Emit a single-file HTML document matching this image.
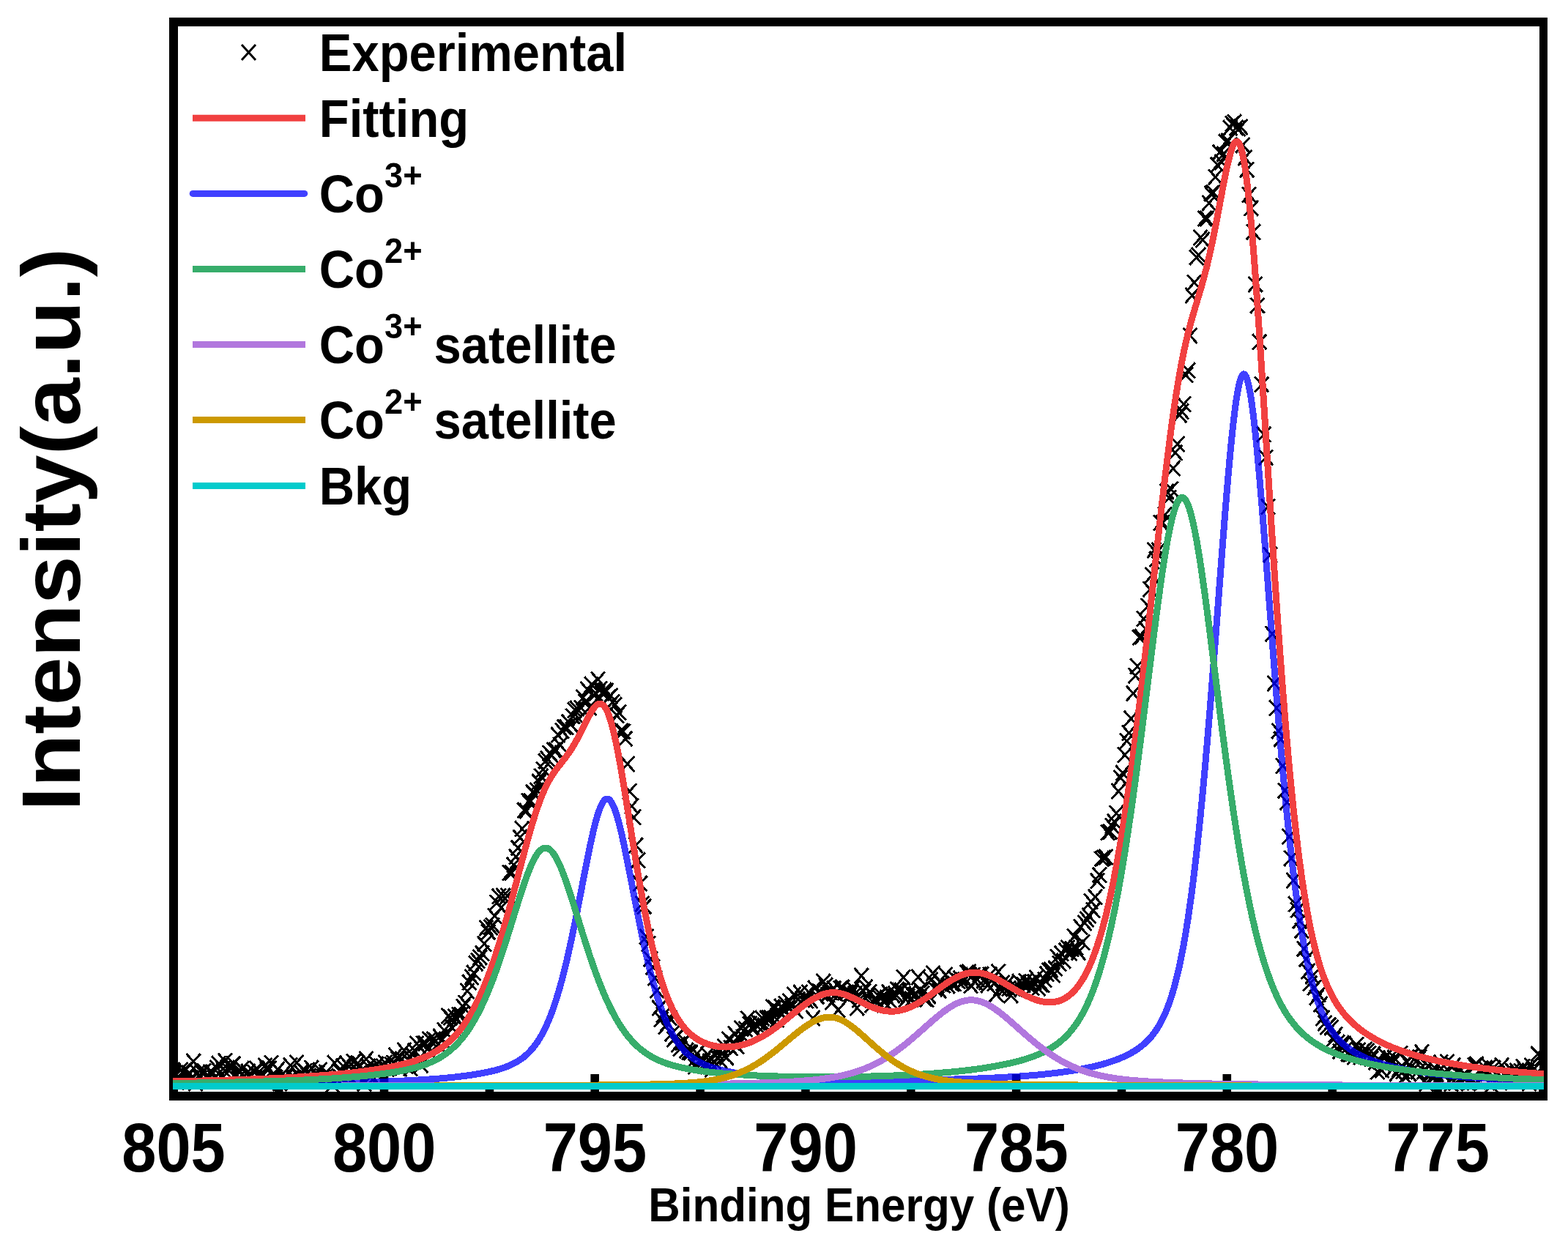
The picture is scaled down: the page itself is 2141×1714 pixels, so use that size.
<!DOCTYPE html>
<html><head><meta charset="utf-8"><title>Co 2p XPS</title>
<style>html,body{margin:0;padding:0;background:#fff;}svg{display:block}</style></head>
<body><svg width="2141" height="1714" viewBox="0 0 2141 1714" font-family="'Liberation Sans', sans-serif" font-weight="bold" fill="#000">
<defs><clipPath id="clip"><rect x="236" y="30" width="1873" height="1467"/></clipPath></defs>
<rect width="2141" height="1714" fill="#fff"/>
<path d="M231,24H2113V1503H231Z M243,36V1491H2102V36Z" fill="#000" fill-rule="evenodd"/>
<rect x="231.0" y="1467.0" width="11.6" height="30.0"/><rect x="374.9" y="1482.0" width="11.6" height="15.0"/><rect x="518.7" y="1467.0" width="11.6" height="30.0"/><rect x="662.6" y="1482.0" width="11.6" height="15.0"/><rect x="806.4" y="1467.0" width="11.6" height="30.0"/><rect x="950.3" y="1482.0" width="11.6" height="15.0"/><rect x="1094.1" y="1467.0" width="11.6" height="30.0"/><rect x="1238.0" y="1482.0" width="11.6" height="15.0"/><rect x="1381.8" y="1467.0" width="11.6" height="30.0"/><rect x="1525.7" y="1482.0" width="11.6" height="15.0"/><rect x="1669.5" y="1467.0" width="11.6" height="30.0"/><rect x="1813.4" y="1482.0" width="11.6" height="15.0"/><rect x="1957.2" y="1467.0" width="11.6" height="30.0"/><rect x="2101.1" y="1482.0" width="11.6" height="15.0"/>
<g clip-path="url(#clip)" shape-rendering="crispEdges">
<path d="M228.7,1455.8l19,21m0,-21l-19,21M231.6,1467.5l19,21m0,-21l-19,21M234.5,1466.3l19,21m0,-21l-19,21M237.4,1451.0l19,21m0,-21l-19,21M240.2,1452.9l19,21m0,-21l-19,21M243.1,1450.9l19,21m0,-21l-19,21M246.0,1460.5l19,21m0,-21l-19,21M248.9,1455.0l19,21m0,-21l-19,21M251.8,1462.1l19,21m0,-21l-19,21M254.6,1439.3l19,21m0,-21l-19,21M257.5,1469.3l19,21m0,-21l-19,21M260.4,1454.7l19,21m0,-21l-19,21M263.3,1461.5l19,21m0,-21l-19,21M266.1,1454.3l19,21m0,-21l-19,21M269.0,1452.2l19,21m0,-21l-19,21M271.9,1459.6l19,21m0,-21l-19,21M274.8,1462.7l19,21m0,-21l-19,21M277.6,1453.7l19,21m0,-21l-19,21M280.5,1454.2l19,21m0,-21l-19,21M283.4,1461.5l19,21m0,-21l-19,21M286.3,1447.8l19,21m0,-21l-19,21M289.2,1442.2l19,21m0,-21l-19,21M292.0,1459.0l19,21m0,-21l-19,21M294.9,1449.6l19,21m0,-21l-19,21M297.8,1438.6l19,21m0,-21l-19,21M300.7,1448.4l19,21m0,-21l-19,21M303.5,1451.5l19,21m0,-21l-19,21M306.4,1445.1l19,21m0,-21l-19,21M309.3,1442.5l19,21m0,-21l-19,21M312.2,1456.0l19,21m0,-21l-19,21M315.0,1463.6l19,21m0,-21l-19,21M317.9,1453.7l19,21m0,-21l-19,21M320.8,1449.3l19,21m0,-21l-19,21M323.7,1459.3l19,21m0,-21l-19,21M326.6,1462.2l19,21m0,-21l-19,21M329.4,1453.3l19,21m0,-21l-19,21M332.3,1460.8l19,21m0,-21l-19,21M335.2,1465.3l19,21m0,-21l-19,21M338.1,1454.3l19,21m0,-21l-19,21M340.9,1449.0l19,21m0,-21l-19,21M343.8,1459.3l19,21m0,-21l-19,21M346.7,1458.5l19,21m0,-21l-19,21M349.6,1466.0l19,21m0,-21l-19,21M352.4,1445.0l19,21m0,-21l-19,21M355.3,1450.6l19,21m0,-21l-19,21M358.2,1449.0l19,21m0,-21l-19,21M361.1,1441.2l19,21m0,-21l-19,21M364.0,1457.6l19,21m0,-21l-19,21M366.8,1461.2l19,21m0,-21l-19,21M369.7,1450.0l19,21m0,-21l-19,21M372.6,1468.7l19,21m0,-21l-19,21M375.5,1463.7l19,21m0,-21l-19,21M378.3,1462.0l19,21m0,-21l-19,21M381.2,1460.0l19,21m0,-21l-19,21M384.1,1464.9l19,21m0,-21l-19,21M387.0,1444.7l19,21m0,-21l-19,21M389.9,1461.8l19,21m0,-21l-19,21M392.7,1461.7l19,21m0,-21l-19,21M395.6,1440.8l19,21m0,-21l-19,21M398.5,1459.4l19,21m0,-21l-19,21M401.4,1454.1l19,21m0,-21l-19,21M404.2,1463.1l19,21m0,-21l-19,21M407.1,1452.3l19,21m0,-21l-19,21M410.0,1456.0l19,21m0,-21l-19,21M412.9,1459.1l19,21m0,-21l-19,21M415.7,1448.3l19,21m0,-21l-19,21M418.6,1461.3l19,21m0,-21l-19,21M421.5,1455.0l19,21m0,-21l-19,21M424.4,1460.2l19,21m0,-21l-19,21M427.3,1451.2l19,21m0,-21l-19,21M430.1,1465.3l19,21m0,-21l-19,21M433.0,1461.0l19,21m0,-21l-19,21M435.9,1454.0l19,21m0,-21l-19,21M438.8,1461.1l19,21m0,-21l-19,21M441.6,1466.5l19,21m0,-21l-19,21M444.5,1471.1l19,21m0,-21l-19,21M447.4,1441.5l19,21m0,-21l-19,21M450.3,1462.9l19,21m0,-21l-19,21M453.1,1459.1l19,21m0,-21l-19,21M456.0,1454.0l19,21m0,-21l-19,21M458.9,1445.8l19,21m0,-21l-19,21M461.8,1465.5l19,21m0,-21l-19,21M464.7,1443.2l19,21m0,-21l-19,21M467.5,1459.0l19,21m0,-21l-19,21M470.4,1465.1l19,21m0,-21l-19,21M473.3,1439.5l19,21m0,-21l-19,21M476.2,1450.6l19,21m0,-21l-19,21M479.0,1441.5l19,21m0,-21l-19,21M481.9,1454.7l19,21m0,-21l-19,21M484.8,1465.4l19,21m0,-21l-19,21M487.7,1469.5l19,21m0,-21l-19,21M490.5,1436.1l19,21m0,-21l-19,21M493.4,1446.2l19,21m0,-21l-19,21M496.3,1456.8l19,21m0,-21l-19,21M499.2,1464.0l19,21m0,-21l-19,21M502.1,1453.5l19,21m0,-21l-19,21M504.9,1443.0l19,21m0,-21l-19,21M507.8,1451.5l19,21m0,-21l-19,21M510.7,1448.3l19,21m0,-21l-19,21M513.6,1446.1l19,21m0,-21l-19,21M516.4,1440.9l19,21m0,-21l-19,21M519.3,1449.6l19,21m0,-21l-19,21M522.2,1447.9l19,21m0,-21l-19,21M525.1,1443.4l19,21m0,-21l-19,21M527.9,1441.1l19,21m0,-21l-19,21M530.8,1430.8l19,21m0,-21l-19,21M533.7,1436.2l19,21m0,-21l-19,21M536.6,1449.0l19,21m0,-21l-19,21M539.5,1435.8l19,21m0,-21l-19,21M542.3,1423.9l19,21m0,-21l-19,21M545.2,1445.5l19,21m0,-21l-19,21M548.1,1437.3l19,21m0,-21l-19,21M551.0,1448.8l19,21m0,-21l-19,21M553.8,1430.4l19,21m0,-21l-19,21M556.7,1424.5l19,21m0,-21l-19,21M559.6,1414.8l19,21m0,-21l-19,21M562.5,1435.9l19,21m0,-21l-19,21M565.3,1444.3l19,21m0,-21l-19,21M568.2,1414.8l19,21m0,-21l-19,21M571.1,1414.4l19,21m0,-21l-19,21M574.0,1422.6l19,21m0,-21l-19,21M576.9,1409.0l19,21m0,-21l-19,21M579.7,1411.5l19,21m0,-21l-19,21M582.6,1408.8l19,21m0,-21l-19,21M585.5,1411.0l19,21m0,-21l-19,21M588.4,1416.0l19,21m0,-21l-19,21M591.2,1405.0l19,21m0,-21l-19,21M594.1,1409.9l19,21m0,-21l-19,21M597.0,1396.6l19,21m0,-21l-19,21M599.9,1399.9l19,21m0,-21l-19,21M602.7,1377.1l19,21m0,-21l-19,21M605.6,1379.3l19,21m0,-21l-19,21M608.5,1393.5l19,21m0,-21l-19,21M611.4,1377.8l19,21m0,-21l-19,21M614.3,1381.8l19,21m0,-21l-19,21M617.1,1375.6l19,21m0,-21l-19,21M620.0,1375.4l19,21m0,-21l-19,21M622.9,1364.5l19,21m0,-21l-19,21M625.8,1359.2l19,21m0,-21l-19,21M628.6,1343.1l19,21m0,-21l-19,21M631.5,1331.4l19,21m0,-21l-19,21M634.4,1323.9l19,21m0,-21l-19,21M637.3,1318.2l19,21m0,-21l-19,21M640.1,1305.1l19,21m0,-21l-19,21M643.0,1301.6l19,21m0,-21l-19,21M645.9,1297.0l19,21m0,-21l-19,21M648.8,1291.5l19,21m0,-21l-19,21M651.7,1278.4l19,21m0,-21l-19,21M654.5,1256.8l19,21m0,-21l-19,21M657.4,1262.6l19,21m0,-21l-19,21M660.3,1255.8l19,21m0,-21l-19,21M663.2,1253.5l19,21m0,-21l-19,21M666.0,1240.5l19,21m0,-21l-19,21M668.9,1222.1l19,21m0,-21l-19,21M671.8,1213.7l19,21m0,-21l-19,21M674.7,1229.3l19,21m0,-21l-19,21M677.6,1213.3l19,21m0,-21l-19,21M680.4,1216.5l19,21m0,-21l-19,21M683.3,1212.9l19,21m0,-21l-19,21M686.2,1181.3l19,21m0,-21l-19,21M689.1,1181.6l19,21m0,-21l-19,21M691.9,1170.8l19,21m0,-21l-19,21M694.8,1159.6l19,21m0,-21l-19,21M697.7,1147.5l19,21m0,-21l-19,21M700.6,1133.4l19,21m0,-21l-19,21M703.4,1121.5l19,21m0,-21l-19,21M706.3,1096.2l19,21m0,-21l-19,21M709.2,1097.1l19,21m0,-21l-19,21M712.1,1083.8l19,21m0,-21l-19,21M715.0,1083.5l19,21m0,-21l-19,21M717.8,1071.6l19,21m0,-21l-19,21M720.7,1074.0l19,21m0,-21l-19,21M723.6,1068.8l19,21m0,-21l-19,21M726.5,1057.3l19,21m0,-21l-19,21M729.3,1049.7l19,21m0,-21l-19,21M732.2,1040.3l19,21m0,-21l-19,21M735.1,1029.0l19,21m0,-21l-19,21M738.0,1025.8l19,21m0,-21l-19,21M740.8,1018.2l19,21m0,-21l-19,21M743.7,1021.1l19,21m0,-21l-19,21M746.6,1013.7l19,21m0,-21l-19,21M749.5,1014.1l19,21m0,-21l-19,21M752.4,993.2l19,21m0,-21l-19,21M755.2,1006.8l19,21m0,-21l-19,21M758.1,987.7l19,21m0,-21l-19,21M761.0,982.9l19,21m0,-21l-19,21M763.9,982.8l19,21m0,-21l-19,21M766.7,975.5l19,21m0,-21l-19,21M769.6,978.8l19,21m0,-21l-19,21M772.5,967.6l19,21m0,-21l-19,21M775.4,959.4l19,21m0,-21l-19,21M778.2,957.1l19,21m0,-21l-19,21M781.1,971.1l19,21m0,-21l-19,21M784.0,956.3l19,21m0,-21l-19,21M786.9,942.0l19,21m0,-21l-19,21M789.8,948.0l19,21m0,-21l-19,21M792.6,931.2l19,21m0,-21l-19,21M795.5,955.9l19,21m0,-21l-19,21M798.4,924.5l19,21m0,-21l-19,21M801.3,938.6l19,21m0,-21l-19,21M804.1,936.8l19,21m0,-21l-19,21M807.0,917.6l19,21m0,-21l-19,21M809.9,930.7l19,21m0,-21l-19,21M812.8,936.0l19,21m0,-21l-19,21M815.6,932.5l19,21m0,-21l-19,21M818.5,933.2l19,21m0,-21l-19,21M821.4,942.2l19,21m0,-21l-19,21M824.3,939.8l19,21m0,-21l-19,21M827.2,948.3l19,21m0,-21l-19,21M830.0,952.1l19,21m0,-21l-19,21M832.9,966.7l19,21m0,-21l-19,21M835.8,962.6l19,21m0,-21l-19,21M838.7,987.7l19,21m0,-21l-19,21M841.5,988.5l19,21m0,-21l-19,21M844.4,998.4l19,21m0,-21l-19,21M847.3,1032.8l19,21m0,-21l-19,21M850.2,1070.2l19,21m0,-21l-19,21M853.0,1090.5l19,21m0,-21l-19,21M855.9,1105.8l19,21m0,-21l-19,21M858.8,1144.1l19,21m0,-21l-19,21M861.7,1164.4l19,21m0,-21l-19,21M864.6,1196.3l19,21m0,-21l-19,21M867.4,1223.9l19,21m0,-21l-19,21M870.3,1227.4l19,21m0,-21l-19,21M873.2,1268.9l19,21m0,-21l-19,21M876.1,1278.4l19,21m0,-21l-19,21M878.9,1299.2l19,21m0,-21l-19,21M881.8,1310.2l19,21m0,-21l-19,21M884.7,1325.2l19,21m0,-21l-19,21M887.6,1342.2l19,21m0,-21l-19,21M890.4,1366.2l19,21m0,-21l-19,21M893.3,1381.6l19,21m0,-21l-19,21M896.2,1375.7l19,21m0,-21l-19,21M899.1,1391.4l19,21m0,-21l-19,21M902.0,1386.7l19,21m0,-21l-19,21M904.8,1379.3l19,21m0,-21l-19,21M907.7,1401.4l19,21m0,-21l-19,21M910.6,1408.8l19,21m0,-21l-19,21M913.5,1406.3l19,21m0,-21l-19,21M916.3,1416.2l19,21m0,-21l-19,21M919.2,1421.7l19,21m0,-21l-19,21M922.1,1413.2l19,21m0,-21l-19,21M925.0,1411.2l19,21m0,-21l-19,21M927.8,1424.2l19,21m0,-21l-19,21M930.7,1426.6l19,21m0,-21l-19,21M933.6,1427.2l19,21m0,-21l-19,21M936.5,1439.3l19,21m0,-21l-19,21M939.4,1445.9l19,21m0,-21l-19,21M942.2,1428.5l19,21m0,-21l-19,21M945.1,1438.0l19,21m0,-21l-19,21M948.0,1440.3l19,21m0,-21l-19,21M950.9,1438.6l19,21m0,-21l-19,21M953.7,1441.6l19,21m0,-21l-19,21M956.6,1429.8l19,21m0,-21l-19,21M959.5,1439.2l19,21m0,-21l-19,21M962.4,1449.9l19,21m0,-21l-19,21M965.3,1439.2l19,21m0,-21l-19,21M968.1,1426.2l19,21m0,-21l-19,21M971.0,1434.7l19,21m0,-21l-19,21M973.9,1438.1l19,21m0,-21l-19,21M976.8,1428.6l19,21m0,-21l-19,21M979.6,1418.7l19,21m0,-21l-19,21M982.5,1433.7l19,21m0,-21l-19,21M985.4,1408.8l19,21m0,-21l-19,21M988.3,1420.7l19,21m0,-21l-19,21M991.1,1413.9l19,21m0,-21l-19,21M994.0,1401.6l19,21m0,-21l-19,21M996.9,1418.3l19,21m0,-21l-19,21M999.8,1408.6l19,21m0,-21l-19,21M1002.7,1393.9l19,21m0,-21l-19,21M1005.5,1405.6l19,21m0,-21l-19,21M1008.4,1394.9l19,21m0,-21l-19,21M1011.3,1380.7l19,21m0,-21l-19,21M1014.2,1388.1l19,21m0,-21l-19,21M1017.0,1393.5l19,21m0,-21l-19,21M1019.9,1394.4l19,21m0,-21l-19,21M1022.8,1388.6l19,21m0,-21l-19,21M1025.7,1385.8l19,21m0,-21l-19,21M1028.5,1387.5l19,21m0,-21l-19,21M1031.4,1380.4l19,21m0,-21l-19,21M1034.3,1389.8l19,21m0,-21l-19,21M1037.2,1380.0l19,21m0,-21l-19,21M1040.1,1379.4l19,21m0,-21l-19,21M1042.9,1379.6l19,21m0,-21l-19,21M1045.8,1365.0l19,21m0,-21l-19,21M1048.7,1365.9l19,21m0,-21l-19,21M1051.6,1381.9l19,21m0,-21l-19,21M1054.4,1370.7l19,21m0,-21l-19,21M1057.3,1364.2l19,21m0,-21l-19,21M1060.2,1368.0l19,21m0,-21l-19,21M1063.1,1360.3l19,21m0,-21l-19,21M1065.9,1365.3l19,21m0,-21l-19,21M1068.8,1356.9l19,21m0,-21l-19,21M1071.7,1363.5l19,21m0,-21l-19,21M1074.6,1347.8l19,21m0,-21l-19,21M1077.5,1370.1l19,21m0,-21l-19,21M1080.3,1354.4l19,21m0,-21l-19,21M1083.2,1345.0l19,21m0,-21l-19,21M1086.1,1355.0l19,21m0,-21l-19,21M1089.0,1353.0l19,21m0,-21l-19,21M1091.8,1356.2l19,21m0,-21l-19,21M1094.7,1344.8l19,21m0,-21l-19,21M1097.6,1356.0l19,21m0,-21l-19,21M1100.5,1380.2l19,21m0,-21l-19,21M1103.3,1339.2l19,21m0,-21l-19,21M1106.2,1350.3l19,21m0,-21l-19,21M1109.1,1343.5l19,21m0,-21l-19,21M1112.0,1346.4l19,21m0,-21l-19,21M1114.9,1330.0l19,21m0,-21l-19,21M1117.7,1335.4l19,21m0,-21l-19,21M1120.6,1348.4l19,21m0,-21l-19,21M1123.5,1344.6l19,21m0,-21l-19,21M1126.4,1358.3l19,21m0,-21l-19,21M1129.2,1339.7l19,21m0,-21l-19,21M1132.1,1346.9l19,21m0,-21l-19,21M1135.0,1368.8l19,21m0,-21l-19,21M1137.9,1339.4l19,21m0,-21l-19,21M1140.7,1338.2l19,21m0,-21l-19,21M1143.6,1345.1l19,21m0,-21l-19,21M1146.5,1345.0l19,21m0,-21l-19,21M1149.4,1352.1l19,21m0,-21l-19,21M1152.3,1346.3l19,21m0,-21l-19,21M1155.1,1339.2l19,21m0,-21l-19,21M1158.0,1346.8l19,21m0,-21l-19,21M1160.9,1366.0l19,21m0,-21l-19,21M1163.8,1354.9l19,21m0,-21l-19,21M1166.6,1322.3l19,21m0,-21l-19,21M1169.5,1343.4l19,21m0,-21l-19,21M1172.4,1337.6l19,21m0,-21l-19,21M1175.3,1350.0l19,21m0,-21l-19,21M1178.1,1344.3l19,21m0,-21l-19,21M1181.0,1362.0l19,21m0,-21l-19,21M1183.9,1354.7l19,21m0,-21l-19,21M1186.8,1354.9l19,21m0,-21l-19,21M1189.7,1349.5l19,21m0,-21l-19,21M1192.5,1347.7l19,21m0,-21l-19,21M1195.4,1350.6l19,21m0,-21l-19,21M1198.3,1358.2l19,21m0,-21l-19,21M1201.2,1352.0l19,21m0,-21l-19,21M1204.0,1344.8l19,21m0,-21l-19,21M1206.9,1357.7l19,21m0,-21l-19,21M1209.8,1349.0l19,21m0,-21l-19,21M1212.7,1346.7l19,21m0,-21l-19,21M1215.5,1340.9l19,21m0,-21l-19,21M1218.4,1342.5l19,21m0,-21l-19,21M1221.3,1341.8l19,21m0,-21l-19,21M1224.2,1324.4l19,21m0,-21l-19,21M1227.1,1354.6l19,21m0,-21l-19,21M1229.9,1350.7l19,21m0,-21l-19,21M1232.8,1344.1l19,21m0,-21l-19,21M1235.7,1353.8l19,21m0,-21l-19,21M1238.6,1348.4l19,21m0,-21l-19,21M1241.4,1347.3l19,21m0,-21l-19,21M1244.3,1324.0l19,21m0,-21l-19,21M1247.2,1341.2l19,21m0,-21l-19,21M1250.1,1346.4l19,21m0,-21l-19,21M1253.0,1353.8l19,21m0,-21l-19,21M1255.8,1354.4l19,21m0,-21l-19,21M1258.7,1349.9l19,21m0,-21l-19,21M1261.6,1328.0l19,21m0,-21l-19,21M1264.5,1318.8l19,21m0,-21l-19,21M1267.3,1340.3l19,21m0,-21l-19,21M1270.2,1335.3l19,21m0,-21l-19,21M1273.1,1342.3l19,21m0,-21l-19,21M1276.0,1333.0l19,21m0,-21l-19,21M1278.8,1335.2l19,21m0,-21l-19,21M1281.7,1320.8l19,21m0,-21l-19,21M1284.6,1335.6l19,21m0,-21l-19,21M1287.5,1327.5l19,21m0,-21l-19,21M1290.4,1332.9l19,21m0,-21l-19,21M1293.2,1332.8l19,21m0,-21l-19,21M1296.1,1327.1l19,21m0,-21l-19,21M1299.0,1329.6l19,21m0,-21l-19,21M1301.9,1325.9l19,21m0,-21l-19,21M1304.7,1330.9l19,21m0,-21l-19,21M1307.6,1327.6l19,21m0,-21l-19,21M1310.5,1318.0l19,21m0,-21l-19,21M1313.4,1317.0l19,21m0,-21l-19,21M1316.2,1335.5l19,21m0,-21l-19,21M1319.1,1321.1l19,21m0,-21l-19,21M1322.0,1330.7l19,21m0,-21l-19,21M1324.9,1327.0l19,21m0,-21l-19,21M1327.8,1320.7l19,21m0,-21l-19,21M1330.6,1320.5l19,21m0,-21l-19,21M1333.5,1328.7l19,21m0,-21l-19,21M1336.4,1330.9l19,21m0,-21l-19,21M1339.3,1334.8l19,21m0,-21l-19,21M1342.1,1320.9l19,21m0,-21l-19,21M1345.0,1327.6l19,21m0,-21l-19,21M1347.9,1332.7l19,21m0,-21l-19,21M1350.8,1347.4l19,21m0,-21l-19,21M1353.6,1316.6l19,21m0,-21l-19,21M1356.5,1339.7l19,21m0,-21l-19,21M1359.4,1332.1l19,21m0,-21l-19,21M1362.3,1340.0l19,21m0,-21l-19,21M1365.2,1332.6l19,21m0,-21l-19,21M1368.0,1339.4l19,21m0,-21l-19,21M1370.9,1349.0l19,21m0,-21l-19,21M1373.8,1339.3l19,21m0,-21l-19,21M1376.7,1340.0l19,21m0,-21l-19,21M1379.5,1339.5l19,21m0,-21l-19,21M1382.4,1330.5l19,21m0,-21l-19,21M1385.3,1340.8l19,21m0,-21l-19,21M1388.2,1334.6l19,21m0,-21l-19,21M1391.0,1329.2l19,21m0,-21l-19,21M1393.9,1334.5l19,21m0,-21l-19,21M1396.8,1331.9l19,21m0,-21l-19,21M1399.7,1338.4l19,21m0,-21l-19,21M1402.6,1330.5l19,21m0,-21l-19,21M1405.4,1325.0l19,21m0,-21l-19,21M1408.3,1339.3l19,21m0,-21l-19,21M1411.2,1334.1l19,21m0,-21l-19,21M1414.1,1334.7l19,21m0,-21l-19,21M1416.9,1327.5l19,21m0,-21l-19,21M1419.8,1319.7l19,21m0,-21l-19,21M1422.7,1315.0l19,21m0,-21l-19,21M1425.6,1313.9l19,21m0,-21l-19,21M1428.4,1321.3l19,21m0,-21l-19,21M1431.3,1312.1l19,21m0,-21l-19,21M1434.2,1296.7l19,21m0,-21l-19,21M1437.1,1305.7l19,21m0,-21l-19,21M1440.0,1291.9l19,21m0,-21l-19,21M1442.8,1301.8l19,21m0,-21l-19,21M1445.7,1287.6l19,21m0,-21l-19,21M1448.6,1283.7l19,21m0,-21l-19,21M1451.5,1291.2l19,21m0,-21l-19,21M1454.3,1285.6l19,21m0,-21l-19,21M1457.2,1268.6l19,21m0,-21l-19,21M1460.1,1283.6l19,21m0,-21l-19,21M1463.0,1290.2l19,21m0,-21l-19,21M1465.8,1255.4l19,21m0,-21l-19,21M1468.7,1276.5l19,21m0,-21l-19,21M1471.6,1250.0l19,21m0,-21l-19,21M1474.5,1245.0l19,21m0,-21l-19,21M1477.4,1240.1l19,21m0,-21l-19,21M1480.2,1220.7l19,21m0,-21l-19,21M1483.1,1232.7l19,21m0,-21l-19,21M1486.0,1214.7l19,21m0,-21l-19,21M1488.9,1192.7l19,21m0,-21l-19,21M1491.7,1184.5l19,21m0,-21l-19,21M1494.6,1162.5l19,21m0,-21l-19,21M1497.5,1160.8l19,21m0,-21l-19,21M1500.4,1160.0l19,21m0,-21l-19,21M1503.2,1126.6l19,21m0,-21l-19,21M1506.1,1125.2l19,21m0,-21l-19,21M1509.0,1117.5l19,21m0,-21l-19,21M1511.9,1111.7l19,21m0,-21l-19,21M1514.8,1100.2l19,21m0,-21l-19,21M1517.6,1070.2l19,21m0,-21l-19,21M1520.5,1051.9l19,21m0,-21l-19,21M1523.4,1045.2l19,21m0,-21l-19,21M1526.3,1020.5l19,21m0,-21l-19,21M1529.1,1001.5l19,21m0,-21l-19,21M1532.0,990.5l19,21m0,-21l-19,21M1534.9,970.8l19,21m0,-21l-19,21M1537.8,936.5l19,21m0,-21l-19,21M1540.7,912.3l19,21m0,-21l-19,21M1543.5,899.5l19,21m0,-21l-19,21M1546.4,860.3l19,21m0,-21l-19,21M1549.3,859.1l19,21m0,-21l-19,21M1552.2,834.7l19,21m0,-21l-19,21M1555.0,848.6l19,21m0,-21l-19,21M1557.9,817.1l19,21m0,-21l-19,21M1560.8,794.2l19,21m0,-21l-19,21M1563.7,774.8l19,21m0,-21l-19,21M1566.5,740.8l19,21m0,-21l-19,21M1569.4,753.3l19,21m0,-21l-19,21M1572.3,741.0l19,21m0,-21l-19,21M1575.2,703.3l19,21m0,-21l-19,21M1578.1,703.8l19,21m0,-21l-19,21M1580.9,692.7l19,21m0,-21l-19,21M1583.8,661.0l19,21m0,-21l-19,21M1586.7,669.5l19,21m0,-21l-19,21M1589.6,657.6l19,21m0,-21l-19,21M1592.4,629.3l19,21m0,-21l-19,21M1595.3,607.7l19,21m0,-21l-19,21M1598.2,596.0l19,21m0,-21l-19,21M1601.1,556.2l19,21m0,-21l-19,21M1603.9,551.2l19,21m0,-21l-19,21M1606.8,541.5l19,21m0,-21l-19,21M1609.7,501.5l19,21m0,-21l-19,21M1612.6,495.5l19,21m0,-21l-19,21M1615.5,447.8l19,21m0,-21l-19,21M1618.3,393.0l19,21m0,-21l-19,21M1621.2,375.4l19,21m0,-21l-19,21M1624.1,341.0l19,21m0,-21l-19,21M1627.0,338.0l19,21m0,-21l-19,21M1629.8,313.9l19,21m0,-21l-19,21M1632.7,317.0l19,21m0,-21l-19,21M1635.6,287.8l19,21m0,-21l-19,21M1638.5,288.2l19,21m0,-21l-19,21M1641.3,266.9l19,21m0,-21l-19,21M1644.2,253.9l19,21m0,-21l-19,21M1647.1,252.4l19,21m0,-21l-19,21M1650.0,231.3l19,21m0,-21l-19,21M1652.9,214.8l19,21m0,-21l-19,21M1655.7,197.6l19,21m0,-21l-19,21M1658.6,211.0l19,21m0,-21l-19,21M1661.5,199.7l19,21m0,-21l-19,21M1664.4,183.4l19,21m0,-21l-19,21M1667.2,182.0l19,21m0,-21l-19,21M1670.1,164.1l19,21m0,-21l-19,21M1673.0,158.6l19,21m0,-21l-19,21M1675.9,156.2l19,21m0,-21l-19,21M1678.7,163.9l19,21m0,-21l-19,21M1681.6,165.3l19,21m0,-21l-19,21M1684.5,162.8l19,21m0,-21l-19,21M1687.4,187.7l19,21m0,-21l-19,21M1690.3,205.0l19,21m0,-21l-19,21M1693.1,221.2l19,21m0,-21l-19,21M1696.0,255.5l19,21m0,-21l-19,21M1698.9,273.9l19,21m0,-21l-19,21M1701.8,306.3l19,21m0,-21l-19,21M1704.6,377.7l19,21m0,-21l-19,21M1707.5,406.6l19,21m0,-21l-19,21M1710.4,456.4l19,21m0,-21l-19,21M1713.3,514.6l19,21m0,-21l-19,21M1716.1,582.9l19,21m0,-21l-19,21M1719.0,614.2l19,21m0,-21l-19,21M1721.9,681.6l19,21m0,-21l-19,21M1724.8,747.3l19,21m0,-21l-19,21M1727.7,855.3l19,21m0,-21l-19,21M1730.5,922.8l19,21m0,-21l-19,21M1733.4,956.5l19,21m0,-21l-19,21M1736.3,987.8l19,21m0,-21l-19,21M1739.2,999.1l19,21m0,-21l-19,21M1742.0,1035.5l19,21m0,-21l-19,21M1744.9,1069.2l19,21m0,-21l-19,21M1747.8,1085.2l19,21m0,-21l-19,21M1750.7,1132.1l19,21m0,-21l-19,21M1753.5,1161.6l19,21m0,-21l-19,21M1756.4,1192.0l19,21m0,-21l-19,21M1759.3,1224.3l19,21m0,-21l-19,21M1762.2,1232.2l19,21m0,-21l-19,21M1765.1,1247.1l19,21m0,-21l-19,21M1767.9,1260.3l19,21m0,-21l-19,21M1770.8,1285.4l19,21m0,-21l-19,21M1773.7,1299.4l19,21m0,-21l-19,21M1776.6,1316.0l19,21m0,-21l-19,21M1779.4,1332.4l19,21m0,-21l-19,21M1782.3,1322.9l19,21m0,-21l-19,21M1785.2,1338.2l19,21m0,-21l-19,21M1788.1,1351.9l19,21m0,-21l-19,21M1790.9,1347.4l19,21m0,-21l-19,21M1793.8,1360.9l19,21m0,-21l-19,21M1796.7,1379.8l19,21m0,-21l-19,21M1799.6,1386.7l19,21m0,-21l-19,21M1802.5,1392.3l19,21m0,-21l-19,21M1805.3,1389.6l19,21m0,-21l-19,21M1808.2,1393.0l19,21m0,-21l-19,21M1811.1,1408.9l19,21m0,-21l-19,21M1814.0,1402.7l19,21m0,-21l-19,21M1816.8,1413.3l19,21m0,-21l-19,21M1819.7,1425.4l19,21m0,-21l-19,21M1822.6,1414.5l19,21m0,-21l-19,21M1825.5,1414.9l19,21m0,-21l-19,21M1828.4,1422.0l19,21m0,-21l-19,21M1831.2,1428.8l19,21m0,-21l-19,21M1834.1,1429.5l19,21m0,-21l-19,21M1837.0,1428.4l19,21m0,-21l-19,21M1839.9,1433.0l19,21m0,-21l-19,21M1842.7,1416.5l19,21m0,-21l-19,21M1845.6,1423.8l19,21m0,-21l-19,21M1848.5,1433.4l19,21m0,-21l-19,21M1851.4,1425.4l19,21m0,-21l-19,21M1854.2,1423.0l19,21m0,-21l-19,21M1857.1,1425.0l19,21m0,-21l-19,21M1860.0,1428.3l19,21m0,-21l-19,21M1862.9,1435.4l19,21m0,-21l-19,21M1865.8,1429.1l19,21m0,-21l-19,21M1868.6,1440.4l19,21m0,-21l-19,21M1871.5,1453.4l19,21m0,-21l-19,21M1874.4,1438.6l19,21m0,-21l-19,21M1877.3,1451.2l19,21m0,-21l-19,21M1880.1,1443.6l19,21m0,-21l-19,21M1883.0,1432.3l19,21m0,-21l-19,21M1885.9,1440.2l19,21m0,-21l-19,21M1888.8,1434.7l19,21m0,-21l-19,21M1891.6,1450.0l19,21m0,-21l-19,21M1894.5,1434.3l19,21m0,-21l-19,21M1897.4,1455.8l19,21m0,-21l-19,21M1900.3,1450.0l19,21m0,-21l-19,21M1903.2,1428.4l19,21m0,-21l-19,21M1906.0,1452.8l19,21m0,-21l-19,21M1908.9,1459.8l19,21m0,-21l-19,21M1911.8,1440.2l19,21m0,-21l-19,21M1914.7,1455.8l19,21m0,-21l-19,21M1917.5,1432.3l19,21m0,-21l-19,21M1920.4,1450.3l19,21m0,-21l-19,21M1923.3,1434.2l19,21m0,-21l-19,21M1926.2,1452.9l19,21m0,-21l-19,21M1929.0,1433.7l19,21m0,-21l-19,21M1931.9,1426.7l19,21m0,-21l-19,21M1934.8,1453.0l19,21m0,-21l-19,21M1937.7,1469.6l19,21m0,-21l-19,21M1940.6,1445.0l19,21m0,-21l-19,21M1943.4,1457.5l19,21m0,-21l-19,21M1946.3,1451.5l19,21m0,-21l-19,21M1949.2,1448.0l19,21m0,-21l-19,21M1952.1,1456.3l19,21m0,-21l-19,21M1954.9,1465.4l19,21m0,-21l-19,21M1957.8,1440.7l19,21m0,-21l-19,21M1960.7,1456.5l19,21m0,-21l-19,21M1963.6,1454.9l19,21m0,-21l-19,21M1966.4,1439.8l19,21m0,-21l-19,21M1969.3,1466.4l19,21m0,-21l-19,21M1972.2,1469.6l19,21m0,-21l-19,21M1975.1,1444.7l19,21m0,-21l-19,21M1978.0,1468.5l19,21m0,-21l-19,21M1980.8,1454.2l19,21m0,-21l-19,21M1983.7,1452.7l19,21m0,-21l-19,21M1986.6,1467.7l19,21m0,-21l-19,21M1989.5,1456.9l19,21m0,-21l-19,21M1992.3,1458.2l19,21m0,-21l-19,21M1995.2,1469.1l19,21m0,-21l-19,21M1998.1,1467.5l19,21m0,-21l-19,21M2001.0,1464.3l19,21m0,-21l-19,21M2003.8,1444.4l19,21m0,-21l-19,21M2006.7,1443.1l19,21m0,-21l-19,21M2009.6,1467.2l19,21m0,-21l-19,21M2012.5,1449.2l19,21m0,-21l-19,21M2015.4,1458.8l19,21m0,-21l-19,21M2018.2,1448.0l19,21m0,-21l-19,21M2021.1,1455.9l19,21m0,-21l-19,21M2024.0,1446.1l19,21m0,-21l-19,21M2026.9,1471.9l19,21m0,-21l-19,21M2029.7,1448.4l19,21m0,-21l-19,21M2032.6,1456.3l19,21m0,-21l-19,21M2035.5,1455.6l19,21m0,-21l-19,21M2038.4,1467.9l19,21m0,-21l-19,21M2041.2,1444.6l19,21m0,-21l-19,21M2044.1,1456.7l19,21m0,-21l-19,21M2047.0,1455.0l19,21m0,-21l-19,21M2049.9,1461.5l19,21m0,-21l-19,21M2052.8,1460.8l19,21m0,-21l-19,21M2055.6,1452.4l19,21m0,-21l-19,21M2058.5,1458.2l19,21m0,-21l-19,21M2061.4,1452.1l19,21m0,-21l-19,21M2064.3,1458.6l19,21m0,-21l-19,21M2067.1,1452.5l19,21m0,-21l-19,21M2070.0,1446.6l19,21m0,-21l-19,21M2072.9,1451.1l19,21m0,-21l-19,21M2075.8,1453.6l19,21m0,-21l-19,21M2078.6,1469.2l19,21m0,-21l-19,21M2081.5,1444.7l19,21m0,-21l-19,21M2084.4,1450.8l19,21m0,-21l-19,21M2087.3,1460.0l19,21m0,-21l-19,21M2090.2,1429.0l19,21m0,-21l-19,21M2093.0,1431.3l19,21m0,-21l-19,21M2095.9,1435.4l19,21m0,-21l-19,21M2098.8,1443.9l19,21m0,-21l-19,21" fill="none" stroke="#000" stroke-width="3"/>
<path d="M236.0,1476.9 L237.0,1476.9 L238.0,1476.8 L239.0,1476.8 L240.0,1476.8 L241.0,1476.8 L242.0,1476.7 L243.0,1476.7 L244.0,1476.7 L245.0,1476.7 L246.0,1476.7 L247.0,1476.6 L248.0,1476.6 L249.0,1476.6 L250.0,1476.6 L251.0,1476.6 L252.0,1476.5 L253.0,1476.5 L254.0,1476.5 L255.0,1476.5 L256.0,1476.4 L257.0,1476.4 L258.0,1476.4 L259.0,1476.4 L260.0,1476.4 L261.0,1476.3 L262.0,1476.3 L263.0,1476.3 L264.0,1476.3 L265.0,1476.2 L266.0,1476.2 L267.0,1476.2 L268.0,1476.2 L269.0,1476.1 L270.0,1476.1 L271.0,1476.1 L272.0,1476.1 L273.0,1476.0 L274.0,1476.0 L275.0,1476.0 L276.0,1476.0 L277.0,1475.9 L278.0,1475.9 L279.0,1475.9 L280.0,1475.9 L281.0,1475.8 L282.0,1475.8 L283.0,1475.8 L284.0,1475.8 L285.0,1475.7 L286.0,1475.7 L287.0,1475.7 L288.0,1475.7 L289.0,1475.6 L290.0,1475.6 L291.0,1475.6 L292.0,1475.6 L293.0,1475.5 L294.0,1475.5 L295.0,1475.5 L296.0,1475.4 L297.0,1475.4 L298.0,1475.4 L299.0,1475.4 L300.0,1475.3 L301.0,1475.3 L302.0,1475.3 L303.0,1475.2 L304.0,1475.2 L305.0,1475.2 L306.0,1475.2 L307.0,1475.1 L308.0,1475.1 L309.0,1475.1 L310.0,1475.0 L311.0,1475.0 L312.0,1475.0 L313.0,1474.9 L314.0,1474.9 L315.0,1474.9 L316.0,1474.8 L317.0,1474.8 L318.0,1474.8 L319.0,1474.8 L320.0,1474.7 L321.0,1474.7 L322.0,1474.7 L323.0,1474.6 L324.0,1474.6 L325.0,1474.6 L326.0,1474.5 L327.0,1474.5 L328.0,1474.5 L329.0,1474.4 L330.0,1474.4 L331.0,1474.4 L332.0,1474.3 L333.0,1474.3 L334.0,1474.2 L335.0,1474.2 L336.0,1474.2 L337.0,1474.1 L338.0,1474.1 L339.0,1474.1 L340.0,1474.0 L341.0,1474.0 L342.0,1474.0 L343.0,1473.9 L344.0,1473.9 L345.0,1473.8 L346.0,1473.8 L347.0,1473.8 L348.0,1473.7 L349.0,1473.7 L350.0,1473.7 L351.0,1473.6 L352.0,1473.6 L353.0,1473.5 L354.0,1473.5 L355.0,1473.5 L356.0,1473.4 L357.0,1473.4 L358.0,1473.3 L359.0,1473.3 L360.0,1473.2 L361.0,1473.2 L362.0,1473.2 L363.0,1473.1 L364.0,1473.1 L365.0,1473.0 L366.0,1473.0 L367.0,1473.0 L368.0,1472.9 L369.0,1472.9 L370.0,1472.8 L371.0,1472.8 L372.0,1472.7 L373.0,1472.7 L374.0,1472.6 L375.0,1472.6 L376.0,1472.5 L377.0,1472.5 L378.0,1472.5 L379.0,1472.4 L380.0,1472.4 L381.0,1472.3 L382.0,1472.3 L383.0,1472.2 L384.0,1472.2 L385.0,1472.1 L386.0,1472.1 L387.0,1472.0 L388.0,1472.0 L389.0,1471.9 L390.0,1471.9 L391.0,1471.8 L392.0,1471.8 L393.0,1471.7 L394.0,1471.7 L395.0,1471.6 L396.0,1471.5 L397.0,1471.5 L398.0,1471.4 L399.0,1471.4 L400.0,1471.3 L401.0,1471.3 L402.0,1471.2 L403.0,1471.2 L404.0,1471.1 L405.0,1471.0 L406.0,1471.0 L407.0,1470.9 L408.0,1470.9 L409.0,1470.8 L410.0,1470.7 L411.0,1470.7 L412.0,1470.6 L413.0,1470.6 L414.0,1470.5 L415.0,1470.4 L416.0,1470.4 L417.0,1470.3 L418.0,1470.3 L419.0,1470.2 L420.0,1470.1 L421.0,1470.1 L422.0,1470.0 L423.0,1469.9 L424.0,1469.9 L425.0,1469.8 L426.0,1469.7 L427.0,1469.7 L428.0,1469.6 L429.0,1469.5 L430.0,1469.5 L431.0,1469.4 L432.0,1469.3 L433.0,1469.2 L434.0,1469.2 L435.0,1469.1 L436.0,1469.0 L437.0,1468.9 L438.0,1468.9 L439.0,1468.8 L440.0,1468.7 L441.0,1468.6 L442.0,1468.6 L443.0,1468.5 L444.0,1468.4 L445.0,1468.3 L446.0,1468.3 L447.0,1468.2 L448.0,1468.1 L449.0,1468.0 L450.0,1467.9 L451.0,1467.8 L452.0,1467.8 L453.0,1467.7 L454.0,1467.6 L455.0,1467.5 L456.0,1467.4 L457.0,1467.3 L458.0,1467.2 L459.0,1467.2 L460.0,1467.1 L461.0,1467.0 L462.0,1466.9 L463.0,1466.8 L464.0,1466.7 L465.0,1466.6 L466.0,1466.5 L467.0,1466.4 L468.0,1466.3 L469.0,1466.2 L470.0,1466.1 L471.0,1466.0 L472.0,1465.9 L473.0,1465.8 L474.0,1465.7 L475.0,1465.6 L476.0,1465.5 L477.0,1465.4 L478.0,1465.3 L479.0,1465.2 L480.0,1465.1 L481.0,1465.0 L482.0,1464.9 L483.0,1464.7 L484.0,1464.6 L485.0,1464.5 L486.0,1464.4 L487.0,1464.3 L488.0,1464.2 L489.0,1464.0 L490.0,1463.9 L491.0,1463.8 L492.0,1463.7 L493.0,1463.6 L494.0,1463.4 L495.0,1463.3 L496.0,1463.2 L497.0,1463.0 L498.0,1462.9 L499.0,1462.8 L500.0,1462.7 L501.0,1462.5 L502.0,1462.4 L503.0,1462.2 L504.0,1462.1 L505.0,1462.0 L506.0,1461.8 L507.0,1461.7 L508.0,1461.5 L509.0,1461.4 L510.0,1461.2 L511.0,1461.1 L512.0,1460.9 L513.0,1460.8 L514.0,1460.6 L515.0,1460.5 L516.0,1460.3 L517.0,1460.2 L518.0,1460.0 L519.0,1459.8 L520.0,1459.7 L521.0,1459.5 L522.0,1459.3 L523.0,1459.2 L524.0,1459.0 L525.0,1458.8 L526.0,1458.6 L527.0,1458.4 L528.0,1458.3 L529.0,1458.1 L530.0,1457.9 L531.0,1457.7 L532.0,1457.5 L533.0,1457.3 L534.0,1457.1 L535.0,1456.9 L536.0,1456.7 L537.0,1456.5 L538.0,1456.3 L539.0,1456.1 L540.0,1455.9 L541.0,1455.6 L542.0,1455.4 L543.0,1455.2 L544.0,1455.0 L545.0,1454.7 L546.0,1454.5 L547.0,1454.3 L548.0,1454.0 L549.0,1453.8 L550.0,1453.5 L551.0,1453.3 L552.0,1453.0 L553.0,1452.8 L554.0,1452.5 L555.0,1452.2 L556.0,1451.9 L557.0,1451.7 L558.0,1451.4 L559.0,1451.1 L560.0,1450.8 L561.0,1450.5 L562.0,1450.2 L563.0,1449.9 L564.0,1449.6 L565.0,1449.3 L566.0,1448.9 L567.0,1448.6 L568.0,1448.3 L569.0,1447.9 L570.0,1447.6 L571.0,1447.2 L572.0,1446.8 L573.0,1446.5 L574.0,1446.1 L575.0,1445.7 L576.0,1445.3 L577.0,1444.9 L578.0,1444.5 L579.0,1444.1 L580.0,1443.7 L581.0,1443.2 L582.0,1442.8 L583.0,1442.3 L584.0,1441.9 L585.0,1441.4 L586.0,1440.9 L587.0,1440.4 L588.0,1439.9 L589.0,1439.4 L590.0,1438.9 L591.0,1438.3 L592.0,1437.8 L593.0,1437.2 L594.0,1436.6 L595.0,1436.0 L596.0,1435.4 L597.0,1434.8 L598.0,1434.2 L599.0,1433.5 L600.0,1432.9 L601.0,1432.2 L602.0,1431.5 L603.0,1430.8 L604.0,1430.1 L605.0,1429.3 L606.0,1428.6 L607.0,1427.8 L608.0,1427.0 L609.0,1426.2 L610.0,1425.4 L611.0,1424.5 L612.0,1423.7 L613.0,1422.8 L614.0,1421.9 L615.0,1420.9 L616.0,1420.0 L617.0,1419.0 L618.0,1418.0 L619.0,1417.0 L620.0,1416.0 L621.0,1414.9 L622.0,1413.8 L623.0,1412.7 L624.0,1411.5 L625.0,1410.4 L626.0,1409.2 L627.0,1408.0 L628.0,1406.7 L629.0,1405.4 L630.0,1404.1 L631.0,1402.8 L632.0,1401.4 L633.0,1400.0 L634.0,1398.6 L635.0,1397.2 L636.0,1395.7 L637.0,1394.2 L638.0,1392.6 L639.0,1391.0 L640.0,1389.4 L641.0,1387.8 L642.0,1386.1 L643.0,1384.4 L644.0,1382.6 L645.0,1380.8 L646.0,1379.0 L647.0,1377.1 L648.0,1375.2 L649.0,1373.3 L650.0,1371.3 L651.0,1369.3 L652.0,1367.3 L653.0,1365.2 L654.0,1363.1 L655.0,1360.9 L656.0,1358.7 L657.0,1356.5 L658.0,1354.2 L659.0,1351.9 L660.0,1349.5 L661.0,1347.1 L662.0,1344.7 L663.0,1342.2 L664.0,1339.7 L665.0,1337.1 L666.0,1334.5 L667.0,1331.9 L668.0,1329.2 L669.0,1326.5 L670.0,1323.7 L671.0,1320.9 L672.0,1318.1 L673.0,1315.2 L674.0,1312.3 L675.0,1309.3 L676.0,1306.3 L677.0,1303.3 L678.0,1300.2 L679.0,1297.1 L680.0,1293.9 L681.0,1290.7 L682.0,1287.5 L683.0,1284.3 L684.0,1281.0 L685.0,1277.6 L686.0,1274.3 L687.0,1270.9 L688.0,1267.4 L689.0,1264.0 L690.0,1260.5 L691.0,1256.9 L692.0,1253.4 L693.0,1249.8 L694.0,1246.2 L695.0,1242.6 L696.0,1238.9 L697.0,1235.2 L698.0,1231.5 L699.0,1227.8 L700.0,1224.1 L701.0,1220.3 L702.0,1216.5 L703.0,1212.8 L704.0,1209.0 L705.0,1205.2 L706.0,1201.4 L707.0,1197.6 L708.0,1193.7 L709.0,1189.9 L710.0,1186.1 L711.0,1182.3 L712.0,1178.5 L713.0,1174.7 L714.0,1171.0 L715.0,1167.2 L716.0,1163.5 L717.0,1159.8 L718.0,1156.1 L719.0,1152.4 L720.0,1148.8 L721.0,1145.2 L722.0,1141.6 L723.0,1138.1 L724.0,1134.6 L725.0,1131.2 L726.0,1127.8 L727.0,1124.4 L728.0,1121.2 L729.0,1117.9 L730.0,1114.7 L731.0,1111.6 L732.0,1108.6 L733.0,1105.6 L734.0,1102.7 L735.0,1099.8 L736.0,1097.0 L737.0,1094.3 L738.0,1091.7 L739.0,1089.1 L740.0,1086.6 L741.0,1084.2 L742.0,1081.8 L743.0,1079.5 L744.0,1077.3 L745.0,1075.2 L746.0,1073.1 L747.0,1071.1 L748.0,1069.2 L749.0,1067.3 L750.0,1065.5 L751.0,1063.7 L752.0,1062.0 L753.0,1060.4 L754.0,1058.8 L755.0,1057.3 L756.0,1055.8 L757.0,1054.3 L758.0,1052.9 L759.0,1051.5 L760.0,1050.1 L761.0,1048.8 L762.0,1047.5 L763.0,1046.2 L764.0,1044.9 L765.0,1043.7 L766.0,1042.4 L767.0,1041.1 L768.0,1039.9 L769.0,1038.6 L770.0,1037.3 L771.0,1036.0 L772.0,1034.7 L773.0,1033.4 L774.0,1032.0 L775.0,1030.6 L776.0,1029.2 L777.0,1027.8 L778.0,1026.3 L779.0,1024.8 L780.0,1023.3 L781.0,1021.7 L782.0,1020.1 L783.0,1018.4 L784.0,1016.8 L785.0,1015.0 L786.0,1013.3 L787.0,1011.5 L788.0,1009.6 L789.0,1007.8 L790.0,1005.9 L791.0,1004.0 L792.0,1002.0 L793.0,1000.0 L794.0,998.0 L795.0,996.0 L796.0,994.0 L797.0,992.0 L798.0,990.0 L799.0,988.0 L800.0,985.9 L801.0,984.0 L802.0,982.0 L803.0,980.1 L804.0,978.2 L805.0,976.3 L806.0,974.6 L807.0,972.8 L808.0,971.2 L809.0,969.7 L810.0,968.2 L811.0,966.8 L812.0,965.6 L813.0,964.5 L814.0,963.5 L815.0,962.7 L816.0,962.0 L817.0,961.5 L818.0,961.2 L819.0,961.0 L820.0,961.1 L821.0,961.3 L822.0,961.8 L823.0,962.4 L824.0,963.3 L825.0,964.4 L826.0,965.8 L827.0,967.4 L828.0,969.2 L829.0,971.2 L830.0,973.5 L831.0,976.1 L832.0,978.8 L833.0,981.8 L834.0,985.0 L835.0,988.5 L836.0,992.2 L837.0,996.1 L838.0,1000.2 L839.0,1004.5 L840.0,1009.0 L841.0,1013.6 L842.0,1018.5 L843.0,1023.5 L844.0,1028.7 L845.0,1034.0 L846.0,1039.4 L847.0,1045.0 L848.0,1050.7 L849.0,1056.5 L850.0,1062.4 L851.0,1068.4 L852.0,1074.4 L853.0,1080.5 L854.0,1086.7 L855.0,1092.9 L856.0,1099.1 L857.0,1105.4 L858.0,1111.7 L859.0,1118.0 L860.0,1124.3 L861.0,1130.6 L862.0,1136.9 L863.0,1143.2 L864.0,1149.4 L865.0,1155.7 L866.0,1161.8 L867.0,1168.0 L868.0,1174.1 L869.0,1180.1 L870.0,1186.1 L871.0,1192.0 L872.0,1197.9 L873.0,1203.7 L874.0,1209.5 L875.0,1215.1 L876.0,1220.7 L877.0,1226.2 L878.0,1231.7 L879.0,1237.0 L880.0,1242.3 L881.0,1247.5 L882.0,1252.6 L883.0,1257.6 L884.0,1262.5 L885.0,1267.4 L886.0,1272.1 L887.0,1276.8 L888.0,1281.3 L889.0,1285.8 L890.0,1290.2 L891.0,1294.5 L892.0,1298.7 L893.0,1302.8 L894.0,1306.8 L895.0,1310.7 L896.0,1314.5 L897.0,1318.3 L898.0,1321.9 L899.0,1325.5 L900.0,1329.0 L901.0,1332.4 L902.0,1335.7 L903.0,1338.9 L904.0,1342.0 L905.0,1345.1 L906.0,1348.0 L907.0,1350.9 L908.0,1353.7 L909.0,1356.4 L910.0,1359.1 L911.0,1361.7 L912.0,1364.2 L913.0,1366.6 L914.0,1368.9 L915.0,1371.2 L916.0,1373.4 L917.0,1375.6 L918.0,1377.7 L919.0,1379.7 L920.0,1381.6 L921.0,1383.5 L922.0,1385.4 L923.0,1387.1 L924.0,1388.8 L925.0,1390.5 L926.0,1392.1 L927.0,1393.7 L928.0,1395.2 L929.0,1396.6 L930.0,1398.0 L931.0,1399.4 L932.0,1400.7 L933.0,1402.0 L934.0,1403.2 L935.0,1404.4 L936.0,1405.5 L937.0,1406.6 L938.0,1407.7 L939.0,1408.7 L940.0,1409.7 L941.0,1410.6 L942.0,1411.6 L943.0,1412.5 L944.0,1413.3 L945.0,1414.1 L946.0,1414.9 L947.0,1415.7 L948.0,1416.4 L949.0,1417.2 L950.0,1417.8 L951.0,1418.5 L952.0,1419.1 L953.0,1419.8 L954.0,1420.3 L955.0,1420.9 L956.0,1421.5 L957.0,1422.0 L958.0,1422.5 L959.0,1423.0 L960.0,1423.4 L961.0,1423.9 L962.0,1424.3 L963.0,1424.7 L964.0,1425.1 L965.0,1425.4 L966.0,1425.8 L967.0,1426.1 L968.0,1426.5 L969.0,1426.8 L970.0,1427.1 L971.0,1427.3 L972.0,1427.6 L973.0,1427.8 L974.0,1428.1 L975.0,1428.3 L976.0,1428.5 L977.0,1428.7 L978.0,1428.8 L979.0,1429.0 L980.0,1429.2 L981.0,1429.3 L982.0,1429.4 L983.0,1429.5 L984.0,1429.6 L985.0,1429.7 L986.0,1429.8 L987.0,1429.8 L988.0,1429.9 L989.0,1429.9 L990.0,1429.9 L991.0,1430.0 L992.0,1430.0 L993.0,1429.9 L994.0,1429.9 L995.0,1429.9 L996.0,1429.8 L997.0,1429.8 L998.0,1429.7 L999.0,1429.6 L1000.0,1429.5 L1001.0,1429.4 L1002.0,1429.3 L1003.0,1429.2 L1004.0,1429.0 L1005.0,1428.9 L1006.0,1428.7 L1007.0,1428.5 L1008.0,1428.3 L1009.0,1428.1 L1010.0,1427.9 L1011.0,1427.7 L1012.0,1427.5 L1013.0,1427.2 L1014.0,1426.9 L1015.0,1426.7 L1016.0,1426.4 L1017.0,1426.1 L1018.0,1425.8 L1019.0,1425.5 L1020.0,1425.1 L1021.0,1424.8 L1022.0,1424.4 L1023.0,1424.1 L1024.0,1423.7 L1025.0,1423.3 L1026.0,1422.9 L1027.0,1422.5 L1028.0,1422.0 L1029.0,1421.6 L1030.0,1421.2 L1031.0,1420.7 L1032.0,1420.2 L1033.0,1419.7 L1034.0,1419.2 L1035.0,1418.7 L1036.0,1418.2 L1037.0,1417.7 L1038.0,1417.2 L1039.0,1416.6 L1040.0,1416.0 L1041.0,1415.5 L1042.0,1414.9 L1043.0,1414.3 L1044.0,1413.7 L1045.0,1413.1 L1046.0,1412.5 L1047.0,1411.8 L1048.0,1411.2 L1049.0,1410.5 L1050.0,1409.9 L1051.0,1409.2 L1052.0,1408.5 L1053.0,1407.8 L1054.0,1407.1 L1055.0,1406.4 L1056.0,1405.7 L1057.0,1405.0 L1058.0,1404.3 L1059.0,1403.5 L1060.0,1402.8 L1061.0,1402.0 L1062.0,1401.3 L1063.0,1400.5 L1064.0,1399.8 L1065.0,1399.0 L1066.0,1398.2 L1067.0,1397.4 L1068.0,1396.6 L1069.0,1395.8 L1070.0,1395.0 L1071.0,1394.2 L1072.0,1393.4 L1073.0,1392.6 L1074.0,1391.8 L1075.0,1391.0 L1076.0,1390.2 L1077.0,1389.4 L1078.0,1388.5 L1079.0,1387.7 L1080.0,1386.9 L1081.0,1386.1 L1082.0,1385.3 L1083.0,1384.4 L1084.0,1383.6 L1085.0,1382.8 L1086.0,1382.0 L1087.0,1381.2 L1088.0,1380.4 L1089.0,1379.6 L1090.0,1378.8 L1091.0,1378.0 L1092.0,1377.2 L1093.0,1376.4 L1094.0,1375.7 L1095.0,1374.9 L1096.0,1374.1 L1097.0,1373.4 L1098.0,1372.6 L1099.0,1371.9 L1100.0,1371.2 L1101.0,1370.5 L1102.0,1369.8 L1103.0,1369.1 L1104.0,1368.4 L1105.0,1367.7 L1106.0,1367.1 L1107.0,1366.4 L1108.0,1365.8 L1109.0,1365.2 L1110.0,1364.6 L1111.0,1364.0 L1112.0,1363.4 L1113.0,1362.9 L1114.0,1362.3 L1115.0,1361.8 L1116.0,1361.3 L1117.0,1360.9 L1118.0,1360.4 L1119.0,1359.9 L1120.0,1359.5 L1121.0,1359.1 L1122.0,1358.7 L1123.0,1358.4 L1124.0,1358.0 L1125.0,1357.7 L1126.0,1357.4 L1127.0,1357.1 L1128.0,1356.9 L1129.0,1356.6 L1130.0,1356.4 L1131.0,1356.2 L1132.0,1356.1 L1133.0,1355.9 L1134.0,1355.8 L1135.0,1355.7 L1136.0,1355.6 L1137.0,1355.6 L1138.0,1355.6 L1139.0,1355.6 L1140.0,1355.6 L1141.0,1355.7 L1142.0,1355.8 L1143.0,1355.9 L1144.0,1356.0 L1145.0,1356.2 L1146.0,1356.3 L1147.0,1356.6 L1148.0,1356.8 L1149.0,1357.0 L1150.0,1357.3 L1151.0,1357.6 L1152.0,1357.9 L1153.0,1358.2 L1154.0,1358.6 L1155.0,1358.9 L1156.0,1359.3 L1157.0,1359.7 L1158.0,1360.1 L1159.0,1360.5 L1160.0,1360.9 L1161.0,1361.4 L1162.0,1361.8 L1163.0,1362.3 L1164.0,1362.7 L1165.0,1363.2 L1166.0,1363.7 L1167.0,1364.2 L1168.0,1364.6 L1169.0,1365.1 L1170.0,1365.6 L1171.0,1366.1 L1172.0,1366.6 L1173.0,1367.1 L1174.0,1367.7 L1175.0,1368.2 L1176.0,1368.7 L1177.0,1369.2 L1178.0,1369.7 L1179.0,1370.1 L1180.0,1370.6 L1181.0,1371.1 L1182.0,1371.6 L1183.0,1372.1 L1184.0,1372.5 L1185.0,1373.0 L1186.0,1373.4 L1187.0,1373.9 L1188.0,1374.3 L1189.0,1374.8 L1190.0,1375.2 L1191.0,1375.6 L1192.0,1376.0 L1193.0,1376.3 L1194.0,1376.7 L1195.0,1377.1 L1196.0,1377.4 L1197.0,1377.7 L1198.0,1378.1 L1199.0,1378.4 L1200.0,1378.7 L1201.0,1378.9 L1202.0,1379.2 L1203.0,1379.4 L1204.0,1379.7 L1205.0,1379.9 L1206.0,1380.1 L1207.0,1380.3 L1208.0,1380.4 L1209.0,1380.6 L1210.0,1380.7 L1211.0,1380.8 L1212.0,1380.9 L1213.0,1381.0 L1214.0,1381.1 L1215.0,1381.1 L1216.0,1381.2 L1217.0,1381.2 L1218.0,1381.2 L1219.0,1381.2 L1220.0,1381.1 L1221.0,1381.1 L1222.0,1381.0 L1223.0,1380.9 L1224.0,1380.8 L1225.0,1380.6 L1226.0,1380.5 L1227.0,1380.3 L1228.0,1380.2 L1229.0,1380.0 L1230.0,1379.7 L1231.0,1379.5 L1232.0,1379.2 L1233.0,1379.0 L1234.0,1378.7 L1235.0,1378.4 L1236.0,1378.1 L1237.0,1377.7 L1238.0,1377.4 L1239.0,1377.0 L1240.0,1376.6 L1241.0,1376.2 L1242.0,1375.8 L1243.0,1375.4 L1244.0,1374.9 L1245.0,1374.5 L1246.0,1374.0 L1247.0,1373.5 L1248.0,1373.0 L1249.0,1372.5 L1250.0,1372.0 L1251.0,1371.4 L1252.0,1370.8 L1253.0,1370.3 L1254.0,1369.7 L1255.0,1369.1 L1256.0,1368.5 L1257.0,1367.9 L1258.0,1367.3 L1259.0,1366.6 L1260.0,1366.0 L1261.0,1365.3 L1262.0,1364.7 L1263.0,1364.0 L1264.0,1363.3 L1265.0,1362.6 L1266.0,1361.9 L1267.0,1361.2 L1268.0,1360.5 L1269.0,1359.8 L1270.0,1359.1 L1271.0,1358.4 L1272.0,1357.7 L1273.0,1356.9 L1274.0,1356.2 L1275.0,1355.5 L1276.0,1354.7 L1277.0,1354.0 L1278.0,1353.3 L1279.0,1352.5 L1280.0,1351.8 L1281.0,1351.0 L1282.0,1350.3 L1283.0,1349.6 L1284.0,1348.8 L1285.0,1348.1 L1286.0,1347.4 L1287.0,1346.7 L1288.0,1346.0 L1289.0,1345.3 L1290.0,1344.6 L1291.0,1343.9 L1292.0,1343.2 L1293.0,1342.5 L1294.0,1341.8 L1295.0,1341.2 L1296.0,1340.5 L1297.0,1339.9 L1298.0,1339.3 L1299.0,1338.7 L1300.0,1338.1 L1301.0,1337.5 L1302.0,1336.9 L1303.0,1336.3 L1304.0,1335.8 L1305.0,1335.3 L1306.0,1334.7 L1307.0,1334.3 L1308.0,1333.8 L1309.0,1333.3 L1310.0,1332.9 L1311.0,1332.4 L1312.0,1332.0 L1313.0,1331.6 L1314.0,1331.3 L1315.0,1330.9 L1316.0,1330.6 L1317.0,1330.3 L1318.0,1330.0 L1319.0,1329.7 L1320.0,1329.5 L1321.0,1329.3 L1322.0,1329.1 L1323.0,1328.9 L1324.0,1328.7 L1325.0,1328.6 L1326.0,1328.5 L1327.0,1328.4 L1328.0,1328.3 L1329.0,1328.3 L1330.0,1328.2 L1331.0,1328.2 L1332.0,1328.3 L1333.0,1328.3 L1334.0,1328.4 L1335.0,1328.5 L1336.0,1328.6 L1337.0,1328.7 L1338.0,1328.8 L1339.0,1329.0 L1340.0,1329.2 L1341.0,1329.4 L1342.0,1329.6 L1343.0,1329.9 L1344.0,1330.1 L1345.0,1330.4 L1346.0,1330.7 L1347.0,1331.0 L1348.0,1331.4 L1349.0,1331.7 L1350.0,1332.1 L1351.0,1332.5 L1352.0,1332.9 L1353.0,1333.3 L1354.0,1333.7 L1355.0,1334.2 L1356.0,1334.6 L1357.0,1335.1 L1358.0,1335.6 L1359.0,1336.1 L1360.0,1336.6 L1361.0,1337.1 L1362.0,1337.6 L1363.0,1338.1 L1364.0,1338.7 L1365.0,1339.2 L1366.0,1339.8 L1367.0,1340.3 L1368.0,1340.9 L1369.0,1341.4 L1370.0,1342.0 L1371.0,1342.6 L1372.0,1343.2 L1373.0,1343.8 L1374.0,1344.4 L1375.0,1345.0 L1376.0,1345.6 L1377.0,1346.2 L1378.0,1346.8 L1379.0,1347.4 L1380.0,1348.0 L1381.0,1348.6 L1382.0,1349.2 L1383.0,1349.8 L1384.0,1350.4 L1385.0,1350.9 L1386.0,1351.5 L1387.0,1352.1 L1388.0,1352.7 L1389.0,1353.3 L1390.0,1353.9 L1391.0,1354.4 L1392.0,1355.0 L1393.0,1355.6 L1394.0,1356.1 L1395.0,1356.7 L1396.0,1357.2 L1397.0,1357.7 L1398.0,1358.3 L1399.0,1358.8 L1400.0,1359.3 L1401.0,1359.8 L1402.0,1360.3 L1403.0,1360.8 L1404.0,1361.2 L1405.0,1361.7 L1406.0,1362.1 L1407.0,1362.6 L1408.0,1363.0 L1409.0,1363.4 L1410.0,1363.8 L1411.0,1364.2 L1412.0,1364.6 L1413.0,1365.0 L1414.0,1365.3 L1415.0,1365.6 L1416.0,1366.0 L1417.0,1366.3 L1418.0,1366.6 L1419.0,1366.8 L1420.0,1367.1 L1421.0,1367.3 L1422.0,1367.6 L1423.0,1367.8 L1424.0,1368.0 L1425.0,1368.2 L1426.0,1368.3 L1427.0,1368.5 L1428.0,1368.6 L1429.0,1368.7 L1430.0,1368.8 L1431.0,1368.8 L1432.0,1368.9 L1433.0,1368.9 L1434.0,1368.9 L1435.0,1368.9 L1436.0,1368.8 L1437.0,1368.7 L1438.0,1368.6 L1439.0,1368.5 L1440.0,1368.4 L1441.0,1368.2 L1442.0,1368.0 L1443.0,1367.8 L1444.0,1367.5 L1445.0,1367.3 L1446.0,1367.0 L1447.0,1366.6 L1448.0,1366.3 L1449.0,1365.9 L1450.0,1365.4 L1451.0,1365.0 L1452.0,1364.5 L1453.0,1364.0 L1454.0,1363.4 L1455.0,1362.8 L1456.0,1362.2 L1457.0,1361.6 L1458.0,1360.9 L1459.0,1360.1 L1460.0,1359.4 L1461.0,1358.6 L1462.0,1357.7 L1463.0,1356.8 L1464.0,1355.9 L1465.0,1354.9 L1466.0,1353.9 L1467.0,1352.8 L1468.0,1351.7 L1469.0,1350.6 L1470.0,1349.4 L1471.0,1348.1 L1472.0,1346.8 L1473.0,1345.5 L1474.0,1344.1 L1475.0,1342.6 L1476.0,1341.1 L1477.0,1339.6 L1478.0,1338.0 L1479.0,1336.3 L1480.0,1334.6 L1481.0,1332.8 L1482.0,1330.9 L1483.0,1329.0 L1484.0,1327.1 L1485.0,1325.0 L1486.0,1322.9 L1487.0,1320.8 L1488.0,1318.5 L1489.0,1316.2 L1490.0,1313.9 L1491.0,1311.4 L1492.0,1308.9 L1493.0,1306.3 L1494.0,1303.7 L1495.0,1300.9 L1496.0,1298.1 L1497.0,1295.2 L1498.0,1292.3 L1499.0,1289.2 L1500.0,1286.1 L1501.0,1282.9 L1502.0,1279.6 L1503.0,1276.2 L1504.0,1272.8 L1505.0,1269.2 L1506.0,1265.6 L1507.0,1261.9 L1508.0,1258.1 L1509.0,1254.2 L1510.0,1250.2 L1511.0,1246.1 L1512.0,1241.9 L1513.0,1237.6 L1514.0,1233.3 L1515.0,1228.8 L1516.0,1224.2 L1517.0,1219.6 L1518.0,1214.8 L1519.0,1210.0 L1520.0,1205.0 L1521.0,1200.0 L1522.0,1194.8 L1523.0,1189.6 L1524.0,1184.2 L1525.0,1178.8 L1526.0,1173.2 L1527.0,1167.5 L1528.0,1161.8 L1529.0,1155.9 L1530.0,1150.0 L1531.0,1143.9 L1532.0,1137.7 L1533.0,1131.5 L1534.0,1125.1 L1535.0,1118.6 L1536.0,1112.1 L1537.0,1105.4 L1538.0,1098.6 L1539.0,1091.8 L1540.0,1084.8 L1541.0,1077.7 L1542.0,1070.6 L1543.0,1063.3 L1544.0,1056.0 L1545.0,1048.5 L1546.0,1041.0 L1547.0,1033.4 L1548.0,1025.7 L1549.0,1017.9 L1550.0,1010.0 L1551.0,1002.0 L1552.0,994.0 L1553.0,985.9 L1554.0,977.7 L1555.0,969.4 L1556.0,961.0 L1557.0,952.6 L1558.0,944.1 L1559.0,935.5 L1560.0,926.9 L1561.0,918.2 L1562.0,909.5 L1563.0,900.7 L1564.0,891.9 L1565.0,883.0 L1566.0,874.1 L1567.0,865.1 L1568.0,856.1 L1569.0,847.1 L1570.0,838.0 L1571.0,828.9 L1572.0,819.8 L1573.0,810.7 L1574.0,801.6 L1575.0,792.5 L1576.0,783.4 L1577.0,774.2 L1578.0,765.1 L1579.0,756.0 L1580.0,747.0 L1581.0,738.0 L1582.0,729.0 L1583.0,720.0 L1584.0,711.1 L1585.0,702.2 L1586.0,693.4 L1587.0,684.7 L1588.0,676.0 L1589.0,667.4 L1590.0,658.9 L1591.0,650.5 L1592.0,642.2 L1593.0,634.0 L1594.0,625.9 L1595.0,617.9 L1596.0,610.0 L1597.0,602.2 L1598.0,594.6 L1599.0,587.1 L1600.0,579.7 L1601.0,572.5 L1602.0,565.4 L1603.0,558.5 L1604.0,551.7 L1605.0,545.1 L1606.0,538.6 L1607.0,532.3 L1608.0,526.2 L1609.0,520.2 L1610.0,514.3 L1611.0,508.6 L1612.0,503.1 L1613.0,497.7 L1614.0,492.5 L1615.0,487.4 L1616.0,482.5 L1617.0,477.7 L1618.0,473.1 L1619.0,468.6 L1620.0,464.3 L1621.0,460.1 L1622.0,456.0 L1623.0,452.0 L1624.0,448.1 L1625.0,444.3 L1626.0,440.6 L1627.0,437.0 L1628.0,433.5 L1629.0,430.0 L1630.0,426.6 L1631.0,423.2 L1632.0,419.8 L1633.0,416.5 L1634.0,413.2 L1635.0,409.8 L1636.0,406.5 L1637.0,403.2 L1638.0,399.8 L1639.0,396.4 L1640.0,393.0 L1641.0,389.5 L1642.0,385.9 L1643.0,382.3 L1644.0,378.6 L1645.0,374.9 L1646.0,371.0 L1647.0,367.1 L1648.0,363.1 L1649.0,359.0 L1650.0,354.8 L1651.0,350.5 L1652.0,346.1 L1653.0,341.6 L1654.0,337.0 L1655.0,332.3 L1656.0,327.6 L1657.0,322.7 L1658.0,317.8 L1659.0,312.7 L1660.0,307.6 L1661.0,302.5 L1662.0,297.3 L1663.0,292.0 L1664.0,286.7 L1665.0,281.4 L1666.0,276.0 L1667.0,270.7 L1668.0,265.4 L1669.0,260.1 L1670.0,254.8 L1671.0,249.7 L1672.0,244.6 L1673.0,239.6 L1674.0,234.7 L1675.0,230.0 L1676.0,225.5 L1677.0,221.1 L1678.0,217.0 L1679.0,213.1 L1680.0,209.5 L1681.0,206.1 L1682.0,203.1 L1683.0,200.5 L1684.0,198.2 L1685.0,196.2 L1686.0,194.8 L1687.0,193.7 L1688.0,193.1 L1689.0,193.0 L1690.0,193.5 L1691.0,194.4 L1692.0,195.9 L1693.0,197.9 L1694.0,200.6 L1695.0,203.8 L1696.0,207.6 L1697.0,212.0 L1698.0,217.0 L1699.0,222.7 L1700.0,228.9 L1701.0,235.8 L1702.0,243.2 L1703.0,251.3 L1704.0,259.9 L1705.0,269.1 L1706.0,278.8 L1707.0,289.1 L1708.0,299.9 L1709.0,311.3 L1710.0,323.1 L1711.0,335.3 L1712.0,348.0 L1713.0,361.1 L1714.0,374.5 L1715.0,388.4 L1716.0,402.5 L1717.0,417.0 L1718.0,431.7 L1719.0,446.7 L1720.0,461.9 L1721.0,477.3 L1722.0,492.9 L1723.0,508.6 L1724.0,524.5 L1725.0,540.4 L1726.0,556.4 L1727.0,572.5 L1728.0,588.7 L1729.0,604.8 L1730.0,621.0 L1731.0,637.1 L1732.0,653.2 L1733.0,669.2 L1734.0,685.2 L1735.0,701.1 L1736.0,716.9 L1737.0,732.5 L1738.0,748.1 L1739.0,763.5 L1740.0,778.8 L1741.0,793.9 L1742.0,808.9 L1743.0,823.7 L1744.0,838.3 L1745.0,852.7 L1746.0,866.9 L1747.0,880.9 L1748.0,894.7 L1749.0,908.3 L1750.0,921.7 L1751.0,934.8 L1752.0,947.8 L1753.0,960.5 L1754.0,972.9 L1755.0,985.2 L1756.0,997.2 L1757.0,1008.9 L1758.0,1020.5 L1759.0,1031.7 L1760.0,1042.8 L1761.0,1053.6 L1762.0,1064.2 L1763.0,1074.5 L1764.0,1084.6 L1765.0,1094.4 L1766.0,1104.1 L1767.0,1113.4 L1768.0,1122.6 L1769.0,1131.5 L1770.0,1140.2 L1771.0,1148.7 L1772.0,1156.9 L1773.0,1164.9 L1774.0,1172.8 L1775.0,1180.3 L1776.0,1187.7 L1777.0,1194.9 L1778.0,1201.9 L1779.0,1208.6 L1780.0,1215.2 L1781.0,1221.6 L1782.0,1227.8 L1783.0,1233.8 L1784.0,1239.6 L1785.0,1245.3 L1786.0,1250.8 L1787.0,1256.1 L1788.0,1261.2 L1789.0,1266.2 L1790.0,1271.0 L1791.0,1275.7 L1792.0,1280.2 L1793.0,1284.6 L1794.0,1288.9 L1795.0,1293.0 L1796.0,1296.9 L1797.0,1300.8 L1798.0,1304.5 L1799.0,1308.1 L1800.0,1311.6 L1801.0,1315.0 L1802.0,1318.2 L1803.0,1321.4 L1804.0,1324.5 L1805.0,1327.4 L1806.0,1330.3 L1807.0,1333.1 L1808.0,1335.7 L1809.0,1338.3 L1810.0,1340.9 L1811.0,1343.3 L1812.0,1345.7 L1813.0,1348.0 L1814.0,1350.2 L1815.0,1352.3 L1816.0,1354.4 L1817.0,1356.4 L1818.0,1358.4 L1819.0,1360.3 L1820.0,1362.1 L1821.0,1363.9 L1822.0,1365.7 L1823.0,1367.4 L1824.0,1369.0 L1825.0,1370.6 L1826.0,1372.2 L1827.0,1373.7 L1828.0,1375.1 L1829.0,1376.6 L1830.0,1378.0 L1831.0,1379.3 L1832.0,1380.6 L1833.0,1381.9 L1834.0,1383.2 L1835.0,1384.4 L1836.0,1385.6 L1837.0,1386.8 L1838.0,1387.9 L1839.0,1389.0 L1840.0,1390.1 L1841.0,1391.2 L1842.0,1392.2 L1843.0,1393.3 L1844.0,1394.3 L1845.0,1395.2 L1846.0,1396.2 L1847.0,1397.1 L1848.0,1398.1 L1849.0,1399.0 L1850.0,1399.8 L1851.0,1400.7 L1852.0,1401.6 L1853.0,1402.4 L1854.0,1403.2 L1855.0,1404.0 L1856.0,1404.8 L1857.0,1405.6 L1858.0,1406.4 L1859.0,1407.1 L1860.0,1407.8 L1861.0,1408.6 L1862.0,1409.3 L1863.0,1410.0 L1864.0,1410.7 L1865.0,1411.4 L1866.0,1412.0 L1867.0,1412.7 L1868.0,1413.3 L1869.0,1414.0 L1870.0,1414.6 L1871.0,1415.2 L1872.0,1415.8 L1873.0,1416.4 L1874.0,1417.0 L1875.0,1417.6 L1876.0,1418.2 L1877.0,1418.8 L1878.0,1419.3 L1879.0,1419.9 L1880.0,1420.4 L1881.0,1421.0 L1882.0,1421.5 L1883.0,1422.0 L1884.0,1422.5 L1885.0,1423.0 L1886.0,1423.5 L1887.0,1424.0 L1888.0,1424.5 L1889.0,1425.0 L1890.0,1425.5 L1891.0,1426.0 L1892.0,1426.4 L1893.0,1426.9 L1894.0,1427.3 L1895.0,1427.8 L1896.0,1428.2 L1897.0,1428.7 L1898.0,1429.1 L1899.0,1429.5 L1900.0,1429.9 L1901.0,1430.4 L1902.0,1430.8 L1903.0,1431.2 L1904.0,1431.6 L1905.0,1432.0 L1906.0,1432.4 L1907.0,1432.7 L1908.0,1433.1 L1909.0,1433.5 L1910.0,1433.9 L1911.0,1434.2 L1912.0,1434.6 L1913.0,1435.0 L1914.0,1435.3 L1915.0,1435.7 L1916.0,1436.0 L1917.0,1436.4 L1918.0,1436.7 L1919.0,1437.1 L1920.0,1437.4 L1921.0,1437.7 L1922.0,1438.0 L1923.0,1438.4 L1924.0,1438.7 L1925.0,1439.0 L1926.0,1439.3 L1927.0,1439.6 L1928.0,1439.9 L1929.0,1440.2 L1930.0,1440.5 L1931.0,1440.8 L1932.0,1441.1 L1933.0,1441.4 L1934.0,1441.7 L1935.0,1442.0 L1936.0,1442.3 L1937.0,1442.5 L1938.0,1442.8 L1939.0,1443.1 L1940.0,1443.3 L1941.0,1443.6 L1942.0,1443.9 L1943.0,1444.1 L1944.0,1444.4 L1945.0,1444.6 L1946.0,1444.9 L1947.0,1445.2 L1948.0,1445.4 L1949.0,1445.6 L1950.0,1445.9 L1951.0,1446.1 L1952.0,1446.4 L1953.0,1446.6 L1954.0,1446.8 L1955.0,1447.1 L1956.0,1447.3 L1957.0,1447.5 L1958.0,1447.7 L1959.0,1448.0 L1960.0,1448.2 L1961.0,1448.4 L1962.0,1448.6 L1963.0,1448.8 L1964.0,1449.0 L1965.0,1449.3 L1966.0,1449.5 L1967.0,1449.7 L1968.0,1449.9 L1969.0,1450.1 L1970.0,1450.3 L1971.0,1450.5 L1972.0,1450.7 L1973.0,1450.9 L1974.0,1451.1 L1975.0,1451.3 L1976.0,1451.4 L1977.0,1451.6 L1978.0,1451.8 L1979.0,1452.0 L1980.0,1452.2 L1981.0,1452.4 L1982.0,1452.5 L1983.0,1452.7 L1984.0,1452.9 L1985.0,1453.1 L1986.0,1453.2 L1987.0,1453.4 L1988.0,1453.6 L1989.0,1453.8 L1990.0,1453.9 L1991.0,1454.1 L1992.0,1454.3 L1993.0,1454.4 L1994.0,1454.6 L1995.0,1454.7 L1996.0,1454.9 L1997.0,1455.1 L1998.0,1455.2 L1999.0,1455.4 L2000.0,1455.5 L2001.0,1455.7 L2002.0,1455.8 L2003.0,1456.0 L2004.0,1456.1 L2005.0,1456.3 L2006.0,1456.4 L2007.0,1456.6 L2008.0,1456.7 L2009.0,1456.8 L2010.0,1457.0 L2011.0,1457.1 L2012.0,1457.3 L2013.0,1457.4 L2014.0,1457.5 L2015.0,1457.7 L2016.0,1457.8 L2017.0,1457.9 L2018.0,1458.1 L2019.0,1458.2 L2020.0,1458.3 L2021.0,1458.5 L2022.0,1458.6 L2023.0,1458.7 L2024.0,1458.8 L2025.0,1459.0 L2026.0,1459.1 L2027.0,1459.2 L2028.0,1459.3 L2029.0,1459.5 L2030.0,1459.6 L2031.0,1459.7 L2032.0,1459.8 L2033.0,1459.9 L2034.0,1460.1 L2035.0,1460.2 L2036.0,1460.3 L2037.0,1460.4 L2038.0,1460.5 L2039.0,1460.6 L2040.0,1460.7 L2041.0,1460.8 L2042.0,1461.0 L2043.0,1461.1 L2044.0,1461.2 L2045.0,1461.3 L2046.0,1461.4 L2047.0,1461.5 L2048.0,1461.6 L2049.0,1461.7 L2050.0,1461.8 L2051.0,1461.9 L2052.0,1462.0 L2053.0,1462.1 L2054.0,1462.2 L2055.0,1462.3 L2056.0,1462.4 L2057.0,1462.5 L2058.0,1462.6 L2059.0,1462.7 L2060.0,1462.8 L2061.0,1462.9 L2062.0,1463.0 L2063.0,1463.1 L2064.0,1463.2 L2065.0,1463.3 L2066.0,1463.4 L2067.0,1463.4 L2068.0,1463.5 L2069.0,1463.6 L2070.0,1463.7 L2071.0,1463.8 L2072.0,1463.9 L2073.0,1464.0 L2074.0,1464.1 L2075.0,1464.2 L2076.0,1464.2 L2077.0,1464.3 L2078.0,1464.4 L2079.0,1464.5 L2080.0,1464.6 L2081.0,1464.7 L2082.0,1464.7 L2083.0,1464.8 L2084.0,1464.9 L2085.0,1465.0 L2086.0,1465.1 L2087.0,1465.1 L2088.0,1465.2 L2089.0,1465.3 L2090.0,1465.4 L2091.0,1465.5 L2092.0,1465.5 L2093.0,1465.6 L2094.0,1465.7 L2095.0,1465.8 L2096.0,1465.8 L2097.0,1465.9 L2098.0,1466.0 L2099.0,1466.1 L2100.0,1466.1 L2101.0,1466.2 L2102.0,1466.3 L2103.0,1466.4 L2104.0,1466.4 L2105.0,1466.5 L2106.0,1466.6 L2107.0,1466.6 L2108.0,1466.7" fill="none" stroke="#f14040" stroke-width="9" stroke-linejoin="round" />
<path d="M236.0,1481.5 L237.0,1481.5 L238.0,1481.5 L239.0,1481.5 L240.0,1481.5 L241.0,1481.4 L242.0,1481.4 L243.0,1481.4 L244.0,1481.4 L245.0,1481.4 L246.0,1481.4 L247.0,1481.4 L248.0,1481.4 L249.0,1481.4 L250.0,1481.4 L251.0,1481.4 L252.0,1481.4 L253.0,1481.4 L254.0,1481.4 L255.0,1481.4 L256.0,1481.4 L257.0,1481.4 L258.0,1481.3 L259.0,1481.3 L260.0,1481.3 L261.0,1481.3 L262.0,1481.3 L263.0,1481.3 L264.0,1481.3 L265.0,1481.3 L266.0,1481.3 L267.0,1481.3 L268.0,1481.3 L269.0,1481.3 L270.0,1481.3 L271.0,1481.3 L272.0,1481.3 L273.0,1481.2 L274.0,1481.2 L275.0,1481.2 L276.0,1481.2 L277.0,1481.2 L278.0,1481.2 L279.0,1481.2 L280.0,1481.2 L281.0,1481.2 L282.0,1481.2 L283.0,1481.2 L284.0,1481.2 L285.0,1481.2 L286.0,1481.2 L287.0,1481.1 L288.0,1481.1 L289.0,1481.1 L290.0,1481.1 L291.0,1481.1 L292.0,1481.1 L293.0,1481.1 L294.0,1481.1 L295.0,1481.1 L296.0,1481.1 L297.0,1481.1 L298.0,1481.1 L299.0,1481.1 L300.0,1481.0 L301.0,1481.0 L302.0,1481.0 L303.0,1481.0 L304.0,1481.0 L305.0,1481.0 L306.0,1481.0 L307.0,1481.0 L308.0,1481.0 L309.0,1481.0 L310.0,1481.0 L311.0,1481.0 L312.0,1481.0 L313.0,1480.9 L314.0,1480.9 L315.0,1480.9 L316.0,1480.9 L317.0,1480.9 L318.0,1480.9 L319.0,1480.9 L320.0,1480.9 L321.0,1480.9 L322.0,1480.9 L323.0,1480.9 L324.0,1480.8 L325.0,1480.8 L326.0,1480.8 L327.0,1480.8 L328.0,1480.8 L329.0,1480.8 L330.0,1480.8 L331.0,1480.8 L332.0,1480.8 L333.0,1480.8 L334.0,1480.8 L335.0,1480.7 L336.0,1480.7 L337.0,1480.7 L338.0,1480.7 L339.0,1480.7 L340.0,1480.7 L341.0,1480.7 L342.0,1480.7 L343.0,1480.7 L344.0,1480.7 L345.0,1480.7 L346.0,1480.6 L347.0,1480.6 L348.0,1480.6 L349.0,1480.6 L350.0,1480.6 L351.0,1480.6 L352.0,1480.6 L353.0,1480.6 L354.0,1480.6 L355.0,1480.5 L356.0,1480.5 L357.0,1480.5 L358.0,1480.5 L359.0,1480.5 L360.0,1480.5 L361.0,1480.5 L362.0,1480.5 L363.0,1480.5 L364.0,1480.4 L365.0,1480.4 L366.0,1480.4 L367.0,1480.4 L368.0,1480.4 L369.0,1480.4 L370.0,1480.4 L371.0,1480.4 L372.0,1480.4 L373.0,1480.3 L374.0,1480.3 L375.0,1480.3 L376.0,1480.3 L377.0,1480.3 L378.0,1480.3 L379.0,1480.3 L380.0,1480.3 L381.0,1480.2 L382.0,1480.2 L383.0,1480.2 L384.0,1480.2 L385.0,1480.2 L386.0,1480.2 L387.0,1480.2 L388.0,1480.2 L389.0,1480.1 L390.0,1480.1 L391.0,1480.1 L392.0,1480.1 L393.0,1480.1 L394.0,1480.1 L395.0,1480.1 L396.0,1480.1 L397.0,1480.0 L398.0,1480.0 L399.0,1480.0 L400.0,1480.0 L401.0,1480.0 L402.0,1480.0 L403.0,1480.0 L404.0,1479.9 L405.0,1479.9 L406.0,1479.9 L407.0,1479.9 L408.0,1479.9 L409.0,1479.9 L410.0,1479.9 L411.0,1479.8 L412.0,1479.8 L413.0,1479.8 L414.0,1479.8 L415.0,1479.8 L416.0,1479.8 L417.0,1479.7 L418.0,1479.7 L419.0,1479.7 L420.0,1479.7 L421.0,1479.7 L422.0,1479.7 L423.0,1479.6 L424.0,1479.6 L425.0,1479.6 L426.0,1479.6 L427.0,1479.6 L428.0,1479.6 L429.0,1479.5 L430.0,1479.5 L431.0,1479.5 L432.0,1479.5 L433.0,1479.5 L434.0,1479.5 L435.0,1479.4 L436.0,1479.4 L437.0,1479.4 L438.0,1479.4 L439.0,1479.4 L440.0,1479.4 L441.0,1479.3 L442.0,1479.3 L443.0,1479.3 L444.0,1479.3 L445.0,1479.3 L446.0,1479.2 L447.0,1479.2 L448.0,1479.2 L449.0,1479.2 L450.0,1479.2 L451.0,1479.1 L452.0,1479.1 L453.0,1479.1 L454.0,1479.1 L455.0,1479.1 L456.0,1479.0 L457.0,1479.0 L458.0,1479.0 L459.0,1479.0 L460.0,1479.0 L461.0,1478.9 L462.0,1478.9 L463.0,1478.9 L464.0,1478.9 L465.0,1478.8 L466.0,1478.8 L467.0,1478.8 L468.0,1478.8 L469.0,1478.8 L470.0,1478.7 L471.0,1478.7 L472.0,1478.7 L473.0,1478.7 L474.0,1478.6 L475.0,1478.6 L476.0,1478.6 L477.0,1478.6 L478.0,1478.5 L479.0,1478.5 L480.0,1478.5 L481.0,1478.5 L482.0,1478.4 L483.0,1478.4 L484.0,1478.4 L485.0,1478.4 L486.0,1478.3 L487.0,1478.3 L488.0,1478.3 L489.0,1478.3 L490.0,1478.2 L491.0,1478.2 L492.0,1478.2 L493.0,1478.1 L494.0,1478.1 L495.0,1478.1 L496.0,1478.1 L497.0,1478.0 L498.0,1478.0 L499.0,1478.0 L500.0,1477.9 L501.0,1477.9 L502.0,1477.9 L503.0,1477.9 L504.0,1477.8 L505.0,1477.8 L506.0,1477.8 L507.0,1477.7 L508.0,1477.7 L509.0,1477.7 L510.0,1477.6 L511.0,1477.6 L512.0,1477.6 L513.0,1477.5 L514.0,1477.5 L515.0,1477.5 L516.0,1477.4 L517.0,1477.4 L518.0,1477.4 L519.0,1477.3 L520.0,1477.3 L521.0,1477.3 L522.0,1477.2 L523.0,1477.2 L524.0,1477.2 L525.0,1477.1 L526.0,1477.1 L527.0,1477.0 L528.0,1477.0 L529.0,1477.0 L530.0,1476.9 L531.0,1476.9 L532.0,1476.8 L533.0,1476.8 L534.0,1476.8 L535.0,1476.7 L536.0,1476.7 L537.0,1476.6 L538.0,1476.6 L539.0,1476.6 L540.0,1476.5 L541.0,1476.5 L542.0,1476.4 L543.0,1476.4 L544.0,1476.3 L545.0,1476.3 L546.0,1476.3 L547.0,1476.2 L548.0,1476.2 L549.0,1476.1 L550.0,1476.1 L551.0,1476.0 L552.0,1476.0 L553.0,1475.9 L554.0,1475.9 L555.0,1475.8 L556.0,1475.8 L557.0,1475.7 L558.0,1475.7 L559.0,1475.6 L560.0,1475.6 L561.0,1475.5 L562.0,1475.5 L563.0,1475.4 L564.0,1475.4 L565.0,1475.3 L566.0,1475.3 L567.0,1475.2 L568.0,1475.1 L569.0,1475.1 L570.0,1475.0 L571.0,1475.0 L572.0,1474.9 L573.0,1474.8 L574.0,1474.8 L575.0,1474.7 L576.0,1474.7 L577.0,1474.6 L578.0,1474.5 L579.0,1474.5 L580.0,1474.4 L581.0,1474.3 L582.0,1474.3 L583.0,1474.2 L584.0,1474.1 L585.0,1474.1 L586.0,1474.0 L587.0,1473.9 L588.0,1473.9 L589.0,1473.8 L590.0,1473.7 L591.0,1473.7 L592.0,1473.6 L593.0,1473.5 L594.0,1473.4 L595.0,1473.4 L596.0,1473.3 L597.0,1473.2 L598.0,1473.1 L599.0,1473.0 L600.0,1473.0 L601.0,1472.9 L602.0,1472.8 L603.0,1472.7 L604.0,1472.6 L605.0,1472.5 L606.0,1472.4 L607.0,1472.4 L608.0,1472.3 L609.0,1472.2 L610.0,1472.1 L611.0,1472.0 L612.0,1471.9 L613.0,1471.8 L614.0,1471.7 L615.0,1471.6 L616.0,1471.5 L617.0,1471.4 L618.0,1471.3 L619.0,1471.2 L620.0,1471.1 L621.0,1471.0 L622.0,1470.9 L623.0,1470.8 L624.0,1470.7 L625.0,1470.6 L626.0,1470.4 L627.0,1470.3 L628.0,1470.2 L629.0,1470.1 L630.0,1470.0 L631.0,1469.8 L632.0,1469.7 L633.0,1469.6 L634.0,1469.5 L635.0,1469.3 L636.0,1469.2 L637.0,1469.1 L638.0,1468.9 L639.0,1468.8 L640.0,1468.7 L641.0,1468.5 L642.0,1468.4 L643.0,1468.2 L644.0,1468.1 L645.0,1467.9 L646.0,1467.8 L647.0,1467.6 L648.0,1467.5 L649.0,1467.3 L650.0,1467.2 L651.0,1467.0 L652.0,1466.8 L653.0,1466.7 L654.0,1466.5 L655.0,1466.3 L656.0,1466.1 L657.0,1466.0 L658.0,1465.8 L659.0,1465.6 L660.0,1465.4 L661.0,1465.2 L662.0,1465.0 L663.0,1464.8 L664.0,1464.6 L665.0,1464.4 L666.0,1464.2 L667.0,1464.0 L668.0,1463.7 L669.0,1463.5 L670.0,1463.3 L671.0,1463.0 L672.0,1462.8 L673.0,1462.6 L674.0,1462.3 L675.0,1462.1 L676.0,1461.8 L677.0,1461.5 L678.0,1461.3 L679.0,1461.0 L680.0,1460.7 L681.0,1460.4 L682.0,1460.1 L683.0,1459.8 L684.0,1459.5 L685.0,1459.2 L686.0,1458.8 L687.0,1458.5 L688.0,1458.2 L689.0,1457.8 L690.0,1457.4 L691.0,1457.1 L692.0,1456.7 L693.0,1456.3 L694.0,1455.9 L695.0,1455.5 L696.0,1455.0 L697.0,1454.6 L698.0,1454.1 L699.0,1453.7 L700.0,1453.2 L701.0,1452.7 L702.0,1452.2 L703.0,1451.6 L704.0,1451.1 L705.0,1450.5 L706.0,1449.9 L707.0,1449.3 L708.0,1448.7 L709.0,1448.1 L710.0,1447.4 L711.0,1446.7 L712.0,1446.0 L713.0,1445.3 L714.0,1444.5 L715.0,1443.8 L716.0,1442.9 L717.0,1442.1 L718.0,1441.2 L719.0,1440.4 L720.0,1439.4 L721.0,1438.5 L722.0,1437.5 L723.0,1436.5 L724.0,1435.4 L725.0,1434.3 L726.0,1433.2 L727.0,1432.0 L728.0,1430.8 L729.0,1429.6 L730.0,1428.3 L731.0,1426.9 L732.0,1425.6 L733.0,1424.1 L734.0,1422.7 L735.0,1421.1 L736.0,1419.6 L737.0,1417.9 L738.0,1416.3 L739.0,1414.5 L740.0,1412.7 L741.0,1410.9 L742.0,1409.0 L743.0,1407.0 L744.0,1405.0 L745.0,1402.9 L746.0,1400.8 L747.0,1398.5 L748.0,1396.3 L749.0,1393.9 L750.0,1391.5 L751.0,1389.0 L752.0,1386.5 L753.0,1383.8 L754.0,1381.1 L755.0,1378.4 L756.0,1375.5 L757.0,1372.6 L758.0,1369.6 L759.0,1366.5 L760.0,1363.4 L761.0,1360.2 L762.0,1356.8 L763.0,1353.5 L764.0,1350.0 L765.0,1346.5 L766.0,1342.9 L767.0,1339.2 L768.0,1335.4 L769.0,1331.5 L770.0,1327.6 L771.0,1323.6 L772.0,1319.5 L773.0,1315.4 L774.0,1311.2 L775.0,1306.9 L776.0,1302.5 L777.0,1298.0 L778.0,1293.5 L779.0,1289.0 L780.0,1284.3 L781.0,1279.6 L782.0,1274.9 L783.0,1270.0 L784.0,1265.2 L785.0,1260.3 L786.0,1255.3 L787.0,1250.3 L788.0,1245.2 L789.0,1240.1 L790.0,1235.0 L791.0,1229.9 L792.0,1224.7 L793.0,1219.5 L794.0,1214.3 L795.0,1209.1 L796.0,1203.9 L797.0,1198.7 L798.0,1193.6 L799.0,1188.4 L800.0,1183.3 L801.0,1178.2 L802.0,1173.2 L803.0,1168.2 L804.0,1163.3 L805.0,1158.5 L806.0,1153.7 L807.0,1149.1 L808.0,1144.5 L809.0,1140.1 L810.0,1135.8 L811.0,1131.6 L812.0,1127.5 L813.0,1123.7 L814.0,1120.0 L815.0,1116.5 L816.0,1113.1 L817.0,1110.0 L818.0,1107.1 L819.0,1104.4 L820.0,1101.9 L821.0,1099.7 L822.0,1097.7 L823.0,1095.9 L824.0,1094.4 L825.0,1093.2 L826.0,1092.2 L827.0,1091.5 L828.0,1091.1 L829.0,1091.0 L830.0,1091.1 L831.0,1091.5 L832.0,1092.2 L833.0,1093.2 L834.0,1094.4 L835.0,1095.9 L836.0,1097.6 L837.0,1099.6 L838.0,1101.8 L839.0,1104.3 L840.0,1107.0 L841.0,1109.9 L842.0,1113.0 L843.0,1116.4 L844.0,1119.9 L845.0,1123.6 L846.0,1127.4 L847.0,1131.5 L848.0,1135.6 L849.0,1139.9 L850.0,1144.4 L851.0,1148.9 L852.0,1153.5 L853.0,1158.3 L854.0,1163.1 L855.0,1168.0 L856.0,1173.0 L857.0,1178.0 L858.0,1183.1 L859.0,1188.2 L860.0,1193.3 L861.0,1198.5 L862.0,1203.7 L863.0,1208.9 L864.0,1214.1 L865.0,1219.3 L866.0,1224.4 L867.0,1229.6 L868.0,1234.7 L869.0,1239.8 L870.0,1244.9 L871.0,1250.0 L872.0,1255.0 L873.0,1259.9 L874.0,1264.9 L875.0,1269.7 L876.0,1274.5 L877.0,1279.3 L878.0,1284.0 L879.0,1288.6 L880.0,1293.2 L881.0,1297.7 L882.0,1302.1 L883.0,1306.5 L884.0,1310.8 L885.0,1315.0 L886.0,1319.1 L887.0,1323.2 L888.0,1327.2 L889.0,1331.1 L890.0,1335.0 L891.0,1338.7 L892.0,1342.4 L893.0,1346.0 L894.0,1349.6 L895.0,1353.0 L896.0,1356.4 L897.0,1359.7 L898.0,1362.9 L899.0,1366.0 L900.0,1369.1 L901.0,1372.1 L902.0,1375.0 L903.0,1377.8 L904.0,1380.6 L905.0,1383.3 L906.0,1385.9 L907.0,1388.5 L908.0,1390.9 L909.0,1393.4 L910.0,1395.7 L911.0,1398.0 L912.0,1400.2 L913.0,1402.3 L914.0,1404.4 L915.0,1406.4 L916.0,1408.4 L917.0,1410.3 L918.0,1412.1 L919.0,1413.9 L920.0,1415.6 L921.0,1417.3 L922.0,1418.9 L923.0,1420.5 L924.0,1422.0 L925.0,1423.5 L926.0,1424.9 L927.0,1426.2 L928.0,1427.6 L929.0,1428.9 L930.0,1430.1 L931.0,1431.3 L932.0,1432.5 L933.0,1433.6 L934.0,1434.7 L935.0,1435.7 L936.0,1436.7 L937.0,1437.7 L938.0,1438.7 L939.0,1439.6 L940.0,1440.5 L941.0,1441.3 L942.0,1442.1 L943.0,1442.9 L944.0,1443.7 L945.0,1444.5 L946.0,1445.2 L947.0,1445.9 L948.0,1446.6 L949.0,1447.2 L950.0,1447.8 L951.0,1448.5 L952.0,1449.0 L953.0,1449.6 L954.0,1450.2 L955.0,1450.7 L956.0,1451.2 L957.0,1451.7 L958.0,1452.2 L959.0,1452.7 L960.0,1453.2 L961.0,1453.6 L962.0,1454.1 L963.0,1454.5 L964.0,1454.9 L965.0,1455.3 L966.0,1455.7 L967.0,1456.1 L968.0,1456.4 L969.0,1456.8 L970.0,1457.1 L971.0,1457.5 L972.0,1457.8 L973.0,1458.1 L974.0,1458.4 L975.0,1458.7 L976.0,1459.0 L977.0,1459.3 L978.0,1459.6 L979.0,1459.9 L980.0,1460.1 L981.0,1460.4 L982.0,1460.7 L983.0,1460.9 L984.0,1461.2 L985.0,1461.4 L986.0,1461.6 L987.0,1461.9 L988.0,1462.1 L989.0,1462.3 L990.0,1462.5 L991.0,1462.8 L992.0,1463.0 L993.0,1463.2 L994.0,1463.4 L995.0,1463.6 L996.0,1463.8 L997.0,1463.9 L998.0,1464.1 L999.0,1464.3 L1000.0,1464.5 L1001.0,1464.7 L1002.0,1464.8 L1003.0,1465.0 L1004.0,1465.2 L1005.0,1465.3 L1006.0,1465.5 L1007.0,1465.7 L1008.0,1465.8 L1009.0,1466.0 L1010.0,1466.1 L1011.0,1466.3 L1012.0,1466.4 L1013.0,1466.6 L1014.0,1466.7 L1015.0,1466.8 L1016.0,1467.0 L1017.0,1467.1 L1018.0,1467.2 L1019.0,1467.4 L1020.0,1467.5 L1021.0,1467.6 L1022.0,1467.7 L1023.0,1467.9 L1024.0,1468.0 L1025.0,1468.1 L1026.0,1468.2 L1027.0,1468.3 L1028.0,1468.4 L1029.0,1468.5 L1030.0,1468.7 L1031.0,1468.8 L1032.0,1468.9 L1033.0,1469.0 L1034.0,1469.1 L1035.0,1469.2 L1036.0,1469.3 L1037.0,1469.4 L1038.0,1469.5 L1039.0,1469.6 L1040.0,1469.7 L1041.0,1469.7 L1042.0,1469.8 L1043.0,1469.9 L1044.0,1470.0 L1045.0,1470.1 L1046.0,1470.2 L1047.0,1470.3 L1048.0,1470.4 L1049.0,1470.4 L1050.0,1470.5 L1051.0,1470.6 L1052.0,1470.7 L1053.0,1470.8 L1054.0,1470.8 L1055.0,1470.9 L1056.0,1471.0 L1057.0,1471.1 L1058.0,1471.1 L1059.0,1471.2 L1060.0,1471.3 L1061.0,1471.3 L1062.0,1471.4 L1063.0,1471.5 L1064.0,1471.5 L1065.0,1471.6 L1066.0,1471.7 L1067.0,1471.7 L1068.0,1471.8 L1069.0,1471.9 L1070.0,1471.9 L1071.0,1472.0 L1072.0,1472.0 L1073.0,1472.1 L1074.0,1472.2 L1075.0,1472.2 L1076.0,1472.3 L1077.0,1472.3 L1078.0,1472.4 L1079.0,1472.4 L1080.0,1472.5 L1081.0,1472.5 L1082.0,1472.6 L1083.0,1472.6 L1084.0,1472.7 L1085.0,1472.7 L1086.0,1472.8 L1087.0,1472.8 L1088.0,1472.9 L1089.0,1472.9 L1090.0,1473.0 L1091.0,1473.0 L1092.0,1473.1 L1093.0,1473.1 L1094.0,1473.1 L1095.0,1473.2 L1096.0,1473.2 L1097.0,1473.3 L1098.0,1473.3 L1099.0,1473.3 L1100.0,1473.4 L1101.0,1473.4 L1102.0,1473.5 L1103.0,1473.5 L1104.0,1473.5 L1105.0,1473.6 L1106.0,1473.6 L1107.0,1473.6 L1108.0,1473.7 L1109.0,1473.7 L1110.0,1473.7 L1111.0,1473.8 L1112.0,1473.8 L1113.0,1473.8 L1114.0,1473.9 L1115.0,1473.9 L1116.0,1473.9 L1117.0,1474.0 L1118.0,1474.0 L1119.0,1474.0 L1120.0,1474.1 L1121.0,1474.1 L1122.0,1474.1 L1123.0,1474.1 L1124.0,1474.2 L1125.0,1474.2 L1126.0,1474.2 L1127.0,1474.2 L1128.0,1474.3 L1129.0,1474.3 L1130.0,1474.3 L1131.0,1474.3 L1132.0,1474.4 L1133.0,1474.4 L1134.0,1474.4 L1135.0,1474.4 L1136.0,1474.5 L1137.0,1474.5 L1138.0,1474.5 L1139.0,1474.5 L1140.0,1474.5 L1141.0,1474.6 L1142.0,1474.6 L1143.0,1474.6 L1144.0,1474.6 L1145.0,1474.6 L1146.0,1474.7 L1147.0,1474.7 L1148.0,1474.7 L1149.0,1474.7 L1150.0,1474.7 L1151.0,1474.7 L1152.0,1474.8 L1153.0,1474.8 L1154.0,1474.8 L1155.0,1474.8 L1156.0,1474.8 L1157.0,1474.8 L1158.0,1474.9 L1159.0,1474.9 L1160.0,1474.9 L1161.0,1474.9 L1162.0,1474.9 L1163.0,1474.9 L1164.0,1474.9 L1165.0,1474.9 L1166.0,1475.0 L1167.0,1475.0 L1168.0,1475.0 L1169.0,1475.0 L1170.0,1475.0 L1171.0,1475.0 L1172.0,1475.0 L1173.0,1475.0 L1174.0,1475.0 L1175.0,1475.0 L1176.0,1475.1 L1177.0,1475.1 L1178.0,1475.1 L1179.0,1475.1 L1180.0,1475.1 L1181.0,1475.1 L1182.0,1475.1 L1183.0,1475.1 L1184.0,1475.1 L1185.0,1475.1 L1186.0,1475.1 L1187.0,1475.1 L1188.0,1475.1 L1189.0,1475.1 L1190.0,1475.1 L1191.0,1475.2 L1192.0,1475.2 L1193.0,1475.2 L1194.0,1475.2 L1195.0,1475.2 L1196.0,1475.2 L1197.0,1475.2 L1198.0,1475.2 L1199.0,1475.2 L1200.0,1475.2 L1201.0,1475.2 L1202.0,1475.2 L1203.0,1475.2 L1204.0,1475.2 L1205.0,1475.2 L1206.0,1475.2 L1207.0,1475.2 L1208.0,1475.2 L1209.0,1475.2 L1210.0,1475.2 L1211.0,1475.2 L1212.0,1475.2 L1213.0,1475.2 L1214.0,1475.2 L1215.0,1475.2 L1216.0,1475.2 L1217.0,1475.2 L1218.0,1475.2 L1219.0,1475.2 L1220.0,1475.2 L1221.0,1475.2 L1222.0,1475.2 L1223.0,1475.2 L1224.0,1475.1 L1225.0,1475.1 L1226.0,1475.1 L1227.0,1475.1 L1228.0,1475.1 L1229.0,1475.1 L1230.0,1475.1 L1231.0,1475.1 L1232.0,1475.1 L1233.0,1475.1 L1234.0,1475.1 L1235.0,1475.1 L1236.0,1475.1 L1237.0,1475.1 L1238.0,1475.1 L1239.0,1475.1 L1240.0,1475.0 L1241.0,1475.0 L1242.0,1475.0 L1243.0,1475.0 L1244.0,1475.0 L1245.0,1475.0 L1246.0,1475.0 L1247.0,1475.0 L1248.0,1475.0 L1249.0,1475.0 L1250.0,1474.9 L1251.0,1474.9 L1252.0,1474.9 L1253.0,1474.9 L1254.0,1474.9 L1255.0,1474.9 L1256.0,1474.9 L1257.0,1474.9 L1258.0,1474.8 L1259.0,1474.8 L1260.0,1474.8 L1261.0,1474.8 L1262.0,1474.8 L1263.0,1474.8 L1264.0,1474.8 L1265.0,1474.7 L1266.0,1474.7 L1267.0,1474.7 L1268.0,1474.7 L1269.0,1474.7 L1270.0,1474.7 L1271.0,1474.7 L1272.0,1474.6 L1273.0,1474.6 L1274.0,1474.6 L1275.0,1474.6 L1276.0,1474.6 L1277.0,1474.5 L1278.0,1474.5 L1279.0,1474.5 L1280.0,1474.5 L1281.0,1474.5 L1282.0,1474.5 L1283.0,1474.4 L1284.0,1474.4 L1285.0,1474.4 L1286.0,1474.4 L1287.0,1474.4 L1288.0,1474.3 L1289.0,1474.3 L1290.0,1474.3 L1291.0,1474.3 L1292.0,1474.2 L1293.0,1474.2 L1294.0,1474.2 L1295.0,1474.2 L1296.0,1474.1 L1297.0,1474.1 L1298.0,1474.1 L1299.0,1474.1 L1300.0,1474.0 L1301.0,1474.0 L1302.0,1474.0 L1303.0,1474.0 L1304.0,1473.9 L1305.0,1473.9 L1306.0,1473.9 L1307.0,1473.9 L1308.0,1473.8 L1309.0,1473.8 L1310.0,1473.8 L1311.0,1473.8 L1312.0,1473.7 L1313.0,1473.7 L1314.0,1473.7 L1315.0,1473.6 L1316.0,1473.6 L1317.0,1473.6 L1318.0,1473.5 L1319.0,1473.5 L1320.0,1473.5 L1321.0,1473.4 L1322.0,1473.4 L1323.0,1473.4 L1324.0,1473.3 L1325.0,1473.3 L1326.0,1473.3 L1327.0,1473.2 L1328.0,1473.2 L1329.0,1473.2 L1330.0,1473.1 L1331.0,1473.1 L1332.0,1473.1 L1333.0,1473.0 L1334.0,1473.0 L1335.0,1473.0 L1336.0,1472.9 L1337.0,1472.9 L1338.0,1472.8 L1339.0,1472.8 L1340.0,1472.8 L1341.0,1472.7 L1342.0,1472.7 L1343.0,1472.6 L1344.0,1472.6 L1345.0,1472.5 L1346.0,1472.5 L1347.0,1472.5 L1348.0,1472.4 L1349.0,1472.4 L1350.0,1472.3 L1351.0,1472.3 L1352.0,1472.2 L1353.0,1472.2 L1354.0,1472.1 L1355.0,1472.1 L1356.0,1472.1 L1357.0,1472.0 L1358.0,1472.0 L1359.0,1471.9 L1360.0,1471.9 L1361.0,1471.8 L1362.0,1471.8 L1363.0,1471.7 L1364.0,1471.7 L1365.0,1471.6 L1366.0,1471.6 L1367.0,1471.5 L1368.0,1471.4 L1369.0,1471.4 L1370.0,1471.3 L1371.0,1471.3 L1372.0,1471.2 L1373.0,1471.2 L1374.0,1471.1 L1375.0,1471.1 L1376.0,1471.0 L1377.0,1470.9 L1378.0,1470.9 L1379.0,1470.8 L1380.0,1470.8 L1381.0,1470.7 L1382.0,1470.6 L1383.0,1470.6 L1384.0,1470.5 L1385.0,1470.4 L1386.0,1470.4 L1387.0,1470.3 L1388.0,1470.2 L1389.0,1470.2 L1390.0,1470.1 L1391.0,1470.0 L1392.0,1470.0 L1393.0,1469.9 L1394.0,1469.8 L1395.0,1469.8 L1396.0,1469.7 L1397.0,1469.6 L1398.0,1469.5 L1399.0,1469.5 L1400.0,1469.4 L1401.0,1469.3 L1402.0,1469.2 L1403.0,1469.1 L1404.0,1469.1 L1405.0,1469.0 L1406.0,1468.9 L1407.0,1468.8 L1408.0,1468.7 L1409.0,1468.7 L1410.0,1468.6 L1411.0,1468.5 L1412.0,1468.4 L1413.0,1468.3 L1414.0,1468.2 L1415.0,1468.1 L1416.0,1468.0 L1417.0,1468.0 L1418.0,1467.9 L1419.0,1467.8 L1420.0,1467.7 L1421.0,1467.6 L1422.0,1467.5 L1423.0,1467.4 L1424.0,1467.3 L1425.0,1467.2 L1426.0,1467.1 L1427.0,1467.0 L1428.0,1466.9 L1429.0,1466.8 L1430.0,1466.7 L1431.0,1466.6 L1432.0,1466.5 L1433.0,1466.3 L1434.0,1466.2 L1435.0,1466.1 L1436.0,1466.0 L1437.0,1465.9 L1438.0,1465.8 L1439.0,1465.7 L1440.0,1465.5 L1441.0,1465.4 L1442.0,1465.3 L1443.0,1465.2 L1444.0,1465.1 L1445.0,1464.9 L1446.0,1464.8 L1447.0,1464.7 L1448.0,1464.5 L1449.0,1464.4 L1450.0,1464.3 L1451.0,1464.1 L1452.0,1464.0 L1453.0,1463.9 L1454.0,1463.7 L1455.0,1463.6 L1456.0,1463.4 L1457.0,1463.3 L1458.0,1463.2 L1459.0,1463.0 L1460.0,1462.9 L1461.0,1462.7 L1462.0,1462.5 L1463.0,1462.4 L1464.0,1462.2 L1465.0,1462.1 L1466.0,1461.9 L1467.0,1461.7 L1468.0,1461.6 L1469.0,1461.4 L1470.0,1461.2 L1471.0,1461.1 L1472.0,1460.9 L1473.0,1460.7 L1474.0,1460.5 L1475.0,1460.4 L1476.0,1460.2 L1477.0,1460.0 L1478.0,1459.8 L1479.0,1459.6 L1480.0,1459.4 L1481.0,1459.2 L1482.0,1459.0 L1483.0,1458.8 L1484.0,1458.6 L1485.0,1458.4 L1486.0,1458.2 L1487.0,1458.0 L1488.0,1457.7 L1489.0,1457.5 L1490.0,1457.3 L1491.0,1457.1 L1492.0,1456.9 L1493.0,1456.6 L1494.0,1456.4 L1495.0,1456.1 L1496.0,1455.9 L1497.0,1455.7 L1498.0,1455.4 L1499.0,1455.2 L1500.0,1454.9 L1501.0,1454.6 L1502.0,1454.4 L1503.0,1454.1 L1504.0,1453.8 L1505.0,1453.6 L1506.0,1453.3 L1507.0,1453.0 L1508.0,1452.7 L1509.0,1452.4 L1510.0,1452.1 L1511.0,1451.8 L1512.0,1451.5 L1513.0,1451.2 L1514.0,1450.9 L1515.0,1450.6 L1516.0,1450.2 L1517.0,1449.9 L1518.0,1449.6 L1519.0,1449.2 L1520.0,1448.9 L1521.0,1448.5 L1522.0,1448.2 L1523.0,1447.8 L1524.0,1447.4 L1525.0,1447.0 L1526.0,1446.7 L1527.0,1446.3 L1528.0,1445.9 L1529.0,1445.5 L1530.0,1445.1 L1531.0,1444.6 L1532.0,1444.2 L1533.0,1443.8 L1534.0,1443.3 L1535.0,1442.9 L1536.0,1442.4 L1537.0,1441.9 L1538.0,1441.4 L1539.0,1441.0 L1540.0,1440.5 L1541.0,1439.9 L1542.0,1439.4 L1543.0,1438.9 L1544.0,1438.3 L1545.0,1437.8 L1546.0,1437.2 L1547.0,1436.6 L1548.0,1436.0 L1549.0,1435.4 L1550.0,1434.8 L1551.0,1434.1 L1552.0,1433.5 L1553.0,1432.8 L1554.0,1432.1 L1555.0,1431.4 L1556.0,1430.7 L1557.0,1429.9 L1558.0,1429.2 L1559.0,1428.4 L1560.0,1427.6 L1561.0,1426.7 L1562.0,1425.9 L1563.0,1425.0 L1564.0,1424.1 L1565.0,1423.1 L1566.0,1422.2 L1567.0,1421.2 L1568.0,1420.1 L1569.0,1419.1 L1570.0,1418.0 L1571.0,1416.8 L1572.0,1415.7 L1573.0,1414.5 L1574.0,1413.2 L1575.0,1411.9 L1576.0,1410.6 L1577.0,1409.2 L1578.0,1407.8 L1579.0,1406.3 L1580.0,1404.8 L1581.0,1403.2 L1582.0,1401.5 L1583.0,1399.8 L1584.0,1398.1 L1585.0,1396.3 L1586.0,1394.4 L1587.0,1392.4 L1588.0,1390.4 L1589.0,1388.3 L1590.0,1386.1 L1591.0,1383.8 L1592.0,1381.5 L1593.0,1379.0 L1594.0,1376.5 L1595.0,1373.9 L1596.0,1371.2 L1597.0,1368.4 L1598.0,1365.4 L1599.0,1362.4 L1600.0,1359.3 L1601.0,1356.0 L1602.0,1352.7 L1603.0,1349.2 L1604.0,1345.6 L1605.0,1341.9 L1606.0,1338.0 L1607.0,1334.0 L1608.0,1329.9 L1609.0,1325.6 L1610.0,1321.2 L1611.0,1316.6 L1612.0,1311.9 L1613.0,1307.0 L1614.0,1301.9 L1615.0,1296.7 L1616.0,1291.3 L1617.0,1285.8 L1618.0,1280.1 L1619.0,1274.2 L1620.0,1268.1 L1621.0,1261.8 L1622.0,1255.4 L1623.0,1248.8 L1624.0,1241.9 L1625.0,1234.9 L1626.0,1227.7 L1627.0,1220.3 L1628.0,1212.7 L1629.0,1204.9 L1630.0,1196.8 L1631.0,1188.6 L1632.0,1180.2 L1633.0,1171.6 L1634.0,1162.7 L1635.0,1153.7 L1636.0,1144.4 L1637.0,1135.0 L1638.0,1125.3 L1639.0,1115.5 L1640.0,1105.4 L1641.0,1095.2 L1642.0,1084.7 L1643.0,1074.0 L1644.0,1063.2 L1645.0,1052.2 L1646.0,1040.9 L1647.0,1029.5 L1648.0,1018.0 L1649.0,1006.2 L1650.0,994.3 L1651.0,982.3 L1652.0,970.0 L1653.0,957.7 L1654.0,945.2 L1655.0,932.6 L1656.0,919.9 L1657.0,907.0 L1658.0,894.1 L1659.0,881.1 L1660.0,868.0 L1661.0,854.8 L1662.0,841.6 L1663.0,828.4 L1664.0,815.2 L1665.0,801.9 L1666.0,788.7 L1667.0,775.5 L1668.0,762.4 L1669.0,749.3 L1670.0,736.4 L1671.0,723.5 L1672.0,710.8 L1673.0,698.3 L1674.0,685.9 L1675.0,673.7 L1676.0,661.8 L1677.0,650.2 L1678.0,638.8 L1679.0,627.7 L1680.0,617.0 L1681.0,606.7 L1682.0,596.7 L1683.0,587.2 L1684.0,578.1 L1685.0,569.5 L1686.0,561.3 L1687.0,553.8 L1688.0,546.7 L1689.0,540.3 L1690.0,534.4 L1691.0,529.1 L1692.0,524.5 L1693.0,520.5 L1694.0,517.2 L1695.0,514.6 L1696.0,512.6 L1697.0,511.4 L1698.0,510.8 L1699.0,511.0 L1700.0,511.8 L1701.0,513.4 L1702.0,515.6 L1703.0,518.5 L1704.0,522.1 L1705.0,526.3 L1706.0,531.2 L1707.0,536.7 L1708.0,542.8 L1709.0,549.5 L1710.0,556.8 L1711.0,564.6 L1712.0,572.9 L1713.0,581.7 L1714.0,591.0 L1715.0,600.7 L1716.0,610.8 L1717.0,621.3 L1718.0,632.2 L1719.0,643.4 L1720.0,654.9 L1721.0,666.6 L1722.0,678.7 L1723.0,690.9 L1724.0,703.3 L1725.0,716.0 L1726.0,728.7 L1727.0,741.6 L1728.0,754.6 L1729.0,767.7 L1730.0,780.9 L1731.0,794.1 L1732.0,807.3 L1733.0,820.6 L1734.0,833.8 L1735.0,847.0 L1736.0,860.2 L1737.0,873.3 L1738.0,886.4 L1739.0,899.4 L1740.0,912.3 L1741.0,925.1 L1742.0,937.8 L1743.0,950.4 L1744.0,962.8 L1745.0,975.1 L1746.0,987.3 L1747.0,999.3 L1748.0,1011.1 L1749.0,1022.8 L1750.0,1034.3 L1751.0,1045.6 L1752.0,1056.8 L1753.0,1067.7 L1754.0,1078.5 L1755.0,1089.1 L1756.0,1099.5 L1757.0,1109.7 L1758.0,1119.6 L1759.0,1129.4 L1760.0,1139.0 L1761.0,1148.4 L1762.0,1157.5 L1763.0,1166.5 L1764.0,1175.3 L1765.0,1183.8 L1766.0,1192.2 L1767.0,1200.3 L1768.0,1208.2 L1769.0,1216.0 L1770.0,1223.5 L1771.0,1230.8 L1772.0,1238.0 L1773.0,1244.9 L1774.0,1251.7 L1775.0,1258.2 L1776.0,1264.6 L1777.0,1270.8 L1778.0,1276.8 L1779.0,1282.6 L1780.0,1288.3 L1781.0,1293.8 L1782.0,1299.1 L1783.0,1304.2 L1784.0,1309.2 L1785.0,1314.0 L1786.0,1318.7 L1787.0,1323.2 L1788.0,1327.6 L1789.0,1331.8 L1790.0,1335.9 L1791.0,1339.9 L1792.0,1343.7 L1793.0,1347.4 L1794.0,1350.9 L1795.0,1354.4 L1796.0,1357.7 L1797.0,1360.9 L1798.0,1364.0 L1799.0,1366.9 L1800.0,1369.8 L1801.0,1372.6 L1802.0,1375.3 L1803.0,1377.9 L1804.0,1380.4 L1805.0,1382.8 L1806.0,1385.1 L1807.0,1387.3 L1808.0,1389.5 L1809.0,1391.6 L1810.0,1393.6 L1811.0,1395.5 L1812.0,1397.4 L1813.0,1399.2 L1814.0,1400.9 L1815.0,1402.6 L1816.0,1404.2 L1817.0,1405.8 L1818.0,1407.3 L1819.0,1408.8 L1820.0,1410.2 L1821.0,1411.5 L1822.0,1412.9 L1823.0,1414.1 L1824.0,1415.4 L1825.0,1416.6 L1826.0,1417.7 L1827.0,1418.8 L1828.0,1419.9 L1829.0,1421.0 L1830.0,1422.0 L1831.0,1423.0 L1832.0,1424.0 L1833.0,1424.9 L1834.0,1425.8 L1835.0,1426.7 L1836.0,1427.5 L1837.0,1428.4 L1838.0,1429.2 L1839.0,1429.9 L1840.0,1430.7 L1841.0,1431.5 L1842.0,1432.2 L1843.0,1432.9 L1844.0,1433.6 L1845.0,1434.2 L1846.0,1434.9 L1847.0,1435.5 L1848.0,1436.2 L1849.0,1436.8 L1850.0,1437.4 L1851.0,1438.0 L1852.0,1438.5 L1853.0,1439.1 L1854.0,1439.6 L1855.0,1440.2 L1856.0,1440.7 L1857.0,1441.2 L1858.0,1441.7 L1859.0,1442.2 L1860.0,1442.7 L1861.0,1443.1 L1862.0,1443.6 L1863.0,1444.1 L1864.0,1444.5 L1865.0,1444.9 L1866.0,1445.4 L1867.0,1445.8 L1868.0,1446.2 L1869.0,1446.6 L1870.0,1447.0 L1871.0,1447.4 L1872.0,1447.8 L1873.0,1448.2 L1874.0,1448.6 L1875.0,1448.9 L1876.0,1449.3 L1877.0,1449.6 L1878.0,1450.0 L1879.0,1450.3 L1880.0,1450.7 L1881.0,1451.0 L1882.0,1451.3 L1883.0,1451.7 L1884.0,1452.0 L1885.0,1452.3 L1886.0,1452.6 L1887.0,1452.9 L1888.0,1453.2 L1889.0,1453.5 L1890.0,1453.8 L1891.0,1454.1 L1892.0,1454.4 L1893.0,1454.6 L1894.0,1454.9 L1895.0,1455.2 L1896.0,1455.4 L1897.0,1455.7 L1898.0,1456.0 L1899.0,1456.2 L1900.0,1456.5 L1901.0,1456.7 L1902.0,1457.0 L1903.0,1457.2 L1904.0,1457.4 L1905.0,1457.7 L1906.0,1457.9 L1907.0,1458.1 L1908.0,1458.4 L1909.0,1458.6 L1910.0,1458.8 L1911.0,1459.0 L1912.0,1459.2 L1913.0,1459.5 L1914.0,1459.7 L1915.0,1459.9 L1916.0,1460.1 L1917.0,1460.3 L1918.0,1460.5 L1919.0,1460.7 L1920.0,1460.9 L1921.0,1461.1 L1922.0,1461.2 L1923.0,1461.4 L1924.0,1461.6 L1925.0,1461.8 L1926.0,1462.0 L1927.0,1462.1 L1928.0,1462.3 L1929.0,1462.5 L1930.0,1462.7 L1931.0,1462.8 L1932.0,1463.0 L1933.0,1463.2 L1934.0,1463.3 L1935.0,1463.5 L1936.0,1463.6 L1937.0,1463.8 L1938.0,1464.0 L1939.0,1464.1 L1940.0,1464.3 L1941.0,1464.4 L1942.0,1464.6 L1943.0,1464.7 L1944.0,1464.9 L1945.0,1465.0 L1946.0,1465.1 L1947.0,1465.3 L1948.0,1465.4 L1949.0,1465.5 L1950.0,1465.7 L1951.0,1465.8 L1952.0,1465.9 L1953.0,1466.1 L1954.0,1466.2 L1955.0,1466.3 L1956.0,1466.5 L1957.0,1466.6 L1958.0,1466.7 L1959.0,1466.8 L1960.0,1467.0 L1961.0,1467.1 L1962.0,1467.2 L1963.0,1467.3 L1964.0,1467.4 L1965.0,1467.5 L1966.0,1467.6 L1967.0,1467.8 L1968.0,1467.9 L1969.0,1468.0 L1970.0,1468.1 L1971.0,1468.2 L1972.0,1468.3 L1973.0,1468.4 L1974.0,1468.5 L1975.0,1468.6 L1976.0,1468.7 L1977.0,1468.8 L1978.0,1468.9 L1979.0,1469.0 L1980.0,1469.1 L1981.0,1469.2 L1982.0,1469.3 L1983.0,1469.4 L1984.0,1469.5 L1985.0,1469.6 L1986.0,1469.7 L1987.0,1469.8 L1988.0,1469.9 L1989.0,1469.9 L1990.0,1470.0 L1991.0,1470.1 L1992.0,1470.2 L1993.0,1470.3 L1994.0,1470.4 L1995.0,1470.5 L1996.0,1470.5 L1997.0,1470.6 L1998.0,1470.7 L1999.0,1470.8 L2000.0,1470.9 L2001.0,1471.0 L2002.0,1471.0 L2003.0,1471.1 L2004.0,1471.2 L2005.0,1471.3 L2006.0,1471.3 L2007.0,1471.4 L2008.0,1471.5 L2009.0,1471.6 L2010.0,1471.6 L2011.0,1471.7 L2012.0,1471.8 L2013.0,1471.8 L2014.0,1471.9 L2015.0,1472.0 L2016.0,1472.1 L2017.0,1472.1 L2018.0,1472.2 L2019.0,1472.3 L2020.0,1472.3 L2021.0,1472.4 L2022.0,1472.5 L2023.0,1472.5 L2024.0,1472.6 L2025.0,1472.7 L2026.0,1472.7 L2027.0,1472.8 L2028.0,1472.8 L2029.0,1472.9 L2030.0,1473.0 L2031.0,1473.0 L2032.0,1473.1 L2033.0,1473.1 L2034.0,1473.2 L2035.0,1473.3 L2036.0,1473.3 L2037.0,1473.4 L2038.0,1473.4 L2039.0,1473.5 L2040.0,1473.5 L2041.0,1473.6 L2042.0,1473.7 L2043.0,1473.7 L2044.0,1473.8 L2045.0,1473.8 L2046.0,1473.9 L2047.0,1473.9 L2048.0,1474.0 L2049.0,1474.0 L2050.0,1474.1 L2051.0,1474.1 L2052.0,1474.2 L2053.0,1474.2 L2054.0,1474.3 L2055.0,1474.3 L2056.0,1474.4 L2057.0,1474.4 L2058.0,1474.5 L2059.0,1474.5 L2060.0,1474.6 L2061.0,1474.6 L2062.0,1474.7 L2063.0,1474.7 L2064.0,1474.8 L2065.0,1474.8 L2066.0,1474.8 L2067.0,1474.9 L2068.0,1474.9 L2069.0,1475.0 L2070.0,1475.0 L2071.0,1475.1 L2072.0,1475.1 L2073.0,1475.2 L2074.0,1475.2 L2075.0,1475.2 L2076.0,1475.3 L2077.0,1475.3 L2078.0,1475.4 L2079.0,1475.4 L2080.0,1475.4 L2081.0,1475.5 L2082.0,1475.5 L2083.0,1475.6 L2084.0,1475.6 L2085.0,1475.6 L2086.0,1475.7 L2087.0,1475.7 L2088.0,1475.8 L2089.0,1475.8 L2090.0,1475.8 L2091.0,1475.9 L2092.0,1475.9 L2093.0,1475.9 L2094.0,1476.0 L2095.0,1476.0 L2096.0,1476.1 L2097.0,1476.1 L2098.0,1476.1 L2099.0,1476.2 L2100.0,1476.2 L2101.0,1476.2 L2102.0,1476.3 L2103.0,1476.3 L2104.0,1476.3 L2105.0,1476.4 L2106.0,1476.4 L2107.0,1476.4 L2108.0,1476.5" fill="none" stroke="#0000ff" stroke-width="9" stroke-linejoin="round" stroke-opacity="0.75"/>
<path d="M236.0,1479.4 L237.0,1479.4 L238.0,1479.4 L239.0,1479.4 L240.0,1479.4 L241.0,1479.4 L242.0,1479.4 L243.0,1479.3 L244.0,1479.3 L245.0,1479.3 L246.0,1479.3 L247.0,1479.3 L248.0,1479.3 L249.0,1479.3 L250.0,1479.2 L251.0,1479.2 L252.0,1479.2 L253.0,1479.2 L254.0,1479.2 L255.0,1479.2 L256.0,1479.2 L257.0,1479.1 L258.0,1479.1 L259.0,1479.1 L260.0,1479.1 L261.0,1479.1 L262.0,1479.1 L263.0,1479.0 L264.0,1479.0 L265.0,1479.0 L266.0,1479.0 L267.0,1479.0 L268.0,1479.0 L269.0,1479.0 L270.0,1478.9 L271.0,1478.9 L272.0,1478.9 L273.0,1478.9 L274.0,1478.9 L275.0,1478.9 L276.0,1478.8 L277.0,1478.8 L278.0,1478.8 L279.0,1478.8 L280.0,1478.8 L281.0,1478.7 L282.0,1478.7 L283.0,1478.7 L284.0,1478.7 L285.0,1478.7 L286.0,1478.7 L287.0,1478.6 L288.0,1478.6 L289.0,1478.6 L290.0,1478.6 L291.0,1478.6 L292.0,1478.6 L293.0,1478.5 L294.0,1478.5 L295.0,1478.5 L296.0,1478.5 L297.0,1478.5 L298.0,1478.4 L299.0,1478.4 L300.0,1478.4 L301.0,1478.4 L302.0,1478.4 L303.0,1478.3 L304.0,1478.3 L305.0,1478.3 L306.0,1478.3 L307.0,1478.3 L308.0,1478.2 L309.0,1478.2 L310.0,1478.2 L311.0,1478.2 L312.0,1478.2 L313.0,1478.1 L314.0,1478.1 L315.0,1478.1 L316.0,1478.1 L317.0,1478.0 L318.0,1478.0 L319.0,1478.0 L320.0,1478.0 L321.0,1478.0 L322.0,1477.9 L323.0,1477.9 L324.0,1477.9 L325.0,1477.9 L326.0,1477.8 L327.0,1477.8 L328.0,1477.8 L329.0,1477.8 L330.0,1477.8 L331.0,1477.7 L332.0,1477.7 L333.0,1477.7 L334.0,1477.7 L335.0,1477.6 L336.0,1477.6 L337.0,1477.6 L338.0,1477.6 L339.0,1477.5 L340.0,1477.5 L341.0,1477.5 L342.0,1477.5 L343.0,1477.4 L344.0,1477.4 L345.0,1477.4 L346.0,1477.4 L347.0,1477.3 L348.0,1477.3 L349.0,1477.3 L350.0,1477.2 L351.0,1477.2 L352.0,1477.2 L353.0,1477.2 L354.0,1477.1 L355.0,1477.1 L356.0,1477.1 L357.0,1477.0 L358.0,1477.0 L359.0,1477.0 L360.0,1477.0 L361.0,1476.9 L362.0,1476.9 L363.0,1476.9 L364.0,1476.8 L365.0,1476.8 L366.0,1476.8 L367.0,1476.8 L368.0,1476.7 L369.0,1476.7 L370.0,1476.7 L371.0,1476.6 L372.0,1476.6 L373.0,1476.6 L374.0,1476.5 L375.0,1476.5 L376.0,1476.5 L377.0,1476.4 L378.0,1476.4 L379.0,1476.4 L380.0,1476.3 L381.0,1476.3 L382.0,1476.3 L383.0,1476.2 L384.0,1476.2 L385.0,1476.2 L386.0,1476.1 L387.0,1476.1 L388.0,1476.1 L389.0,1476.0 L390.0,1476.0 L391.0,1475.9 L392.0,1475.9 L393.0,1475.9 L394.0,1475.8 L395.0,1475.8 L396.0,1475.8 L397.0,1475.7 L398.0,1475.7 L399.0,1475.6 L400.0,1475.6 L401.0,1475.6 L402.0,1475.5 L403.0,1475.5 L404.0,1475.4 L405.0,1475.4 L406.0,1475.4 L407.0,1475.3 L408.0,1475.3 L409.0,1475.2 L410.0,1475.2 L411.0,1475.1 L412.0,1475.1 L413.0,1475.1 L414.0,1475.0 L415.0,1475.0 L416.0,1474.9 L417.0,1474.9 L418.0,1474.8 L419.0,1474.8 L420.0,1474.7 L421.0,1474.7 L422.0,1474.6 L423.0,1474.6 L424.0,1474.6 L425.0,1474.5 L426.0,1474.5 L427.0,1474.4 L428.0,1474.4 L429.0,1474.3 L430.0,1474.3 L431.0,1474.2 L432.0,1474.2 L433.0,1474.1 L434.0,1474.0 L435.0,1474.0 L436.0,1473.9 L437.0,1473.9 L438.0,1473.8 L439.0,1473.8 L440.0,1473.7 L441.0,1473.7 L442.0,1473.6 L443.0,1473.6 L444.0,1473.5 L445.0,1473.4 L446.0,1473.4 L447.0,1473.3 L448.0,1473.3 L449.0,1473.2 L450.0,1473.1 L451.0,1473.1 L452.0,1473.0 L453.0,1473.0 L454.0,1472.9 L455.0,1472.8 L456.0,1472.8 L457.0,1472.7 L458.0,1472.6 L459.0,1472.6 L460.0,1472.5 L461.0,1472.4 L462.0,1472.4 L463.0,1472.3 L464.0,1472.2 L465.0,1472.2 L466.0,1472.1 L467.0,1472.0 L468.0,1471.9 L469.0,1471.9 L470.0,1471.8 L471.0,1471.7 L472.0,1471.7 L473.0,1471.6 L474.0,1471.5 L475.0,1471.4 L476.0,1471.3 L477.0,1471.3 L478.0,1471.2 L479.0,1471.1 L480.0,1471.0 L481.0,1470.9 L482.0,1470.9 L483.0,1470.8 L484.0,1470.7 L485.0,1470.6 L486.0,1470.5 L487.0,1470.4 L488.0,1470.3 L489.0,1470.3 L490.0,1470.2 L491.0,1470.1 L492.0,1470.0 L493.0,1469.9 L494.0,1469.8 L495.0,1469.7 L496.0,1469.6 L497.0,1469.5 L498.0,1469.4 L499.0,1469.3 L500.0,1469.2 L501.0,1469.1 L502.0,1469.0 L503.0,1468.9 L504.0,1468.8 L505.0,1468.7 L506.0,1468.6 L507.0,1468.5 L508.0,1468.4 L509.0,1468.2 L510.0,1468.1 L511.0,1468.0 L512.0,1467.9 L513.0,1467.8 L514.0,1467.7 L515.0,1467.5 L516.0,1467.4 L517.0,1467.3 L518.0,1467.2 L519.0,1467.0 L520.0,1466.9 L521.0,1466.8 L522.0,1466.7 L523.0,1466.5 L524.0,1466.4 L525.0,1466.3 L526.0,1466.1 L527.0,1466.0 L528.0,1465.8 L529.0,1465.7 L530.0,1465.5 L531.0,1465.4 L532.0,1465.2 L533.0,1465.1 L534.0,1464.9 L535.0,1464.8 L536.0,1464.6 L537.0,1464.5 L538.0,1464.3 L539.0,1464.1 L540.0,1464.0 L541.0,1463.8 L542.0,1463.6 L543.0,1463.4 L544.0,1463.2 L545.0,1463.1 L546.0,1462.9 L547.0,1462.7 L548.0,1462.5 L549.0,1462.3 L550.0,1462.1 L551.0,1461.9 L552.0,1461.7 L553.0,1461.5 L554.0,1461.3 L555.0,1461.1 L556.0,1460.8 L557.0,1460.6 L558.0,1460.4 L559.0,1460.1 L560.0,1459.9 L561.0,1459.7 L562.0,1459.4 L563.0,1459.2 L564.0,1458.9 L565.0,1458.6 L566.0,1458.4 L567.0,1458.1 L568.0,1457.8 L569.0,1457.5 L570.0,1457.3 L571.0,1457.0 L572.0,1456.7 L573.0,1456.3 L574.0,1456.0 L575.0,1455.7 L576.0,1455.4 L577.0,1455.0 L578.0,1454.7 L579.0,1454.4 L580.0,1454.0 L581.0,1453.6 L582.0,1453.3 L583.0,1452.9 L584.0,1452.5 L585.0,1452.1 L586.0,1451.7 L587.0,1451.2 L588.0,1450.8 L589.0,1450.4 L590.0,1449.9 L591.0,1449.5 L592.0,1449.0 L593.0,1448.5 L594.0,1448.0 L595.0,1447.5 L596.0,1447.0 L597.0,1446.4 L598.0,1445.9 L599.0,1445.3 L600.0,1444.8 L601.0,1444.2 L602.0,1443.6 L603.0,1442.9 L604.0,1442.3 L605.0,1441.7 L606.0,1441.0 L607.0,1440.3 L608.0,1439.6 L609.0,1438.9 L610.0,1438.2 L611.0,1437.4 L612.0,1436.7 L613.0,1435.9 L614.0,1435.1 L615.0,1434.2 L616.0,1433.4 L617.0,1432.5 L618.0,1431.6 L619.0,1430.7 L620.0,1429.8 L621.0,1428.8 L622.0,1427.8 L623.0,1426.8 L624.0,1425.8 L625.0,1424.8 L626.0,1423.7 L627.0,1422.6 L628.0,1421.5 L629.0,1420.3 L630.0,1419.1 L631.0,1417.9 L632.0,1416.7 L633.0,1415.4 L634.0,1414.1 L635.0,1412.8 L636.0,1411.5 L637.0,1410.1 L638.0,1408.7 L639.0,1407.2 L640.0,1405.7 L641.0,1404.2 L642.0,1402.7 L643.0,1401.1 L644.0,1399.5 L645.0,1397.9 L646.0,1396.2 L647.0,1394.5 L648.0,1392.8 L649.0,1391.0 L650.0,1389.2 L651.0,1387.4 L652.0,1385.5 L653.0,1383.6 L654.0,1381.7 L655.0,1379.7 L656.0,1377.7 L657.0,1375.6 L658.0,1373.5 L659.0,1371.4 L660.0,1369.2 L661.0,1367.0 L662.0,1364.8 L663.0,1362.5 L664.0,1360.2 L665.0,1357.9 L666.0,1355.5 L667.0,1353.1 L668.0,1350.6 L669.0,1348.1 L670.0,1345.6 L671.0,1343.1 L672.0,1340.5 L673.0,1337.8 L674.0,1335.2 L675.0,1332.5 L676.0,1329.7 L677.0,1327.0 L678.0,1324.2 L679.0,1321.3 L680.0,1318.5 L681.0,1315.6 L682.0,1312.7 L683.0,1309.7 L684.0,1306.7 L685.0,1303.7 L686.0,1300.7 L687.0,1297.6 L688.0,1294.6 L689.0,1291.5 L690.0,1288.3 L691.0,1285.2 L692.0,1282.0 L693.0,1278.8 L694.0,1275.7 L695.0,1272.4 L696.0,1269.2 L697.0,1266.0 L698.0,1262.8 L699.0,1259.5 L700.0,1256.3 L701.0,1253.0 L702.0,1249.8 L703.0,1246.5 L704.0,1243.3 L705.0,1240.1 L706.0,1236.9 L707.0,1233.7 L708.0,1230.5 L709.0,1227.3 L710.0,1224.2 L711.0,1221.1 L712.0,1218.0 L713.0,1214.9 L714.0,1211.9 L715.0,1209.0 L716.0,1206.0 L717.0,1203.2 L718.0,1200.3 L719.0,1197.6 L720.0,1194.9 L721.0,1192.2 L722.0,1189.7 L723.0,1187.2 L724.0,1184.7 L725.0,1182.4 L726.0,1180.2 L727.0,1178.0 L728.0,1175.9 L729.0,1173.9 L730.0,1172.1 L731.0,1170.3 L732.0,1168.6 L733.0,1167.1 L734.0,1165.6 L735.0,1164.3 L736.0,1163.1 L737.0,1162.0 L738.0,1161.1 L739.0,1160.3 L740.0,1159.5 L741.0,1159.0 L742.0,1158.5 L743.0,1158.2 L744.0,1158.0 L745.0,1158.0 L746.0,1158.1 L747.0,1158.3 L748.0,1158.7 L749.0,1159.1 L750.0,1159.8 L751.0,1160.5 L752.0,1161.4 L753.0,1162.4 L754.0,1163.5 L755.0,1164.7 L756.0,1166.1 L757.0,1167.6 L758.0,1169.2 L759.0,1170.8 L760.0,1172.6 L761.0,1174.6 L762.0,1176.6 L763.0,1178.7 L764.0,1180.8 L765.0,1183.1 L766.0,1185.5 L767.0,1187.9 L768.0,1190.4 L769.0,1193.0 L770.0,1195.7 L771.0,1198.4 L772.0,1201.2 L773.0,1204.0 L774.0,1206.9 L775.0,1209.8 L776.0,1212.8 L777.0,1215.8 L778.0,1218.9 L779.0,1221.9 L780.0,1225.0 L781.0,1228.2 L782.0,1231.3 L783.0,1234.5 L784.0,1237.7 L785.0,1240.9 L786.0,1244.2 L787.0,1247.4 L788.0,1250.6 L789.0,1253.9 L790.0,1257.1 L791.0,1260.3 L792.0,1263.6 L793.0,1266.8 L794.0,1270.0 L795.0,1273.2 L796.0,1276.4 L797.0,1279.6 L798.0,1282.7 L799.0,1285.9 L800.0,1289.0 L801.0,1292.1 L802.0,1295.2 L803.0,1298.2 L804.0,1301.3 L805.0,1304.3 L806.0,1307.3 L807.0,1310.2 L808.0,1313.2 L809.0,1316.1 L810.0,1318.9 L811.0,1321.8 L812.0,1324.6 L813.0,1327.3 L814.0,1330.1 L815.0,1332.8 L816.0,1335.5 L817.0,1338.1 L818.0,1340.7 L819.0,1343.3 L820.0,1345.8 L821.0,1348.3 L822.0,1350.8 L823.0,1353.2 L824.0,1355.6 L825.0,1358.0 L826.0,1360.3 L827.0,1362.6 L828.0,1364.8 L829.0,1367.0 L830.0,1369.2 L831.0,1371.3 L832.0,1373.4 L833.0,1375.5 L834.0,1377.5 L835.0,1379.5 L836.0,1381.5 L837.0,1383.4 L838.0,1385.3 L839.0,1387.1 L840.0,1388.9 L841.0,1390.7 L842.0,1392.5 L843.0,1394.2 L844.0,1395.8 L845.0,1397.5 L846.0,1399.1 L847.0,1400.7 L848.0,1402.2 L849.0,1403.7 L850.0,1405.2 L851.0,1406.6 L852.0,1408.1 L853.0,1409.5 L854.0,1410.8 L855.0,1412.1 L856.0,1413.4 L857.0,1414.7 L858.0,1415.9 L859.0,1417.2 L860.0,1418.3 L861.0,1419.5 L862.0,1420.6 L863.0,1421.7 L864.0,1422.8 L865.0,1423.9 L866.0,1424.9 L867.0,1425.9 L868.0,1426.9 L869.0,1427.8 L870.0,1428.8 L871.0,1429.7 L872.0,1430.6 L873.0,1431.5 L874.0,1432.3 L875.0,1433.1 L876.0,1433.9 L877.0,1434.7 L878.0,1435.5 L879.0,1436.2 L880.0,1437.0 L881.0,1437.7 L882.0,1438.4 L883.0,1439.1 L884.0,1439.7 L885.0,1440.4 L886.0,1441.0 L887.0,1441.6 L888.0,1442.2 L889.0,1442.8 L890.0,1443.4 L891.0,1443.9 L892.0,1444.5 L893.0,1445.0 L894.0,1445.5 L895.0,1446.0 L896.0,1446.5 L897.0,1447.0 L898.0,1447.5 L899.0,1447.9 L900.0,1448.4 L901.0,1448.8 L902.0,1449.2 L903.0,1449.6 L904.0,1450.0 L905.0,1450.4 L906.0,1450.8 L907.0,1451.2 L908.0,1451.6 L909.0,1451.9 L910.0,1452.3 L911.0,1452.6 L912.0,1452.9 L913.0,1453.3 L914.0,1453.6 L915.0,1453.9 L916.0,1454.2 L917.0,1454.5 L918.0,1454.8 L919.0,1455.1 L920.0,1455.4 L921.0,1455.6 L922.0,1455.9 L923.0,1456.2 L924.0,1456.4 L925.0,1456.7 L926.0,1456.9 L927.0,1457.2 L928.0,1457.4 L929.0,1457.6 L930.0,1457.9 L931.0,1458.1 L932.0,1458.3 L933.0,1458.5 L934.0,1458.7 L935.0,1458.9 L936.0,1459.1 L937.0,1459.3 L938.0,1459.5 L939.0,1459.7 L940.0,1459.9 L941.0,1460.1 L942.0,1460.3 L943.0,1460.4 L944.0,1460.6 L945.0,1460.8 L946.0,1461.0 L947.0,1461.1 L948.0,1461.3 L949.0,1461.4 L950.0,1461.6 L951.0,1461.8 L952.0,1461.9 L953.0,1462.1 L954.0,1462.2 L955.0,1462.3 L956.0,1462.5 L957.0,1462.6 L958.0,1462.8 L959.0,1462.9 L960.0,1463.0 L961.0,1463.2 L962.0,1463.3 L963.0,1463.4 L964.0,1463.5 L965.0,1463.7 L966.0,1463.8 L967.0,1463.9 L968.0,1464.0 L969.0,1464.1 L970.0,1464.3 L971.0,1464.4 L972.0,1464.5 L973.0,1464.6 L974.0,1464.7 L975.0,1464.8 L976.0,1464.9 L977.0,1465.0 L978.0,1465.1 L979.0,1465.2 L980.0,1465.3 L981.0,1465.4 L982.0,1465.5 L983.0,1465.6 L984.0,1465.7 L985.0,1465.8 L986.0,1465.9 L987.0,1466.0 L988.0,1466.0 L989.0,1466.1 L990.0,1466.2 L991.0,1466.3 L992.0,1466.4 L993.0,1466.5 L994.0,1466.5 L995.0,1466.6 L996.0,1466.7 L997.0,1466.8 L998.0,1466.8 L999.0,1466.9 L1000.0,1467.0 L1001.0,1467.1 L1002.0,1467.1 L1003.0,1467.2 L1004.0,1467.3 L1005.0,1467.4 L1006.0,1467.4 L1007.0,1467.5 L1008.0,1467.6 L1009.0,1467.6 L1010.0,1467.7 L1011.0,1467.7 L1012.0,1467.8 L1013.0,1467.9 L1014.0,1467.9 L1015.0,1468.0 L1016.0,1468.0 L1017.0,1468.1 L1018.0,1468.2 L1019.0,1468.2 L1020.0,1468.3 L1021.0,1468.3 L1022.0,1468.4 L1023.0,1468.4 L1024.0,1468.5 L1025.0,1468.5 L1026.0,1468.6 L1027.0,1468.6 L1028.0,1468.7 L1029.0,1468.7 L1030.0,1468.8 L1031.0,1468.8 L1032.0,1468.9 L1033.0,1468.9 L1034.0,1469.0 L1035.0,1469.0 L1036.0,1469.1 L1037.0,1469.1 L1038.0,1469.1 L1039.0,1469.2 L1040.0,1469.2 L1041.0,1469.3 L1042.0,1469.3 L1043.0,1469.3 L1044.0,1469.4 L1045.0,1469.4 L1046.0,1469.4 L1047.0,1469.5 L1048.0,1469.5 L1049.0,1469.6 L1050.0,1469.6 L1051.0,1469.6 L1052.0,1469.7 L1053.0,1469.7 L1054.0,1469.7 L1055.0,1469.8 L1056.0,1469.8 L1057.0,1469.8 L1058.0,1469.8 L1059.0,1469.9 L1060.0,1469.9 L1061.0,1469.9 L1062.0,1470.0 L1063.0,1470.0 L1064.0,1470.0 L1065.0,1470.0 L1066.0,1470.1 L1067.0,1470.1 L1068.0,1470.1 L1069.0,1470.1 L1070.0,1470.2 L1071.0,1470.2 L1072.0,1470.2 L1073.0,1470.2 L1074.0,1470.3 L1075.0,1470.3 L1076.0,1470.3 L1077.0,1470.3 L1078.0,1470.3 L1079.0,1470.4 L1080.0,1470.4 L1081.0,1470.4 L1082.0,1470.4 L1083.0,1470.4 L1084.0,1470.4 L1085.0,1470.5 L1086.0,1470.5 L1087.0,1470.5 L1088.0,1470.5 L1089.0,1470.5 L1090.0,1470.5 L1091.0,1470.5 L1092.0,1470.6 L1093.0,1470.6 L1094.0,1470.6 L1095.0,1470.6 L1096.0,1470.6 L1097.0,1470.6 L1098.0,1470.6 L1099.0,1470.6 L1100.0,1470.7 L1101.0,1470.7 L1102.0,1470.7 L1103.0,1470.7 L1104.0,1470.7 L1105.0,1470.7 L1106.0,1470.7 L1107.0,1470.7 L1108.0,1470.7 L1109.0,1470.7 L1110.0,1470.7 L1111.0,1470.7 L1112.0,1470.7 L1113.0,1470.7 L1114.0,1470.7 L1115.0,1470.8 L1116.0,1470.8 L1117.0,1470.8 L1118.0,1470.8 L1119.0,1470.8 L1120.0,1470.8 L1121.0,1470.8 L1122.0,1470.8 L1123.0,1470.8 L1124.0,1470.8 L1125.0,1470.8 L1126.0,1470.8 L1127.0,1470.8 L1128.0,1470.8 L1129.0,1470.8 L1130.0,1470.8 L1131.0,1470.8 L1132.0,1470.8 L1133.0,1470.8 L1134.0,1470.7 L1135.0,1470.7 L1136.0,1470.7 L1137.0,1470.7 L1138.0,1470.7 L1139.0,1470.7 L1140.0,1470.7 L1141.0,1470.7 L1142.0,1470.7 L1143.0,1470.7 L1144.0,1470.7 L1145.0,1470.7 L1146.0,1470.7 L1147.0,1470.7 L1148.0,1470.7 L1149.0,1470.6 L1150.0,1470.6 L1151.0,1470.6 L1152.0,1470.6 L1153.0,1470.6 L1154.0,1470.6 L1155.0,1470.6 L1156.0,1470.6 L1157.0,1470.6 L1158.0,1470.5 L1159.0,1470.5 L1160.0,1470.5 L1161.0,1470.5 L1162.0,1470.5 L1163.0,1470.5 L1164.0,1470.5 L1165.0,1470.4 L1166.0,1470.4 L1167.0,1470.4 L1168.0,1470.4 L1169.0,1470.4 L1170.0,1470.4 L1171.0,1470.3 L1172.0,1470.3 L1173.0,1470.3 L1174.0,1470.3 L1175.0,1470.3 L1176.0,1470.2 L1177.0,1470.2 L1178.0,1470.2 L1179.0,1470.2 L1180.0,1470.2 L1181.0,1470.1 L1182.0,1470.1 L1183.0,1470.1 L1184.0,1470.1 L1185.0,1470.0 L1186.0,1470.0 L1187.0,1470.0 L1188.0,1470.0 L1189.0,1470.0 L1190.0,1469.9 L1191.0,1469.9 L1192.0,1469.9 L1193.0,1469.8 L1194.0,1469.8 L1195.0,1469.8 L1196.0,1469.8 L1197.0,1469.7 L1198.0,1469.7 L1199.0,1469.7 L1200.0,1469.6 L1201.0,1469.6 L1202.0,1469.6 L1203.0,1469.6 L1204.0,1469.5 L1205.0,1469.5 L1206.0,1469.5 L1207.0,1469.4 L1208.0,1469.4 L1209.0,1469.4 L1210.0,1469.3 L1211.0,1469.3 L1212.0,1469.3 L1213.0,1469.2 L1214.0,1469.2 L1215.0,1469.1 L1216.0,1469.1 L1217.0,1469.1 L1218.0,1469.0 L1219.0,1469.0 L1220.0,1469.0 L1221.0,1468.9 L1222.0,1468.9 L1223.0,1468.8 L1224.0,1468.8 L1225.0,1468.8 L1226.0,1468.7 L1227.0,1468.7 L1228.0,1468.6 L1229.0,1468.6 L1230.0,1468.5 L1231.0,1468.5 L1232.0,1468.5 L1233.0,1468.4 L1234.0,1468.4 L1235.0,1468.3 L1236.0,1468.3 L1237.0,1468.2 L1238.0,1468.2 L1239.0,1468.1 L1240.0,1468.1 L1241.0,1468.0 L1242.0,1468.0 L1243.0,1467.9 L1244.0,1467.9 L1245.0,1467.8 L1246.0,1467.8 L1247.0,1467.7 L1248.0,1467.7 L1249.0,1467.6 L1250.0,1467.5 L1251.0,1467.5 L1252.0,1467.4 L1253.0,1467.4 L1254.0,1467.3 L1255.0,1467.3 L1256.0,1467.2 L1257.0,1467.1 L1258.0,1467.1 L1259.0,1467.0 L1260.0,1467.0 L1261.0,1466.9 L1262.0,1466.8 L1263.0,1466.8 L1264.0,1466.7 L1265.0,1466.6 L1266.0,1466.6 L1267.0,1466.5 L1268.0,1466.4 L1269.0,1466.4 L1270.0,1466.3 L1271.0,1466.2 L1272.0,1466.2 L1273.0,1466.1 L1274.0,1466.0 L1275.0,1466.0 L1276.0,1465.9 L1277.0,1465.8 L1278.0,1465.7 L1279.0,1465.7 L1280.0,1465.6 L1281.0,1465.5 L1282.0,1465.4 L1283.0,1465.4 L1284.0,1465.3 L1285.0,1465.2 L1286.0,1465.1 L1287.0,1465.0 L1288.0,1464.9 L1289.0,1464.9 L1290.0,1464.8 L1291.0,1464.7 L1292.0,1464.6 L1293.0,1464.5 L1294.0,1464.4 L1295.0,1464.3 L1296.0,1464.3 L1297.0,1464.2 L1298.0,1464.1 L1299.0,1464.0 L1300.0,1463.9 L1301.0,1463.8 L1302.0,1463.7 L1303.0,1463.6 L1304.0,1463.5 L1305.0,1463.4 L1306.0,1463.3 L1307.0,1463.2 L1308.0,1463.1 L1309.0,1463.0 L1310.0,1462.9 L1311.0,1462.8 L1312.0,1462.7 L1313.0,1462.6 L1314.0,1462.5 L1315.0,1462.4 L1316.0,1462.2 L1317.0,1462.1 L1318.0,1462.0 L1319.0,1461.9 L1320.0,1461.8 L1321.0,1461.7 L1322.0,1461.6 L1323.0,1461.4 L1324.0,1461.3 L1325.0,1461.2 L1326.0,1461.1 L1327.0,1461.0 L1328.0,1460.8 L1329.0,1460.7 L1330.0,1460.6 L1331.0,1460.4 L1332.0,1460.3 L1333.0,1460.2 L1334.0,1460.0 L1335.0,1459.9 L1336.0,1459.8 L1337.0,1459.6 L1338.0,1459.5 L1339.0,1459.3 L1340.0,1459.2 L1341.0,1459.1 L1342.0,1458.9 L1343.0,1458.8 L1344.0,1458.6 L1345.0,1458.5 L1346.0,1458.3 L1347.0,1458.2 L1348.0,1458.0 L1349.0,1457.8 L1350.0,1457.7 L1351.0,1457.5 L1352.0,1457.4 L1353.0,1457.2 L1354.0,1457.0 L1355.0,1456.8 L1356.0,1456.7 L1357.0,1456.5 L1358.0,1456.3 L1359.0,1456.1 L1360.0,1456.0 L1361.0,1455.8 L1362.0,1455.6 L1363.0,1455.4 L1364.0,1455.2 L1365.0,1455.0 L1366.0,1454.8 L1367.0,1454.6 L1368.0,1454.4 L1369.0,1454.2 L1370.0,1454.0 L1371.0,1453.8 L1372.0,1453.6 L1373.0,1453.4 L1374.0,1453.2 L1375.0,1453.0 L1376.0,1452.8 L1377.0,1452.6 L1378.0,1452.3 L1379.0,1452.1 L1380.0,1451.9 L1381.0,1451.6 L1382.0,1451.4 L1383.0,1451.2 L1384.0,1450.9 L1385.0,1450.7 L1386.0,1450.4 L1387.0,1450.2 L1388.0,1449.9 L1389.0,1449.6 L1390.0,1449.4 L1391.0,1449.1 L1392.0,1448.8 L1393.0,1448.6 L1394.0,1448.3 L1395.0,1448.0 L1396.0,1447.7 L1397.0,1447.4 L1398.0,1447.1 L1399.0,1446.8 L1400.0,1446.5 L1401.0,1446.2 L1402.0,1445.9 L1403.0,1445.6 L1404.0,1445.2 L1405.0,1444.9 L1406.0,1444.6 L1407.0,1444.2 L1408.0,1443.9 L1409.0,1443.5 L1410.0,1443.1 L1411.0,1442.8 L1412.0,1442.4 L1413.0,1442.0 L1414.0,1441.6 L1415.0,1441.2 L1416.0,1440.8 L1417.0,1440.4 L1418.0,1440.0 L1419.0,1439.6 L1420.0,1439.1 L1421.0,1438.7 L1422.0,1438.2 L1423.0,1437.8 L1424.0,1437.3 L1425.0,1436.8 L1426.0,1436.3 L1427.0,1435.8 L1428.0,1435.3 L1429.0,1434.8 L1430.0,1434.3 L1431.0,1433.7 L1432.0,1433.2 L1433.0,1432.6 L1434.0,1432.0 L1435.0,1431.4 L1436.0,1430.8 L1437.0,1430.2 L1438.0,1429.5 L1439.0,1428.9 L1440.0,1428.2 L1441.0,1427.5 L1442.0,1426.8 L1443.0,1426.1 L1444.0,1425.3 L1445.0,1424.6 L1446.0,1423.8 L1447.0,1423.0 L1448.0,1422.2 L1449.0,1421.4 L1450.0,1420.5 L1451.0,1419.6 L1452.0,1418.7 L1453.0,1417.8 L1454.0,1416.8 L1455.0,1415.9 L1456.0,1414.9 L1457.0,1413.8 L1458.0,1412.8 L1459.0,1411.7 L1460.0,1410.6 L1461.0,1409.5 L1462.0,1408.3 L1463.0,1407.1 L1464.0,1405.9 L1465.0,1404.6 L1466.0,1403.3 L1467.0,1401.9 L1468.0,1400.6 L1469.0,1399.2 L1470.0,1397.7 L1471.0,1396.2 L1472.0,1394.7 L1473.0,1393.1 L1474.0,1391.5 L1475.0,1389.9 L1476.0,1388.2 L1477.0,1386.4 L1478.0,1384.6 L1479.0,1382.8 L1480.0,1380.9 L1481.0,1379.0 L1482.0,1377.0 L1483.0,1375.0 L1484.0,1372.9 L1485.0,1370.7 L1486.0,1368.5 L1487.0,1366.3 L1488.0,1363.9 L1489.0,1361.6 L1490.0,1359.1 L1491.0,1356.6 L1492.0,1354.1 L1493.0,1351.4 L1494.0,1348.7 L1495.0,1346.0 L1496.0,1343.1 L1497.0,1340.3 L1498.0,1337.3 L1499.0,1334.2 L1500.0,1331.1 L1501.0,1328.0 L1502.0,1324.7 L1503.0,1321.4 L1504.0,1317.9 L1505.0,1314.5 L1506.0,1310.9 L1507.0,1307.2 L1508.0,1303.5 L1509.0,1299.7 L1510.0,1295.8 L1511.0,1291.8 L1512.0,1287.8 L1513.0,1283.6 L1514.0,1279.4 L1515.0,1275.0 L1516.0,1270.6 L1517.0,1266.1 L1518.0,1261.6 L1519.0,1256.9 L1520.0,1252.1 L1521.0,1247.3 L1522.0,1242.3 L1523.0,1237.3 L1524.0,1232.1 L1525.0,1226.9 L1526.0,1221.6 L1527.0,1216.2 L1528.0,1210.7 L1529.0,1205.1 L1530.0,1199.4 L1531.0,1193.7 L1532.0,1187.8 L1533.0,1181.8 L1534.0,1175.8 L1535.0,1169.7 L1536.0,1163.4 L1537.0,1157.1 L1538.0,1150.7 L1539.0,1144.2 L1540.0,1137.7 L1541.0,1131.0 L1542.0,1124.3 L1543.0,1117.5 L1544.0,1110.5 L1545.0,1103.6 L1546.0,1096.5 L1547.0,1089.4 L1548.0,1082.2 L1549.0,1074.9 L1550.0,1067.6 L1551.0,1060.1 L1552.0,1052.7 L1553.0,1045.1 L1554.0,1037.5 L1555.0,1029.9 L1556.0,1022.2 L1557.0,1014.4 L1558.0,1006.6 L1559.0,998.8 L1560.0,990.9 L1561.0,983.0 L1562.0,975.0 L1563.0,967.1 L1564.0,959.1 L1565.0,951.0 L1566.0,943.0 L1567.0,935.0 L1568.0,926.9 L1569.0,918.9 L1570.0,910.9 L1571.0,902.9 L1572.0,894.9 L1573.0,886.9 L1574.0,879.0 L1575.0,871.1 L1576.0,863.3 L1577.0,855.5 L1578.0,847.7 L1579.0,840.1 L1580.0,832.5 L1581.0,825.0 L1582.0,817.6 L1583.0,810.3 L1584.0,803.1 L1585.0,796.0 L1586.0,789.0 L1587.0,782.2 L1588.0,775.5 L1589.0,769.0 L1590.0,762.7 L1591.0,756.5 L1592.0,750.4 L1593.0,744.6 L1594.0,739.0 L1595.0,733.6 L1596.0,728.4 L1597.0,723.4 L1598.0,718.6 L1599.0,714.1 L1600.0,709.8 L1601.0,705.8 L1602.0,702.0 L1603.0,698.6 L1604.0,695.3 L1605.0,692.4 L1606.0,689.8 L1607.0,687.4 L1608.0,685.4 L1609.0,683.6 L1610.0,682.1 L1611.0,681.0 L1612.0,680.2 L1613.0,679.6 L1614.0,679.4 L1615.0,679.5 L1616.0,679.9 L1617.0,680.7 L1618.0,681.8 L1619.0,683.1 L1620.0,684.8 L1621.0,686.8 L1622.0,689.2 L1623.0,691.8 L1624.0,694.7 L1625.0,697.9 L1626.0,701.4 L1627.0,705.2 L1628.0,709.2 L1629.0,713.5 L1630.0,718.1 L1631.0,722.9 L1632.0,727.9 L1633.0,733.2 L1634.0,738.7 L1635.0,744.4 L1636.0,750.3 L1637.0,756.3 L1638.0,762.6 L1639.0,769.0 L1640.0,775.6 L1641.0,782.4 L1642.0,789.2 L1643.0,796.3 L1644.0,803.4 L1645.0,810.6 L1646.0,818.0 L1647.0,825.5 L1648.0,833.0 L1649.0,840.6 L1650.0,848.3 L1651.0,856.0 L1652.0,863.8 L1653.0,871.7 L1654.0,879.6 L1655.0,887.5 L1656.0,895.4 L1657.0,903.4 L1658.0,911.3 L1659.0,919.3 L1660.0,927.3 L1661.0,935.2 L1662.0,943.2 L1663.0,951.1 L1664.0,959.1 L1665.0,966.9 L1666.0,974.8 L1667.0,982.6 L1668.0,990.4 L1669.0,998.2 L1670.0,1005.9 L1671.0,1013.5 L1672.0,1021.1 L1673.0,1028.7 L1674.0,1036.1 L1675.0,1043.6 L1676.0,1050.9 L1677.0,1058.2 L1678.0,1065.4 L1679.0,1072.6 L1680.0,1079.7 L1681.0,1086.7 L1682.0,1093.6 L1683.0,1100.4 L1684.0,1107.2 L1685.0,1113.9 L1686.0,1120.5 L1687.0,1127.0 L1688.0,1133.5 L1689.0,1139.8 L1690.0,1146.1 L1691.0,1152.3 L1692.0,1158.4 L1693.0,1164.4 L1694.0,1170.3 L1695.0,1176.1 L1696.0,1181.9 L1697.0,1187.5 L1698.0,1193.1 L1699.0,1198.6 L1700.0,1203.9 L1701.0,1209.2 L1702.0,1214.5 L1703.0,1219.6 L1704.0,1224.6 L1705.0,1229.6 L1706.0,1234.4 L1707.0,1239.2 L1708.0,1243.9 L1709.0,1248.5 L1710.0,1253.0 L1711.0,1257.4 L1712.0,1261.7 L1713.0,1266.0 L1714.0,1270.2 L1715.0,1274.3 L1716.0,1278.3 L1717.0,1282.2 L1718.0,1286.1 L1719.0,1289.9 L1720.0,1293.6 L1721.0,1297.2 L1722.0,1300.7 L1723.0,1304.2 L1724.0,1307.6 L1725.0,1310.9 L1726.0,1314.2 L1727.0,1317.4 L1728.0,1320.5 L1729.0,1323.5 L1730.0,1326.5 L1731.0,1329.4 L1732.0,1332.2 L1733.0,1335.0 L1734.0,1337.7 L1735.0,1340.4 L1736.0,1343.0 L1737.0,1345.5 L1738.0,1348.0 L1739.0,1350.4 L1740.0,1352.8 L1741.0,1355.1 L1742.0,1357.3 L1743.0,1359.5 L1744.0,1361.7 L1745.0,1363.8 L1746.0,1365.8 L1747.0,1367.8 L1748.0,1369.8 L1749.0,1371.7 L1750.0,1373.6 L1751.0,1375.4 L1752.0,1377.1 L1753.0,1378.9 L1754.0,1380.6 L1755.0,1382.2 L1756.0,1383.8 L1757.0,1385.4 L1758.0,1386.9 L1759.0,1388.4 L1760.0,1389.9 L1761.0,1391.3 L1762.0,1392.7 L1763.0,1394.0 L1764.0,1395.3 L1765.0,1396.6 L1766.0,1397.9 L1767.0,1399.1 L1768.0,1400.3 L1769.0,1401.5 L1770.0,1402.7 L1771.0,1403.8 L1772.0,1404.9 L1773.0,1405.9 L1774.0,1407.0 L1775.0,1408.0 L1776.0,1409.0 L1777.0,1410.0 L1778.0,1410.9 L1779.0,1411.9 L1780.0,1412.8 L1781.0,1413.7 L1782.0,1414.5 L1783.0,1415.4 L1784.0,1416.2 L1785.0,1417.0 L1786.0,1417.8 L1787.0,1418.6 L1788.0,1419.4 L1789.0,1420.1 L1790.0,1420.9 L1791.0,1421.6 L1792.0,1422.3 L1793.0,1423.0 L1794.0,1423.7 L1795.0,1424.3 L1796.0,1425.0 L1797.0,1425.6 L1798.0,1426.2 L1799.0,1426.9 L1800.0,1427.5 L1801.0,1428.0 L1802.0,1428.6 L1803.0,1429.2 L1804.0,1429.8 L1805.0,1430.3 L1806.0,1430.8 L1807.0,1431.4 L1808.0,1431.9 L1809.0,1432.4 L1810.0,1432.9 L1811.0,1433.4 L1812.0,1433.9 L1813.0,1434.4 L1814.0,1434.8 L1815.0,1435.3 L1816.0,1435.7 L1817.0,1436.2 L1818.0,1436.6 L1819.0,1437.1 L1820.0,1437.5 L1821.0,1437.9 L1822.0,1438.3 L1823.0,1438.7 L1824.0,1439.1 L1825.0,1439.5 L1826.0,1439.9 L1827.0,1440.3 L1828.0,1440.7 L1829.0,1441.0 L1830.0,1441.4 L1831.0,1441.8 L1832.0,1442.1 L1833.0,1442.5 L1834.0,1442.8 L1835.0,1443.2 L1836.0,1443.5 L1837.0,1443.8 L1838.0,1444.2 L1839.0,1444.5 L1840.0,1444.8 L1841.0,1445.1 L1842.0,1445.4 L1843.0,1445.7 L1844.0,1446.0 L1845.0,1446.3 L1846.0,1446.6 L1847.0,1446.9 L1848.0,1447.2 L1849.0,1447.5 L1850.0,1447.8 L1851.0,1448.1 L1852.0,1448.3 L1853.0,1448.6 L1854.0,1448.9 L1855.0,1449.1 L1856.0,1449.4 L1857.0,1449.7 L1858.0,1449.9 L1859.0,1450.2 L1860.0,1450.4 L1861.0,1450.7 L1862.0,1450.9 L1863.0,1451.1 L1864.0,1451.4 L1865.0,1451.6 L1866.0,1451.9 L1867.0,1452.1 L1868.0,1452.3 L1869.0,1452.5 L1870.0,1452.8 L1871.0,1453.0 L1872.0,1453.2 L1873.0,1453.4 L1874.0,1453.6 L1875.0,1453.8 L1876.0,1454.1 L1877.0,1454.3 L1878.0,1454.5 L1879.0,1454.7 L1880.0,1454.9 L1881.0,1455.1 L1882.0,1455.3 L1883.0,1455.5 L1884.0,1455.7 L1885.0,1455.8 L1886.0,1456.0 L1887.0,1456.2 L1888.0,1456.4 L1889.0,1456.6 L1890.0,1456.8 L1891.0,1457.0 L1892.0,1457.1 L1893.0,1457.3 L1894.0,1457.5 L1895.0,1457.7 L1896.0,1457.8 L1897.0,1458.0 L1898.0,1458.2 L1899.0,1458.3 L1900.0,1458.5 L1901.0,1458.7 L1902.0,1458.8 L1903.0,1459.0 L1904.0,1459.1 L1905.0,1459.3 L1906.0,1459.4 L1907.0,1459.6 L1908.0,1459.7 L1909.0,1459.9 L1910.0,1460.0 L1911.0,1460.2 L1912.0,1460.3 L1913.0,1460.5 L1914.0,1460.6 L1915.0,1460.8 L1916.0,1460.9 L1917.0,1461.0 L1918.0,1461.2 L1919.0,1461.3 L1920.0,1461.5 L1921.0,1461.6 L1922.0,1461.7 L1923.0,1461.9 L1924.0,1462.0 L1925.0,1462.1 L1926.0,1462.2 L1927.0,1462.4 L1928.0,1462.5 L1929.0,1462.6 L1930.0,1462.7 L1931.0,1462.9 L1932.0,1463.0 L1933.0,1463.1 L1934.0,1463.2 L1935.0,1463.4 L1936.0,1463.5 L1937.0,1463.6 L1938.0,1463.7 L1939.0,1463.8 L1940.0,1463.9 L1941.0,1464.0 L1942.0,1464.2 L1943.0,1464.3 L1944.0,1464.4 L1945.0,1464.5 L1946.0,1464.6 L1947.0,1464.7 L1948.0,1464.8 L1949.0,1464.9 L1950.0,1465.0 L1951.0,1465.1 L1952.0,1465.2 L1953.0,1465.3 L1954.0,1465.4 L1955.0,1465.5 L1956.0,1465.6 L1957.0,1465.7 L1958.0,1465.8 L1959.0,1465.9 L1960.0,1466.0 L1961.0,1466.1 L1962.0,1466.2 L1963.0,1466.3 L1964.0,1466.4 L1965.0,1466.5 L1966.0,1466.6 L1967.0,1466.7 L1968.0,1466.7 L1969.0,1466.8 L1970.0,1466.9 L1971.0,1467.0 L1972.0,1467.1 L1973.0,1467.2 L1974.0,1467.3 L1975.0,1467.4 L1976.0,1467.4 L1977.0,1467.5 L1978.0,1467.6 L1979.0,1467.7 L1980.0,1467.8 L1981.0,1467.9 L1982.0,1467.9 L1983.0,1468.0 L1984.0,1468.1 L1985.0,1468.2 L1986.0,1468.2 L1987.0,1468.3 L1988.0,1468.4 L1989.0,1468.5 L1990.0,1468.6 L1991.0,1468.6 L1992.0,1468.7 L1993.0,1468.8 L1994.0,1468.8 L1995.0,1468.9 L1996.0,1469.0 L1997.0,1469.1 L1998.0,1469.1 L1999.0,1469.2 L2000.0,1469.3 L2001.0,1469.3 L2002.0,1469.4 L2003.0,1469.5 L2004.0,1469.6 L2005.0,1469.6 L2006.0,1469.7 L2007.0,1469.8 L2008.0,1469.8 L2009.0,1469.9 L2010.0,1470.0 L2011.0,1470.0 L2012.0,1470.1 L2013.0,1470.1 L2014.0,1470.2 L2015.0,1470.3 L2016.0,1470.3 L2017.0,1470.4 L2018.0,1470.5 L2019.0,1470.5 L2020.0,1470.6 L2021.0,1470.6 L2022.0,1470.7 L2023.0,1470.8 L2024.0,1470.8 L2025.0,1470.9 L2026.0,1470.9 L2027.0,1471.0 L2028.0,1471.0 L2029.0,1471.1 L2030.0,1471.2 L2031.0,1471.2 L2032.0,1471.3 L2033.0,1471.3 L2034.0,1471.4 L2035.0,1471.4 L2036.0,1471.5 L2037.0,1471.5 L2038.0,1471.6 L2039.0,1471.7 L2040.0,1471.7 L2041.0,1471.8 L2042.0,1471.8 L2043.0,1471.9 L2044.0,1471.9 L2045.0,1472.0 L2046.0,1472.0 L2047.0,1472.1 L2048.0,1472.1 L2049.0,1472.2 L2050.0,1472.2 L2051.0,1472.3 L2052.0,1472.3 L2053.0,1472.4 L2054.0,1472.4 L2055.0,1472.5 L2056.0,1472.5 L2057.0,1472.5 L2058.0,1472.6 L2059.0,1472.6 L2060.0,1472.7 L2061.0,1472.7 L2062.0,1472.8 L2063.0,1472.8 L2064.0,1472.9 L2065.0,1472.9 L2066.0,1473.0 L2067.0,1473.0 L2068.0,1473.0 L2069.0,1473.1 L2070.0,1473.1 L2071.0,1473.2 L2072.0,1473.2 L2073.0,1473.3 L2074.0,1473.3 L2075.0,1473.3 L2076.0,1473.4 L2077.0,1473.4 L2078.0,1473.5 L2079.0,1473.5 L2080.0,1473.6 L2081.0,1473.6 L2082.0,1473.6 L2083.0,1473.7 L2084.0,1473.7 L2085.0,1473.8 L2086.0,1473.8 L2087.0,1473.8 L2088.0,1473.9 L2089.0,1473.9 L2090.0,1473.9 L2091.0,1474.0 L2092.0,1474.0 L2093.0,1474.1 L2094.0,1474.1 L2095.0,1474.1 L2096.0,1474.2 L2097.0,1474.2 L2098.0,1474.2 L2099.0,1474.3 L2100.0,1474.3 L2101.0,1474.4 L2102.0,1474.4 L2103.0,1474.4 L2104.0,1474.5 L2105.0,1474.5 L2106.0,1474.5 L2107.0,1474.6 L2108.0,1474.6" fill="none" stroke="#37ad6b" stroke-width="9" stroke-linejoin="round" />
<path d="M236.0,1483.2 L237.0,1483.2 L238.0,1483.2 L239.0,1483.2 L240.0,1483.2 L241.0,1483.2 L242.0,1483.2 L243.0,1483.2 L244.0,1483.2 L245.0,1483.2 L246.0,1483.2 L247.0,1483.2 L248.0,1483.1 L249.0,1483.1 L250.0,1483.1 L251.0,1483.1 L252.0,1483.1 L253.0,1483.1 L254.0,1483.1 L255.0,1483.1 L256.0,1483.1 L257.0,1483.1 L258.0,1483.1 L259.0,1483.1 L260.0,1483.1 L261.0,1483.1 L262.0,1483.1 L263.0,1483.1 L264.0,1483.1 L265.0,1483.1 L266.0,1483.1 L267.0,1483.1 L268.0,1483.1 L269.0,1483.1 L270.0,1483.1 L271.0,1483.1 L272.0,1483.1 L273.0,1483.1 L274.0,1483.1 L275.0,1483.1 L276.0,1483.1 L277.0,1483.1 L278.0,1483.1 L279.0,1483.1 L280.0,1483.1 L281.0,1483.1 L282.0,1483.1 L283.0,1483.1 L284.0,1483.1 L285.0,1483.1 L286.0,1483.1 L287.0,1483.1 L288.0,1483.1 L289.0,1483.1 L290.0,1483.1 L291.0,1483.1 L292.0,1483.1 L293.0,1483.1 L294.0,1483.1 L295.0,1483.1 L296.0,1483.1 L297.0,1483.1 L298.0,1483.1 L299.0,1483.1 L300.0,1483.1 L301.0,1483.1 L302.0,1483.1 L303.0,1483.1 L304.0,1483.1 L305.0,1483.1 L306.0,1483.1 L307.0,1483.1 L308.0,1483.1 L309.0,1483.1 L310.0,1483.1 L311.0,1483.1 L312.0,1483.1 L313.0,1483.1 L314.0,1483.1 L315.0,1483.1 L316.0,1483.1 L317.0,1483.1 L318.0,1483.1 L319.0,1483.1 L320.0,1483.1 L321.0,1483.1 L322.0,1483.1 L323.0,1483.1 L324.0,1483.1 L325.0,1483.1 L326.0,1483.1 L327.0,1483.1 L328.0,1483.1 L329.0,1483.1 L330.0,1483.1 L331.0,1483.1 L332.0,1483.1 L333.0,1483.1 L334.0,1483.1 L335.0,1483.1 L336.0,1483.1 L337.0,1483.1 L338.0,1483.1 L339.0,1483.1 L340.0,1483.1 L341.0,1483.1 L342.0,1483.1 L343.0,1483.1 L344.0,1483.1 L345.0,1483.1 L346.0,1483.1 L347.0,1483.1 L348.0,1483.1 L349.0,1483.1 L350.0,1483.1 L351.0,1483.1 L352.0,1483.1 L353.0,1483.1 L354.0,1483.1 L355.0,1483.1 L356.0,1483.1 L357.0,1483.1 L358.0,1483.1 L359.0,1483.1 L360.0,1483.1 L361.0,1483.1 L362.0,1483.1 L363.0,1483.1 L364.0,1483.1 L365.0,1483.1 L366.0,1483.1 L367.0,1483.1 L368.0,1483.1 L369.0,1483.1 L370.0,1483.1 L371.0,1483.1 L372.0,1483.1 L373.0,1483.1 L374.0,1483.1 L375.0,1483.1 L376.0,1483.0 L377.0,1483.0 L378.0,1483.0 L379.0,1483.0 L380.0,1483.0 L381.0,1483.0 L382.0,1483.0 L383.0,1483.0 L384.0,1483.0 L385.0,1483.0 L386.0,1483.0 L387.0,1483.0 L388.0,1483.0 L389.0,1483.0 L390.0,1483.0 L391.0,1483.0 L392.0,1483.0 L393.0,1483.0 L394.0,1483.0 L395.0,1483.0 L396.0,1483.0 L397.0,1483.0 L398.0,1483.0 L399.0,1483.0 L400.0,1483.0 L401.0,1483.0 L402.0,1483.0 L403.0,1483.0 L404.0,1483.0 L405.0,1483.0 L406.0,1483.0 L407.0,1483.0 L408.0,1483.0 L409.0,1483.0 L410.0,1483.0 L411.0,1483.0 L412.0,1483.0 L413.0,1483.0 L414.0,1483.0 L415.0,1483.0 L416.0,1483.0 L417.0,1483.0 L418.0,1483.0 L419.0,1483.0 L420.0,1483.0 L421.0,1483.0 L422.0,1483.0 L423.0,1483.0 L424.0,1483.0 L425.0,1483.0 L426.0,1483.0 L427.0,1483.0 L428.0,1483.0 L429.0,1483.0 L430.0,1483.0 L431.0,1483.0 L432.0,1483.0 L433.0,1483.0 L434.0,1483.0 L435.0,1483.0 L436.0,1483.0 L437.0,1483.0 L438.0,1483.0 L439.0,1483.0 L440.0,1483.0 L441.0,1483.0 L442.0,1483.0 L443.0,1483.0 L444.0,1483.0 L445.0,1483.0 L446.0,1483.0 L447.0,1483.0 L448.0,1483.0 L449.0,1483.0 L450.0,1483.0 L451.0,1483.0 L452.0,1483.0 L453.0,1483.0 L454.0,1483.0 L455.0,1483.0 L456.0,1483.0 L457.0,1483.0 L458.0,1483.0 L459.0,1483.0 L460.0,1483.0 L461.0,1483.0 L462.0,1483.0 L463.0,1483.0 L464.0,1483.0 L465.0,1483.0 L466.0,1483.0 L467.0,1482.9 L468.0,1482.9 L469.0,1482.9 L470.0,1482.9 L471.0,1482.9 L472.0,1482.9 L473.0,1482.9 L474.0,1482.9 L475.0,1482.9 L476.0,1482.9 L477.0,1482.9 L478.0,1482.9 L479.0,1482.9 L480.0,1482.9 L481.0,1482.9 L482.0,1482.9 L483.0,1482.9 L484.0,1482.9 L485.0,1482.9 L486.0,1482.9 L487.0,1482.9 L488.0,1482.9 L489.0,1482.9 L490.0,1482.9 L491.0,1482.9 L492.0,1482.9 L493.0,1482.9 L494.0,1482.9 L495.0,1482.9 L496.0,1482.9 L497.0,1482.9 L498.0,1482.9 L499.0,1482.9 L500.0,1482.9 L501.0,1482.9 L502.0,1482.9 L503.0,1482.9 L504.0,1482.9 L505.0,1482.9 L506.0,1482.9 L507.0,1482.9 L508.0,1482.9 L509.0,1482.9 L510.0,1482.9 L511.0,1482.9 L512.0,1482.9 L513.0,1482.9 L514.0,1482.9 L515.0,1482.9 L516.0,1482.9 L517.0,1482.9 L518.0,1482.9 L519.0,1482.9 L520.0,1482.9 L521.0,1482.9 L522.0,1482.9 L523.0,1482.9 L524.0,1482.9 L525.0,1482.9 L526.0,1482.9 L527.0,1482.9 L528.0,1482.9 L529.0,1482.9 L530.0,1482.9 L531.0,1482.9 L532.0,1482.9 L533.0,1482.9 L534.0,1482.9 L535.0,1482.9 L536.0,1482.9 L537.0,1482.8 L538.0,1482.8 L539.0,1482.8 L540.0,1482.8 L541.0,1482.8 L542.0,1482.8 L543.0,1482.8 L544.0,1482.8 L545.0,1482.8 L546.0,1482.8 L547.0,1482.8 L548.0,1482.8 L549.0,1482.8 L550.0,1482.8 L551.0,1482.8 L552.0,1482.8 L553.0,1482.8 L554.0,1482.8 L555.0,1482.8 L556.0,1482.8 L557.0,1482.8 L558.0,1482.8 L559.0,1482.8 L560.0,1482.8 L561.0,1482.8 L562.0,1482.8 L563.0,1482.8 L564.0,1482.8 L565.0,1482.8 L566.0,1482.8 L567.0,1482.8 L568.0,1482.8 L569.0,1482.8 L570.0,1482.8 L571.0,1482.8 L572.0,1482.8 L573.0,1482.8 L574.0,1482.8 L575.0,1482.8 L576.0,1482.8 L577.0,1482.8 L578.0,1482.8 L579.0,1482.8 L580.0,1482.8 L581.0,1482.8 L582.0,1482.8 L583.0,1482.8 L584.0,1482.8 L585.0,1482.8 L586.0,1482.8 L587.0,1482.8 L588.0,1482.8 L589.0,1482.8 L590.0,1482.8 L591.0,1482.8 L592.0,1482.7 L593.0,1482.7 L594.0,1482.7 L595.0,1482.7 L596.0,1482.7 L597.0,1482.7 L598.0,1482.7 L599.0,1482.7 L600.0,1482.7 L601.0,1482.7 L602.0,1482.7 L603.0,1482.7 L604.0,1482.7 L605.0,1482.7 L606.0,1482.7 L607.0,1482.7 L608.0,1482.7 L609.0,1482.7 L610.0,1482.7 L611.0,1482.7 L612.0,1482.7 L613.0,1482.7 L614.0,1482.7 L615.0,1482.7 L616.0,1482.7 L617.0,1482.7 L618.0,1482.7 L619.0,1482.7 L620.0,1482.7 L621.0,1482.7 L622.0,1482.7 L623.0,1482.7 L624.0,1482.7 L625.0,1482.7 L626.0,1482.7 L627.0,1482.7 L628.0,1482.7 L629.0,1482.7 L630.0,1482.7 L631.0,1482.7 L632.0,1482.7 L633.0,1482.7 L634.0,1482.7 L635.0,1482.7 L636.0,1482.7 L637.0,1482.6 L638.0,1482.6 L639.0,1482.6 L640.0,1482.6 L641.0,1482.6 L642.0,1482.6 L643.0,1482.6 L644.0,1482.6 L645.0,1482.6 L646.0,1482.6 L647.0,1482.6 L648.0,1482.6 L649.0,1482.6 L650.0,1482.6 L651.0,1482.6 L652.0,1482.6 L653.0,1482.6 L654.0,1482.6 L655.0,1482.6 L656.0,1482.6 L657.0,1482.6 L658.0,1482.6 L659.0,1482.6 L660.0,1482.6 L661.0,1482.6 L662.0,1482.6 L663.0,1482.6 L664.0,1482.6 L665.0,1482.6 L666.0,1482.6 L667.0,1482.6 L668.0,1482.6 L669.0,1482.6 L670.0,1482.6 L671.0,1482.6 L672.0,1482.6 L673.0,1482.6 L674.0,1482.6 L675.0,1482.5 L676.0,1482.5 L677.0,1482.5 L678.0,1482.5 L679.0,1482.5 L680.0,1482.5 L681.0,1482.5 L682.0,1482.5 L683.0,1482.5 L684.0,1482.5 L685.0,1482.5 L686.0,1482.5 L687.0,1482.5 L688.0,1482.5 L689.0,1482.5 L690.0,1482.5 L691.0,1482.5 L692.0,1482.5 L693.0,1482.5 L694.0,1482.5 L695.0,1482.5 L696.0,1482.5 L697.0,1482.5 L698.0,1482.5 L699.0,1482.5 L700.0,1482.5 L701.0,1482.5 L702.0,1482.5 L703.0,1482.5 L704.0,1482.5 L705.0,1482.5 L706.0,1482.5 L707.0,1482.5 L708.0,1482.4 L709.0,1482.4 L710.0,1482.4 L711.0,1482.4 L712.0,1482.4 L713.0,1482.4 L714.0,1482.4 L715.0,1482.4 L716.0,1482.4 L717.0,1482.4 L718.0,1482.4 L719.0,1482.4 L720.0,1482.4 L721.0,1482.4 L722.0,1482.4 L723.0,1482.4 L724.0,1482.4 L725.0,1482.4 L726.0,1482.4 L727.0,1482.4 L728.0,1482.4 L729.0,1482.4 L730.0,1482.4 L731.0,1482.4 L732.0,1482.4 L733.0,1482.4 L734.0,1482.4 L735.0,1482.4 L736.0,1482.3 L737.0,1482.3 L738.0,1482.3 L739.0,1482.3 L740.0,1482.3 L741.0,1482.3 L742.0,1482.3 L743.0,1482.3 L744.0,1482.3 L745.0,1482.3 L746.0,1482.3 L747.0,1482.3 L748.0,1482.3 L749.0,1482.3 L750.0,1482.3 L751.0,1482.3 L752.0,1482.3 L753.0,1482.3 L754.0,1482.3 L755.0,1482.3 L756.0,1482.3 L757.0,1482.3 L758.0,1482.3 L759.0,1482.3 L760.0,1482.2 L761.0,1482.2 L762.0,1482.2 L763.0,1482.2 L764.0,1482.2 L765.0,1482.2 L766.0,1482.2 L767.0,1482.2 L768.0,1482.2 L769.0,1482.2 L770.0,1482.2 L771.0,1482.2 L772.0,1482.2 L773.0,1482.2 L774.0,1482.2 L775.0,1482.2 L776.0,1482.2 L777.0,1482.2 L778.0,1482.2 L779.0,1482.2 L780.0,1482.2 L781.0,1482.2 L782.0,1482.1 L783.0,1482.1 L784.0,1482.1 L785.0,1482.1 L786.0,1482.1 L787.0,1482.1 L788.0,1482.1 L789.0,1482.1 L790.0,1482.1 L791.0,1482.1 L792.0,1482.1 L793.0,1482.1 L794.0,1482.1 L795.0,1482.1 L796.0,1482.1 L797.0,1482.1 L798.0,1482.1 L799.0,1482.1 L800.0,1482.1 L801.0,1482.1 L802.0,1482.0 L803.0,1482.0 L804.0,1482.0 L805.0,1482.0 L806.0,1482.0 L807.0,1482.0 L808.0,1482.0 L809.0,1482.0 L810.0,1482.0 L811.0,1482.0 L812.0,1482.0 L813.0,1482.0 L814.0,1482.0 L815.0,1482.0 L816.0,1482.0 L817.0,1482.0 L818.0,1482.0 L819.0,1482.0 L820.0,1481.9 L821.0,1481.9 L822.0,1481.9 L823.0,1481.9 L824.0,1481.9 L825.0,1481.9 L826.0,1481.9 L827.0,1481.9 L828.0,1481.9 L829.0,1481.9 L830.0,1481.9 L831.0,1481.9 L832.0,1481.9 L833.0,1481.9 L834.0,1481.9 L835.0,1481.9 L836.0,1481.8 L837.0,1481.8 L838.0,1481.8 L839.0,1481.8 L840.0,1481.8 L841.0,1481.8 L842.0,1481.8 L843.0,1481.8 L844.0,1481.8 L845.0,1481.8 L846.0,1481.8 L847.0,1481.8 L848.0,1481.8 L849.0,1481.8 L850.0,1481.7 L851.0,1481.7 L852.0,1481.7 L853.0,1481.7 L854.0,1481.7 L855.0,1481.7 L856.0,1481.7 L857.0,1481.7 L858.0,1481.7 L859.0,1481.7 L860.0,1481.7 L861.0,1481.7 L862.0,1481.7 L863.0,1481.7 L864.0,1481.6 L865.0,1481.6 L866.0,1481.6 L867.0,1481.6 L868.0,1481.6 L869.0,1481.6 L870.0,1481.6 L871.0,1481.6 L872.0,1481.6 L873.0,1481.6 L874.0,1481.6 L875.0,1481.6 L876.0,1481.5 L877.0,1481.5 L878.0,1481.5 L879.0,1481.5 L880.0,1481.5 L881.0,1481.5 L882.0,1481.5 L883.0,1481.5 L884.0,1481.5 L885.0,1481.5 L886.0,1481.5 L887.0,1481.5 L888.0,1481.4 L889.0,1481.4 L890.0,1481.4 L891.0,1481.4 L892.0,1481.4 L893.0,1481.4 L894.0,1481.4 L895.0,1481.4 L896.0,1481.4 L897.0,1481.4 L898.0,1481.4 L899.0,1481.3 L900.0,1481.3 L901.0,1481.3 L902.0,1481.3 L903.0,1481.3 L904.0,1481.3 L905.0,1481.3 L906.0,1481.3 L907.0,1481.3 L908.0,1481.3 L909.0,1481.2 L910.0,1481.2 L911.0,1481.2 L912.0,1481.2 L913.0,1481.2 L914.0,1481.2 L915.0,1481.2 L916.0,1481.2 L917.0,1481.2 L918.0,1481.1 L919.0,1481.1 L920.0,1481.1 L921.0,1481.1 L922.0,1481.1 L923.0,1481.1 L924.0,1481.1 L925.0,1481.1 L926.0,1481.1 L927.0,1481.0 L928.0,1481.0 L929.0,1481.0 L930.0,1481.0 L931.0,1481.0 L932.0,1481.0 L933.0,1481.0 L934.0,1481.0 L935.0,1480.9 L936.0,1480.9 L937.0,1480.9 L938.0,1480.9 L939.0,1480.9 L940.0,1480.9 L941.0,1480.9 L942.0,1480.9 L943.0,1480.8 L944.0,1480.8 L945.0,1480.8 L946.0,1480.8 L947.0,1480.8 L948.0,1480.8 L949.0,1480.8 L950.0,1480.7 L951.0,1480.7 L952.0,1480.7 L953.0,1480.7 L954.0,1480.7 L955.0,1480.7 L956.0,1480.7 L957.0,1480.6 L958.0,1480.6 L959.0,1480.6 L960.0,1480.6 L961.0,1480.6 L962.0,1480.6 L963.0,1480.6 L964.0,1480.5 L965.0,1480.5 L966.0,1480.5 L967.0,1480.5 L968.0,1480.5 L969.0,1480.5 L970.0,1480.4 L971.0,1480.4 L972.0,1480.4 L973.0,1480.4 L974.0,1480.4 L975.0,1480.4 L976.0,1480.3 L977.0,1480.3 L978.0,1480.3 L979.0,1480.3 L980.0,1480.3 L981.0,1480.3 L982.0,1480.2 L983.0,1480.2 L984.0,1480.2 L985.0,1480.2 L986.0,1480.2 L987.0,1480.2 L988.0,1480.1 L989.0,1480.1 L990.0,1480.1 L991.0,1480.1 L992.0,1480.1 L993.0,1480.0 L994.0,1480.0 L995.0,1480.0 L996.0,1480.0 L997.0,1480.0 L998.0,1479.9 L999.0,1479.9 L1000.0,1479.9 L1001.0,1479.9 L1002.0,1479.9 L1003.0,1479.8 L1004.0,1479.8 L1005.0,1479.8 L1006.0,1479.8 L1007.0,1479.7 L1008.0,1479.7 L1009.0,1479.7 L1010.0,1479.7 L1011.0,1479.7 L1012.0,1479.6 L1013.0,1479.6 L1014.0,1479.6 L1015.0,1479.6 L1016.0,1479.5 L1017.0,1479.5 L1018.0,1479.5 L1019.0,1479.5 L1020.0,1479.4 L1021.0,1479.4 L1022.0,1479.4 L1023.0,1479.4 L1024.0,1479.3 L1025.0,1479.3 L1026.0,1479.3 L1027.0,1479.3 L1028.0,1479.2 L1029.0,1479.2 L1030.0,1479.2 L1031.0,1479.1 L1032.0,1479.1 L1033.0,1479.1 L1034.0,1479.1 L1035.0,1479.0 L1036.0,1479.0 L1037.0,1479.0 L1038.0,1478.9 L1039.0,1478.9 L1040.0,1478.9 L1041.0,1478.8 L1042.0,1478.8 L1043.0,1478.8 L1044.0,1478.7 L1045.0,1478.7 L1046.0,1478.7 L1047.0,1478.6 L1048.0,1478.6 L1049.0,1478.6 L1050.0,1478.5 L1051.0,1478.5 L1052.0,1478.5 L1053.0,1478.4 L1054.0,1478.4 L1055.0,1478.4 L1056.0,1478.3 L1057.0,1478.3 L1058.0,1478.2 L1059.0,1478.2 L1060.0,1478.2 L1061.0,1478.1 L1062.0,1478.1 L1063.0,1478.0 L1064.0,1478.0 L1065.0,1477.9 L1066.0,1477.9 L1067.0,1477.9 L1068.0,1477.8 L1069.0,1477.8 L1070.0,1477.7 L1071.0,1477.7 L1072.0,1477.6 L1073.0,1477.6 L1074.0,1477.5 L1075.0,1477.5 L1076.0,1477.4 L1077.0,1477.4 L1078.0,1477.3 L1079.0,1477.3 L1080.0,1477.2 L1081.0,1477.1 L1082.0,1477.1 L1083.0,1477.0 L1084.0,1477.0 L1085.0,1476.9 L1086.0,1476.8 L1087.0,1476.8 L1088.0,1476.7 L1089.0,1476.7 L1090.0,1476.6 L1091.0,1476.5 L1092.0,1476.5 L1093.0,1476.4 L1094.0,1476.3 L1095.0,1476.2 L1096.0,1476.2 L1097.0,1476.1 L1098.0,1476.0 L1099.0,1475.9 L1100.0,1475.9 L1101.0,1475.8 L1102.0,1475.7 L1103.0,1475.6 L1104.0,1475.5 L1105.0,1475.4 L1106.0,1475.3 L1107.0,1475.3 L1108.0,1475.2 L1109.0,1475.1 L1110.0,1475.0 L1111.0,1474.9 L1112.0,1474.8 L1113.0,1474.7 L1114.0,1474.6 L1115.0,1474.4 L1116.0,1474.3 L1117.0,1474.2 L1118.0,1474.1 L1119.0,1474.0 L1120.0,1473.9 L1121.0,1473.8 L1122.0,1473.6 L1123.0,1473.5 L1124.0,1473.4 L1125.0,1473.2 L1126.0,1473.1 L1127.0,1473.0 L1128.0,1472.8 L1129.0,1472.7 L1130.0,1472.5 L1131.0,1472.4 L1132.0,1472.2 L1133.0,1472.1 L1134.0,1471.9 L1135.0,1471.8 L1136.0,1471.6 L1137.0,1471.4 L1138.0,1471.2 L1139.0,1471.1 L1140.0,1470.9 L1141.0,1470.7 L1142.0,1470.5 L1143.0,1470.3 L1144.0,1470.1 L1145.0,1469.9 L1146.0,1469.7 L1147.0,1469.5 L1148.0,1469.3 L1149.0,1469.1 L1150.0,1468.9 L1151.0,1468.6 L1152.0,1468.4 L1153.0,1468.2 L1154.0,1467.9 L1155.0,1467.7 L1156.0,1467.4 L1157.0,1467.2 L1158.0,1466.9 L1159.0,1466.7 L1160.0,1466.4 L1161.0,1466.1 L1162.0,1465.8 L1163.0,1465.5 L1164.0,1465.3 L1165.0,1465.0 L1166.0,1464.7 L1167.0,1464.3 L1168.0,1464.0 L1169.0,1463.7 L1170.0,1463.4 L1171.0,1463.1 L1172.0,1462.7 L1173.0,1462.4 L1174.0,1462.0 L1175.0,1461.7 L1176.0,1461.3 L1177.0,1460.9 L1178.0,1460.6 L1179.0,1460.2 L1180.0,1459.8 L1181.0,1459.4 L1182.0,1459.0 L1183.0,1458.6 L1184.0,1458.2 L1185.0,1457.7 L1186.0,1457.3 L1187.0,1456.9 L1188.0,1456.4 L1189.0,1456.0 L1190.0,1455.5 L1191.0,1455.0 L1192.0,1454.6 L1193.0,1454.1 L1194.0,1453.6 L1195.0,1453.1 L1196.0,1452.6 L1197.0,1452.1 L1198.0,1451.6 L1199.0,1451.0 L1200.0,1450.5 L1201.0,1450.0 L1202.0,1449.4 L1203.0,1448.9 L1204.0,1448.3 L1205.0,1447.7 L1206.0,1447.1 L1207.0,1446.6 L1208.0,1446.0 L1209.0,1445.4 L1210.0,1444.7 L1211.0,1444.1 L1212.0,1443.5 L1213.0,1442.9 L1214.0,1442.2 L1215.0,1441.6 L1216.0,1440.9 L1217.0,1440.2 L1218.0,1439.6 L1219.0,1438.9 L1220.0,1438.2 L1221.0,1437.5 L1222.0,1436.8 L1223.0,1436.1 L1224.0,1435.4 L1225.0,1434.7 L1226.0,1433.9 L1227.0,1433.2 L1228.0,1432.5 L1229.0,1431.7 L1230.0,1430.9 L1231.0,1430.2 L1232.0,1429.4 L1233.0,1428.6 L1234.0,1427.8 L1235.0,1427.1 L1236.0,1426.3 L1237.0,1425.5 L1238.0,1424.7 L1239.0,1423.8 L1240.0,1423.0 L1241.0,1422.2 L1242.0,1421.4 L1243.0,1420.5 L1244.0,1419.7 L1245.0,1418.8 L1246.0,1418.0 L1247.0,1417.1 L1248.0,1416.3 L1249.0,1415.4 L1250.0,1414.6 L1251.0,1413.7 L1252.0,1412.8 L1253.0,1411.9 L1254.0,1411.1 L1255.0,1410.2 L1256.0,1409.3 L1257.0,1408.4 L1258.0,1407.5 L1259.0,1406.7 L1260.0,1405.8 L1261.0,1404.9 L1262.0,1404.0 L1263.0,1403.1 L1264.0,1402.2 L1265.0,1401.3 L1266.0,1400.4 L1267.0,1399.6 L1268.0,1398.7 L1269.0,1397.8 L1270.0,1396.9 L1271.0,1396.0 L1272.0,1395.2 L1273.0,1394.3 L1274.0,1393.4 L1275.0,1392.6 L1276.0,1391.7 L1277.0,1390.9 L1278.0,1390.0 L1279.0,1389.2 L1280.0,1388.3 L1281.0,1387.5 L1282.0,1386.7 L1283.0,1385.9 L1284.0,1385.1 L1285.0,1384.3 L1286.0,1383.5 L1287.0,1382.7 L1288.0,1382.0 L1289.0,1381.2 L1290.0,1380.5 L1291.0,1379.8 L1292.0,1379.0 L1293.0,1378.3 L1294.0,1377.7 L1295.0,1377.0 L1296.0,1376.3 L1297.0,1375.7 L1298.0,1375.1 L1299.0,1374.4 L1300.0,1373.9 L1301.0,1373.3 L1302.0,1372.7 L1303.0,1372.2 L1304.0,1371.7 L1305.0,1371.2 L1306.0,1370.7 L1307.0,1370.2 L1308.0,1369.8 L1309.0,1369.4 L1310.0,1369.0 L1311.0,1368.6 L1312.0,1368.2 L1313.0,1367.9 L1314.0,1367.6 L1315.0,1367.3 L1316.0,1367.1 L1317.0,1366.8 L1318.0,1366.6 L1319.0,1366.4 L1320.0,1366.3 L1321.0,1366.1 L1322.0,1366.0 L1323.0,1365.9 L1324.0,1365.9 L1325.0,1365.8 L1326.0,1365.8 L1327.0,1365.8 L1328.0,1365.9 L1329.0,1365.9 L1330.0,1366.0 L1331.0,1366.1 L1332.0,1366.3 L1333.0,1366.4 L1334.0,1366.6 L1335.0,1366.8 L1336.0,1367.1 L1337.0,1367.3 L1338.0,1367.6 L1339.0,1367.9 L1340.0,1368.2 L1341.0,1368.6 L1342.0,1369.0 L1343.0,1369.4 L1344.0,1369.8 L1345.0,1370.2 L1346.0,1370.7 L1347.0,1371.2 L1348.0,1371.7 L1349.0,1372.2 L1350.0,1372.7 L1351.0,1373.3 L1352.0,1373.9 L1353.0,1374.4 L1354.0,1375.1 L1355.0,1375.7 L1356.0,1376.3 L1357.0,1377.0 L1358.0,1377.7 L1359.0,1378.3 L1360.0,1379.0 L1361.0,1379.8 L1362.0,1380.5 L1363.0,1381.2 L1364.0,1382.0 L1365.0,1382.7 L1366.0,1383.5 L1367.0,1384.3 L1368.0,1385.1 L1369.0,1385.9 L1370.0,1386.7 L1371.0,1387.5 L1372.0,1388.3 L1373.0,1389.2 L1374.0,1390.0 L1375.0,1390.9 L1376.0,1391.7 L1377.0,1392.6 L1378.0,1393.4 L1379.0,1394.3 L1380.0,1395.2 L1381.0,1396.0 L1382.0,1396.9 L1383.0,1397.8 L1384.0,1398.7 L1385.0,1399.6 L1386.0,1400.4 L1387.0,1401.3 L1388.0,1402.2 L1389.0,1403.1 L1390.0,1404.0 L1391.0,1404.9 L1392.0,1405.8 L1393.0,1406.7 L1394.0,1407.5 L1395.0,1408.4 L1396.0,1409.3 L1397.0,1410.2 L1398.0,1411.1 L1399.0,1411.9 L1400.0,1412.8 L1401.0,1413.7 L1402.0,1414.6 L1403.0,1415.4 L1404.0,1416.3 L1405.0,1417.1 L1406.0,1418.0 L1407.0,1418.8 L1408.0,1419.7 L1409.0,1420.5 L1410.0,1421.4 L1411.0,1422.2 L1412.0,1423.0 L1413.0,1423.8 L1414.0,1424.7 L1415.0,1425.5 L1416.0,1426.3 L1417.0,1427.1 L1418.0,1427.8 L1419.0,1428.6 L1420.0,1429.4 L1421.0,1430.2 L1422.0,1430.9 L1423.0,1431.7 L1424.0,1432.5 L1425.0,1433.2 L1426.0,1433.9 L1427.0,1434.7 L1428.0,1435.4 L1429.0,1436.1 L1430.0,1436.8 L1431.0,1437.5 L1432.0,1438.2 L1433.0,1438.9 L1434.0,1439.6 L1435.0,1440.2 L1436.0,1440.9 L1437.0,1441.6 L1438.0,1442.2 L1439.0,1442.9 L1440.0,1443.5 L1441.0,1444.1 L1442.0,1444.7 L1443.0,1445.4 L1444.0,1446.0 L1445.0,1446.6 L1446.0,1447.1 L1447.0,1447.7 L1448.0,1448.3 L1449.0,1448.9 L1450.0,1449.4 L1451.0,1450.0 L1452.0,1450.5 L1453.0,1451.0 L1454.0,1451.6 L1455.0,1452.1 L1456.0,1452.6 L1457.0,1453.1 L1458.0,1453.6 L1459.0,1454.1 L1460.0,1454.6 L1461.0,1455.0 L1462.0,1455.5 L1463.0,1456.0 L1464.0,1456.4 L1465.0,1456.9 L1466.0,1457.3 L1467.0,1457.7 L1468.0,1458.2 L1469.0,1458.6 L1470.0,1459.0 L1471.0,1459.4 L1472.0,1459.8 L1473.0,1460.2 L1474.0,1460.6 L1475.0,1460.9 L1476.0,1461.3 L1477.0,1461.7 L1478.0,1462.0 L1479.0,1462.4 L1480.0,1462.7 L1481.0,1463.1 L1482.0,1463.4 L1483.0,1463.7 L1484.0,1464.0 L1485.0,1464.3 L1486.0,1464.7 L1487.0,1465.0 L1488.0,1465.3 L1489.0,1465.5 L1490.0,1465.8 L1491.0,1466.1 L1492.0,1466.4 L1493.0,1466.7 L1494.0,1466.9 L1495.0,1467.2 L1496.0,1467.4 L1497.0,1467.7 L1498.0,1467.9 L1499.0,1468.2 L1500.0,1468.4 L1501.0,1468.6 L1502.0,1468.9 L1503.0,1469.1 L1504.0,1469.3 L1505.0,1469.5 L1506.0,1469.7 L1507.0,1469.9 L1508.0,1470.1 L1509.0,1470.3 L1510.0,1470.5 L1511.0,1470.7 L1512.0,1470.9 L1513.0,1471.1 L1514.0,1471.2 L1515.0,1471.4 L1516.0,1471.6 L1517.0,1471.8 L1518.0,1471.9 L1519.0,1472.1 L1520.0,1472.2 L1521.0,1472.4 L1522.0,1472.5 L1523.0,1472.7 L1524.0,1472.8 L1525.0,1473.0 L1526.0,1473.1 L1527.0,1473.2 L1528.0,1473.4 L1529.0,1473.5 L1530.0,1473.6 L1531.0,1473.8 L1532.0,1473.9 L1533.0,1474.0 L1534.0,1474.1 L1535.0,1474.2 L1536.0,1474.3 L1537.0,1474.4 L1538.0,1474.6 L1539.0,1474.7 L1540.0,1474.8 L1541.0,1474.9 L1542.0,1475.0 L1543.0,1475.1 L1544.0,1475.2 L1545.0,1475.3 L1546.0,1475.3 L1547.0,1475.4 L1548.0,1475.5 L1549.0,1475.6 L1550.0,1475.7 L1551.0,1475.8 L1552.0,1475.9 L1553.0,1475.9 L1554.0,1476.0 L1555.0,1476.1 L1556.0,1476.2 L1557.0,1476.2 L1558.0,1476.3 L1559.0,1476.4 L1560.0,1476.5 L1561.0,1476.5 L1562.0,1476.6 L1563.0,1476.7 L1564.0,1476.7 L1565.0,1476.8 L1566.0,1476.8 L1567.0,1476.9 L1568.0,1477.0 L1569.0,1477.0 L1570.0,1477.1 L1571.0,1477.1 L1572.0,1477.2 L1573.0,1477.3 L1574.0,1477.3 L1575.0,1477.4 L1576.0,1477.4 L1577.0,1477.5 L1578.0,1477.5 L1579.0,1477.6 L1580.0,1477.6 L1581.0,1477.7 L1582.0,1477.7 L1583.0,1477.8 L1584.0,1477.8 L1585.0,1477.9 L1586.0,1477.9 L1587.0,1477.9 L1588.0,1478.0 L1589.0,1478.0 L1590.0,1478.1 L1591.0,1478.1 L1592.0,1478.2 L1593.0,1478.2 L1594.0,1478.2 L1595.0,1478.3 L1596.0,1478.3 L1597.0,1478.4 L1598.0,1478.4 L1599.0,1478.4 L1600.0,1478.5 L1601.0,1478.5 L1602.0,1478.5 L1603.0,1478.6 L1604.0,1478.6 L1605.0,1478.6 L1606.0,1478.7 L1607.0,1478.7 L1608.0,1478.7 L1609.0,1478.8 L1610.0,1478.8 L1611.0,1478.8 L1612.0,1478.9 L1613.0,1478.9 L1614.0,1478.9 L1615.0,1479.0 L1616.0,1479.0 L1617.0,1479.0 L1618.0,1479.1 L1619.0,1479.1 L1620.0,1479.1 L1621.0,1479.1 L1622.0,1479.2 L1623.0,1479.2 L1624.0,1479.2 L1625.0,1479.3 L1626.0,1479.3 L1627.0,1479.3 L1628.0,1479.3 L1629.0,1479.4 L1630.0,1479.4 L1631.0,1479.4 L1632.0,1479.4 L1633.0,1479.5 L1634.0,1479.5 L1635.0,1479.5 L1636.0,1479.5 L1637.0,1479.6 L1638.0,1479.6 L1639.0,1479.6 L1640.0,1479.6 L1641.0,1479.7 L1642.0,1479.7 L1643.0,1479.7 L1644.0,1479.7 L1645.0,1479.7 L1646.0,1479.8 L1647.0,1479.8 L1648.0,1479.8 L1649.0,1479.8 L1650.0,1479.9 L1651.0,1479.9 L1652.0,1479.9 L1653.0,1479.9 L1654.0,1479.9 L1655.0,1480.0 L1656.0,1480.0 L1657.0,1480.0 L1658.0,1480.0 L1659.0,1480.0 L1660.0,1480.1 L1661.0,1480.1 L1662.0,1480.1 L1663.0,1480.1 L1664.0,1480.1 L1665.0,1480.2 L1666.0,1480.2 L1667.0,1480.2 L1668.0,1480.2 L1669.0,1480.2 L1670.0,1480.2 L1671.0,1480.3 L1672.0,1480.3 L1673.0,1480.3 L1674.0,1480.3 L1675.0,1480.3 L1676.0,1480.3 L1677.0,1480.4 L1678.0,1480.4 L1679.0,1480.4 L1680.0,1480.4 L1681.0,1480.4 L1682.0,1480.4 L1683.0,1480.5 L1684.0,1480.5 L1685.0,1480.5 L1686.0,1480.5 L1687.0,1480.5 L1688.0,1480.5 L1689.0,1480.6 L1690.0,1480.6 L1691.0,1480.6 L1692.0,1480.6 L1693.0,1480.6 L1694.0,1480.6 L1695.0,1480.6 L1696.0,1480.7 L1697.0,1480.7 L1698.0,1480.7 L1699.0,1480.7 L1700.0,1480.7 L1701.0,1480.7 L1702.0,1480.7 L1703.0,1480.8 L1704.0,1480.8 L1705.0,1480.8 L1706.0,1480.8 L1707.0,1480.8 L1708.0,1480.8 L1709.0,1480.8 L1710.0,1480.9 L1711.0,1480.9 L1712.0,1480.9 L1713.0,1480.9 L1714.0,1480.9 L1715.0,1480.9 L1716.0,1480.9 L1717.0,1480.9 L1718.0,1481.0 L1719.0,1481.0 L1720.0,1481.0 L1721.0,1481.0 L1722.0,1481.0 L1723.0,1481.0 L1724.0,1481.0 L1725.0,1481.0 L1726.0,1481.1 L1727.0,1481.1 L1728.0,1481.1 L1729.0,1481.1 L1730.0,1481.1 L1731.0,1481.1 L1732.0,1481.1 L1733.0,1481.1 L1734.0,1481.1 L1735.0,1481.2 L1736.0,1481.2 L1737.0,1481.2 L1738.0,1481.2 L1739.0,1481.2 L1740.0,1481.2 L1741.0,1481.2 L1742.0,1481.2 L1743.0,1481.2 L1744.0,1481.3 L1745.0,1481.3 L1746.0,1481.3 L1747.0,1481.3 L1748.0,1481.3 L1749.0,1481.3 L1750.0,1481.3 L1751.0,1481.3 L1752.0,1481.3 L1753.0,1481.3 L1754.0,1481.4 L1755.0,1481.4 L1756.0,1481.4 L1757.0,1481.4 L1758.0,1481.4 L1759.0,1481.4 L1760.0,1481.4 L1761.0,1481.4 L1762.0,1481.4 L1763.0,1481.4 L1764.0,1481.4 L1765.0,1481.5 L1766.0,1481.5 L1767.0,1481.5 L1768.0,1481.5 L1769.0,1481.5 L1770.0,1481.5 L1771.0,1481.5 L1772.0,1481.5 L1773.0,1481.5 L1774.0,1481.5 L1775.0,1481.5 L1776.0,1481.5 L1777.0,1481.6 L1778.0,1481.6 L1779.0,1481.6 L1780.0,1481.6 L1781.0,1481.6 L1782.0,1481.6 L1783.0,1481.6 L1784.0,1481.6 L1785.0,1481.6 L1786.0,1481.6 L1787.0,1481.6 L1788.0,1481.6 L1789.0,1481.7 L1790.0,1481.7 L1791.0,1481.7 L1792.0,1481.7 L1793.0,1481.7 L1794.0,1481.7 L1795.0,1481.7 L1796.0,1481.7 L1797.0,1481.7 L1798.0,1481.7 L1799.0,1481.7 L1800.0,1481.7 L1801.0,1481.7 L1802.0,1481.7 L1803.0,1481.8 L1804.0,1481.8 L1805.0,1481.8 L1806.0,1481.8 L1807.0,1481.8 L1808.0,1481.8 L1809.0,1481.8 L1810.0,1481.8 L1811.0,1481.8 L1812.0,1481.8 L1813.0,1481.8 L1814.0,1481.8 L1815.0,1481.8 L1816.0,1481.8 L1817.0,1481.9 L1818.0,1481.9 L1819.0,1481.9 L1820.0,1481.9 L1821.0,1481.9 L1822.0,1481.9 L1823.0,1481.9 L1824.0,1481.9 L1825.0,1481.9 L1826.0,1481.9 L1827.0,1481.9 L1828.0,1481.9 L1829.0,1481.9 L1830.0,1481.9 L1831.0,1481.9 L1832.0,1481.9 L1833.0,1482.0 L1834.0,1482.0 L1835.0,1482.0 L1836.0,1482.0 L1837.0,1482.0 L1838.0,1482.0 L1839.0,1482.0 L1840.0,1482.0 L1841.0,1482.0 L1842.0,1482.0 L1843.0,1482.0 L1844.0,1482.0 L1845.0,1482.0 L1846.0,1482.0 L1847.0,1482.0 L1848.0,1482.0 L1849.0,1482.0 L1850.0,1482.0 L1851.0,1482.1 L1852.0,1482.1 L1853.0,1482.1 L1854.0,1482.1 L1855.0,1482.1 L1856.0,1482.1 L1857.0,1482.1 L1858.0,1482.1 L1859.0,1482.1 L1860.0,1482.1 L1861.0,1482.1 L1862.0,1482.1 L1863.0,1482.1 L1864.0,1482.1 L1865.0,1482.1 L1866.0,1482.1 L1867.0,1482.1 L1868.0,1482.1 L1869.0,1482.1 L1870.0,1482.1 L1871.0,1482.2 L1872.0,1482.2 L1873.0,1482.2 L1874.0,1482.2 L1875.0,1482.2 L1876.0,1482.2 L1877.0,1482.2 L1878.0,1482.2 L1879.0,1482.2 L1880.0,1482.2 L1881.0,1482.2 L1882.0,1482.2 L1883.0,1482.2 L1884.0,1482.2 L1885.0,1482.2 L1886.0,1482.2 L1887.0,1482.2 L1888.0,1482.2 L1889.0,1482.2 L1890.0,1482.2 L1891.0,1482.2 L1892.0,1482.2 L1893.0,1482.3 L1894.0,1482.3 L1895.0,1482.3 L1896.0,1482.3 L1897.0,1482.3 L1898.0,1482.3 L1899.0,1482.3 L1900.0,1482.3 L1901.0,1482.3 L1902.0,1482.3 L1903.0,1482.3 L1904.0,1482.3 L1905.0,1482.3 L1906.0,1482.3 L1907.0,1482.3 L1908.0,1482.3 L1909.0,1482.3 L1910.0,1482.3 L1911.0,1482.3 L1912.0,1482.3 L1913.0,1482.3 L1914.0,1482.3 L1915.0,1482.3 L1916.0,1482.3 L1917.0,1482.4 L1918.0,1482.4 L1919.0,1482.4 L1920.0,1482.4 L1921.0,1482.4 L1922.0,1482.4 L1923.0,1482.4 L1924.0,1482.4 L1925.0,1482.4 L1926.0,1482.4 L1927.0,1482.4 L1928.0,1482.4 L1929.0,1482.4 L1930.0,1482.4 L1931.0,1482.4 L1932.0,1482.4 L1933.0,1482.4 L1934.0,1482.4 L1935.0,1482.4 L1936.0,1482.4 L1937.0,1482.4 L1938.0,1482.4 L1939.0,1482.4 L1940.0,1482.4 L1941.0,1482.4 L1942.0,1482.4 L1943.0,1482.4 L1944.0,1482.4 L1945.0,1482.5 L1946.0,1482.5 L1947.0,1482.5 L1948.0,1482.5 L1949.0,1482.5 L1950.0,1482.5 L1951.0,1482.5 L1952.0,1482.5 L1953.0,1482.5 L1954.0,1482.5 L1955.0,1482.5 L1956.0,1482.5 L1957.0,1482.5 L1958.0,1482.5 L1959.0,1482.5 L1960.0,1482.5 L1961.0,1482.5 L1962.0,1482.5 L1963.0,1482.5 L1964.0,1482.5 L1965.0,1482.5 L1966.0,1482.5 L1967.0,1482.5 L1968.0,1482.5 L1969.0,1482.5 L1970.0,1482.5 L1971.0,1482.5 L1972.0,1482.5 L1973.0,1482.5 L1974.0,1482.5 L1975.0,1482.5 L1976.0,1482.5 L1977.0,1482.5 L1978.0,1482.6 L1979.0,1482.6 L1980.0,1482.6 L1981.0,1482.6 L1982.0,1482.6 L1983.0,1482.6 L1984.0,1482.6 L1985.0,1482.6 L1986.0,1482.6 L1987.0,1482.6 L1988.0,1482.6 L1989.0,1482.6 L1990.0,1482.6 L1991.0,1482.6 L1992.0,1482.6 L1993.0,1482.6 L1994.0,1482.6 L1995.0,1482.6 L1996.0,1482.6 L1997.0,1482.6 L1998.0,1482.6 L1999.0,1482.6 L2000.0,1482.6 L2001.0,1482.6 L2002.0,1482.6 L2003.0,1482.6 L2004.0,1482.6 L2005.0,1482.6 L2006.0,1482.6 L2007.0,1482.6 L2008.0,1482.6 L2009.0,1482.6 L2010.0,1482.6 L2011.0,1482.6 L2012.0,1482.6 L2013.0,1482.6 L2014.0,1482.6 L2015.0,1482.6 L2016.0,1482.7 L2017.0,1482.7 L2018.0,1482.7 L2019.0,1482.7 L2020.0,1482.7 L2021.0,1482.7 L2022.0,1482.7 L2023.0,1482.7 L2024.0,1482.7 L2025.0,1482.7 L2026.0,1482.7 L2027.0,1482.7 L2028.0,1482.7 L2029.0,1482.7 L2030.0,1482.7 L2031.0,1482.7 L2032.0,1482.7 L2033.0,1482.7 L2034.0,1482.7 L2035.0,1482.7 L2036.0,1482.7 L2037.0,1482.7 L2038.0,1482.7 L2039.0,1482.7 L2040.0,1482.7 L2041.0,1482.7 L2042.0,1482.7 L2043.0,1482.7 L2044.0,1482.7 L2045.0,1482.7 L2046.0,1482.7 L2047.0,1482.7 L2048.0,1482.7 L2049.0,1482.7 L2050.0,1482.7 L2051.0,1482.7 L2052.0,1482.7 L2053.0,1482.7 L2054.0,1482.7 L2055.0,1482.7 L2056.0,1482.7 L2057.0,1482.7 L2058.0,1482.7 L2059.0,1482.7 L2060.0,1482.7 L2061.0,1482.8 L2062.0,1482.8 L2063.0,1482.8 L2064.0,1482.8 L2065.0,1482.8 L2066.0,1482.8 L2067.0,1482.8 L2068.0,1482.8 L2069.0,1482.8 L2070.0,1482.8 L2071.0,1482.8 L2072.0,1482.8 L2073.0,1482.8 L2074.0,1482.8 L2075.0,1482.8 L2076.0,1482.8 L2077.0,1482.8 L2078.0,1482.8 L2079.0,1482.8 L2080.0,1482.8 L2081.0,1482.8 L2082.0,1482.8 L2083.0,1482.8 L2084.0,1482.8 L2085.0,1482.8 L2086.0,1482.8 L2087.0,1482.8 L2088.0,1482.8 L2089.0,1482.8 L2090.0,1482.8 L2091.0,1482.8 L2092.0,1482.8 L2093.0,1482.8 L2094.0,1482.8 L2095.0,1482.8 L2096.0,1482.8 L2097.0,1482.8 L2098.0,1482.8 L2099.0,1482.8 L2100.0,1482.8 L2101.0,1482.8 L2102.0,1482.8 L2103.0,1482.8 L2104.0,1482.8 L2105.0,1482.8 L2106.0,1482.8 L2107.0,1482.8 L2108.0,1482.8" fill="none" stroke="#b177de" stroke-width="9" stroke-linejoin="round" />
<path d="M236.0,1483.3 L237.0,1483.3 L238.0,1483.3 L239.0,1483.3 L240.0,1483.3 L241.0,1483.3 L242.0,1483.3 L243.0,1483.3 L244.0,1483.3 L245.0,1483.3 L246.0,1483.3 L247.0,1483.3 L248.0,1483.3 L249.0,1483.3 L250.0,1483.3 L251.0,1483.3 L252.0,1483.3 L253.0,1483.3 L254.0,1483.3 L255.0,1483.3 L256.0,1483.3 L257.0,1483.3 L258.0,1483.3 L259.0,1483.3 L260.0,1483.3 L261.0,1483.3 L262.0,1483.3 L263.0,1483.3 L264.0,1483.3 L265.0,1483.3 L266.0,1483.3 L267.0,1483.3 L268.0,1483.3 L269.0,1483.3 L270.0,1483.3 L271.0,1483.3 L272.0,1483.3 L273.0,1483.3 L274.0,1483.3 L275.0,1483.3 L276.0,1483.3 L277.0,1483.3 L278.0,1483.3 L279.0,1483.3 L280.0,1483.3 L281.0,1483.3 L282.0,1483.3 L283.0,1483.3 L284.0,1483.3 L285.0,1483.3 L286.0,1483.3 L287.0,1483.3 L288.0,1483.3 L289.0,1483.3 L290.0,1483.3 L291.0,1483.3 L292.0,1483.3 L293.0,1483.3 L294.0,1483.3 L295.0,1483.3 L296.0,1483.3 L297.0,1483.3 L298.0,1483.3 L299.0,1483.3 L300.0,1483.3 L301.0,1483.3 L302.0,1483.3 L303.0,1483.3 L304.0,1483.3 L305.0,1483.3 L306.0,1483.3 L307.0,1483.3 L308.0,1483.3 L309.0,1483.3 L310.0,1483.3 L311.0,1483.3 L312.0,1483.3 L313.0,1483.3 L314.0,1483.3 L315.0,1483.3 L316.0,1483.3 L317.0,1483.3 L318.0,1483.3 L319.0,1483.3 L320.0,1483.3 L321.0,1483.3 L322.0,1483.3 L323.0,1483.3 L324.0,1483.3 L325.0,1483.3 L326.0,1483.3 L327.0,1483.3 L328.0,1483.3 L329.0,1483.2 L330.0,1483.2 L331.0,1483.2 L332.0,1483.2 L333.0,1483.2 L334.0,1483.2 L335.0,1483.2 L336.0,1483.2 L337.0,1483.2 L338.0,1483.2 L339.0,1483.2 L340.0,1483.2 L341.0,1483.2 L342.0,1483.2 L343.0,1483.2 L344.0,1483.2 L345.0,1483.2 L346.0,1483.2 L347.0,1483.2 L348.0,1483.2 L349.0,1483.2 L350.0,1483.2 L351.0,1483.2 L352.0,1483.2 L353.0,1483.2 L354.0,1483.2 L355.0,1483.2 L356.0,1483.2 L357.0,1483.2 L358.0,1483.2 L359.0,1483.2 L360.0,1483.2 L361.0,1483.2 L362.0,1483.2 L363.0,1483.2 L364.0,1483.2 L365.0,1483.2 L366.0,1483.2 L367.0,1483.2 L368.0,1483.2 L369.0,1483.2 L370.0,1483.2 L371.0,1483.2 L372.0,1483.2 L373.0,1483.2 L374.0,1483.2 L375.0,1483.2 L376.0,1483.2 L377.0,1483.2 L378.0,1483.2 L379.0,1483.2 L380.0,1483.2 L381.0,1483.2 L382.0,1483.2 L383.0,1483.2 L384.0,1483.2 L385.0,1483.2 L386.0,1483.2 L387.0,1483.2 L388.0,1483.2 L389.0,1483.2 L390.0,1483.2 L391.0,1483.2 L392.0,1483.2 L393.0,1483.2 L394.0,1483.2 L395.0,1483.2 L396.0,1483.2 L397.0,1483.2 L398.0,1483.2 L399.0,1483.2 L400.0,1483.2 L401.0,1483.2 L402.0,1483.2 L403.0,1483.2 L404.0,1483.2 L405.0,1483.2 L406.0,1483.2 L407.0,1483.2 L408.0,1483.2 L409.0,1483.2 L410.0,1483.2 L411.0,1483.2 L412.0,1483.2 L413.0,1483.2 L414.0,1483.2 L415.0,1483.2 L416.0,1483.2 L417.0,1483.2 L418.0,1483.2 L419.0,1483.2 L420.0,1483.2 L421.0,1483.2 L422.0,1483.2 L423.0,1483.2 L424.0,1483.2 L425.0,1483.2 L426.0,1483.2 L427.0,1483.2 L428.0,1483.2 L429.0,1483.2 L430.0,1483.2 L431.0,1483.2 L432.0,1483.2 L433.0,1483.2 L434.0,1483.2 L435.0,1483.2 L436.0,1483.2 L437.0,1483.2 L438.0,1483.2 L439.0,1483.2 L440.0,1483.2 L441.0,1483.2 L442.0,1483.2 L443.0,1483.2 L444.0,1483.2 L445.0,1483.2 L446.0,1483.2 L447.0,1483.2 L448.0,1483.2 L449.0,1483.2 L450.0,1483.2 L451.0,1483.2 L452.0,1483.2 L453.0,1483.2 L454.0,1483.1 L455.0,1483.1 L456.0,1483.1 L457.0,1483.1 L458.0,1483.1 L459.0,1483.1 L460.0,1483.1 L461.0,1483.1 L462.0,1483.1 L463.0,1483.1 L464.0,1483.1 L465.0,1483.1 L466.0,1483.1 L467.0,1483.1 L468.0,1483.1 L469.0,1483.1 L470.0,1483.1 L471.0,1483.1 L472.0,1483.1 L473.0,1483.1 L474.0,1483.1 L475.0,1483.1 L476.0,1483.1 L477.0,1483.1 L478.0,1483.1 L479.0,1483.1 L480.0,1483.1 L481.0,1483.1 L482.0,1483.1 L483.0,1483.1 L484.0,1483.1 L485.0,1483.1 L486.0,1483.1 L487.0,1483.1 L488.0,1483.1 L489.0,1483.1 L490.0,1483.1 L491.0,1483.1 L492.0,1483.1 L493.0,1483.1 L494.0,1483.1 L495.0,1483.1 L496.0,1483.1 L497.0,1483.1 L498.0,1483.1 L499.0,1483.1 L500.0,1483.1 L501.0,1483.1 L502.0,1483.1 L503.0,1483.1 L504.0,1483.1 L505.0,1483.1 L506.0,1483.1 L507.0,1483.1 L508.0,1483.1 L509.0,1483.1 L510.0,1483.1 L511.0,1483.1 L512.0,1483.1 L513.0,1483.1 L514.0,1483.1 L515.0,1483.1 L516.0,1483.1 L517.0,1483.1 L518.0,1483.1 L519.0,1483.1 L520.0,1483.1 L521.0,1483.1 L522.0,1483.1 L523.0,1483.1 L524.0,1483.1 L525.0,1483.1 L526.0,1483.1 L527.0,1483.1 L528.0,1483.1 L529.0,1483.1 L530.0,1483.1 L531.0,1483.1 L532.0,1483.1 L533.0,1483.1 L534.0,1483.1 L535.0,1483.1 L536.0,1483.0 L537.0,1483.0 L538.0,1483.0 L539.0,1483.0 L540.0,1483.0 L541.0,1483.0 L542.0,1483.0 L543.0,1483.0 L544.0,1483.0 L545.0,1483.0 L546.0,1483.0 L547.0,1483.0 L548.0,1483.0 L549.0,1483.0 L550.0,1483.0 L551.0,1483.0 L552.0,1483.0 L553.0,1483.0 L554.0,1483.0 L555.0,1483.0 L556.0,1483.0 L557.0,1483.0 L558.0,1483.0 L559.0,1483.0 L560.0,1483.0 L561.0,1483.0 L562.0,1483.0 L563.0,1483.0 L564.0,1483.0 L565.0,1483.0 L566.0,1483.0 L567.0,1483.0 L568.0,1483.0 L569.0,1483.0 L570.0,1483.0 L571.0,1483.0 L572.0,1483.0 L573.0,1483.0 L574.0,1483.0 L575.0,1483.0 L576.0,1483.0 L577.0,1483.0 L578.0,1483.0 L579.0,1483.0 L580.0,1483.0 L581.0,1483.0 L582.0,1483.0 L583.0,1483.0 L584.0,1483.0 L585.0,1483.0 L586.0,1483.0 L587.0,1483.0 L588.0,1483.0 L589.0,1483.0 L590.0,1483.0 L591.0,1483.0 L592.0,1483.0 L593.0,1483.0 L594.0,1482.9 L595.0,1482.9 L596.0,1482.9 L597.0,1482.9 L598.0,1482.9 L599.0,1482.9 L600.0,1482.9 L601.0,1482.9 L602.0,1482.9 L603.0,1482.9 L604.0,1482.9 L605.0,1482.9 L606.0,1482.9 L607.0,1482.9 L608.0,1482.9 L609.0,1482.9 L610.0,1482.9 L611.0,1482.9 L612.0,1482.9 L613.0,1482.9 L614.0,1482.9 L615.0,1482.9 L616.0,1482.9 L617.0,1482.9 L618.0,1482.9 L619.0,1482.9 L620.0,1482.9 L621.0,1482.9 L622.0,1482.9 L623.0,1482.9 L624.0,1482.9 L625.0,1482.9 L626.0,1482.9 L627.0,1482.9 L628.0,1482.9 L629.0,1482.9 L630.0,1482.9 L631.0,1482.9 L632.0,1482.9 L633.0,1482.9 L634.0,1482.9 L635.0,1482.9 L636.0,1482.9 L637.0,1482.9 L638.0,1482.8 L639.0,1482.8 L640.0,1482.8 L641.0,1482.8 L642.0,1482.8 L643.0,1482.8 L644.0,1482.8 L645.0,1482.8 L646.0,1482.8 L647.0,1482.8 L648.0,1482.8 L649.0,1482.8 L650.0,1482.8 L651.0,1482.8 L652.0,1482.8 L653.0,1482.8 L654.0,1482.8 L655.0,1482.8 L656.0,1482.8 L657.0,1482.8 L658.0,1482.8 L659.0,1482.8 L660.0,1482.8 L661.0,1482.8 L662.0,1482.8 L663.0,1482.8 L664.0,1482.8 L665.0,1482.8 L666.0,1482.8 L667.0,1482.8 L668.0,1482.8 L669.0,1482.8 L670.0,1482.8 L671.0,1482.8 L672.0,1482.8 L673.0,1482.7 L674.0,1482.7 L675.0,1482.7 L676.0,1482.7 L677.0,1482.7 L678.0,1482.7 L679.0,1482.7 L680.0,1482.7 L681.0,1482.7 L682.0,1482.7 L683.0,1482.7 L684.0,1482.7 L685.0,1482.7 L686.0,1482.7 L687.0,1482.7 L688.0,1482.7 L689.0,1482.7 L690.0,1482.7 L691.0,1482.7 L692.0,1482.7 L693.0,1482.7 L694.0,1482.7 L695.0,1482.7 L696.0,1482.7 L697.0,1482.7 L698.0,1482.7 L699.0,1482.7 L700.0,1482.7 L701.0,1482.7 L702.0,1482.6 L703.0,1482.6 L704.0,1482.6 L705.0,1482.6 L706.0,1482.6 L707.0,1482.6 L708.0,1482.6 L709.0,1482.6 L710.0,1482.6 L711.0,1482.6 L712.0,1482.6 L713.0,1482.6 L714.0,1482.6 L715.0,1482.6 L716.0,1482.6 L717.0,1482.6 L718.0,1482.6 L719.0,1482.6 L720.0,1482.6 L721.0,1482.6 L722.0,1482.6 L723.0,1482.6 L724.0,1482.6 L725.0,1482.6 L726.0,1482.5 L727.0,1482.5 L728.0,1482.5 L729.0,1482.5 L730.0,1482.5 L731.0,1482.5 L732.0,1482.5 L733.0,1482.5 L734.0,1482.5 L735.0,1482.5 L736.0,1482.5 L737.0,1482.5 L738.0,1482.5 L739.0,1482.5 L740.0,1482.5 L741.0,1482.5 L742.0,1482.5 L743.0,1482.5 L744.0,1482.5 L745.0,1482.5 L746.0,1482.4 L747.0,1482.4 L748.0,1482.4 L749.0,1482.4 L750.0,1482.4 L751.0,1482.4 L752.0,1482.4 L753.0,1482.4 L754.0,1482.4 L755.0,1482.4 L756.0,1482.4 L757.0,1482.4 L758.0,1482.4 L759.0,1482.4 L760.0,1482.4 L761.0,1482.4 L762.0,1482.4 L763.0,1482.4 L764.0,1482.3 L765.0,1482.3 L766.0,1482.3 L767.0,1482.3 L768.0,1482.3 L769.0,1482.3 L770.0,1482.3 L771.0,1482.3 L772.0,1482.3 L773.0,1482.3 L774.0,1482.3 L775.0,1482.3 L776.0,1482.3 L777.0,1482.3 L778.0,1482.3 L779.0,1482.3 L780.0,1482.2 L781.0,1482.2 L782.0,1482.2 L783.0,1482.2 L784.0,1482.2 L785.0,1482.2 L786.0,1482.2 L787.0,1482.2 L788.0,1482.2 L789.0,1482.2 L790.0,1482.2 L791.0,1482.2 L792.0,1482.2 L793.0,1482.2 L794.0,1482.1 L795.0,1482.1 L796.0,1482.1 L797.0,1482.1 L798.0,1482.1 L799.0,1482.1 L800.0,1482.1 L801.0,1482.1 L802.0,1482.1 L803.0,1482.1 L804.0,1482.1 L805.0,1482.1 L806.0,1482.0 L807.0,1482.0 L808.0,1482.0 L809.0,1482.0 L810.0,1482.0 L811.0,1482.0 L812.0,1482.0 L813.0,1482.0 L814.0,1482.0 L815.0,1482.0 L816.0,1482.0 L817.0,1482.0 L818.0,1481.9 L819.0,1481.9 L820.0,1481.9 L821.0,1481.9 L822.0,1481.9 L823.0,1481.9 L824.0,1481.9 L825.0,1481.9 L826.0,1481.9 L827.0,1481.9 L828.0,1481.8 L829.0,1481.8 L830.0,1481.8 L831.0,1481.8 L832.0,1481.8 L833.0,1481.8 L834.0,1481.8 L835.0,1481.8 L836.0,1481.8 L837.0,1481.7 L838.0,1481.7 L839.0,1481.7 L840.0,1481.7 L841.0,1481.7 L842.0,1481.7 L843.0,1481.7 L844.0,1481.7 L845.0,1481.7 L846.0,1481.6 L847.0,1481.6 L848.0,1481.6 L849.0,1481.6 L850.0,1481.6 L851.0,1481.6 L852.0,1481.6 L853.0,1481.6 L854.0,1481.5 L855.0,1481.5 L856.0,1481.5 L857.0,1481.5 L858.0,1481.5 L859.0,1481.5 L860.0,1481.5 L861.0,1481.4 L862.0,1481.4 L863.0,1481.4 L864.0,1481.4 L865.0,1481.4 L866.0,1481.4 L867.0,1481.4 L868.0,1481.3 L869.0,1481.3 L870.0,1481.3 L871.0,1481.3 L872.0,1481.3 L873.0,1481.3 L874.0,1481.2 L875.0,1481.2 L876.0,1481.2 L877.0,1481.2 L878.0,1481.2 L879.0,1481.1 L880.0,1481.1 L881.0,1481.1 L882.0,1481.1 L883.0,1481.1 L884.0,1481.1 L885.0,1481.0 L886.0,1481.0 L887.0,1481.0 L888.0,1481.0 L889.0,1480.9 L890.0,1480.9 L891.0,1480.9 L892.0,1480.9 L893.0,1480.9 L894.0,1480.8 L895.0,1480.8 L896.0,1480.8 L897.0,1480.8 L898.0,1480.7 L899.0,1480.7 L900.0,1480.7 L901.0,1480.7 L902.0,1480.6 L903.0,1480.6 L904.0,1480.6 L905.0,1480.5 L906.0,1480.5 L907.0,1480.5 L908.0,1480.5 L909.0,1480.4 L910.0,1480.4 L911.0,1480.4 L912.0,1480.3 L913.0,1480.3 L914.0,1480.3 L915.0,1480.2 L916.0,1480.2 L917.0,1480.1 L918.0,1480.1 L919.0,1480.1 L920.0,1480.0 L921.0,1480.0 L922.0,1479.9 L923.0,1479.9 L924.0,1479.8 L925.0,1479.8 L926.0,1479.8 L927.0,1479.7 L928.0,1479.7 L929.0,1479.6 L930.0,1479.6 L931.0,1479.5 L932.0,1479.4 L933.0,1479.4 L934.0,1479.3 L935.0,1479.3 L936.0,1479.2 L937.0,1479.1 L938.0,1479.1 L939.0,1479.0 L940.0,1478.9 L941.0,1478.9 L942.0,1478.8 L943.0,1478.7 L944.0,1478.7 L945.0,1478.6 L946.0,1478.5 L947.0,1478.4 L948.0,1478.3 L949.0,1478.2 L950.0,1478.2 L951.0,1478.1 L952.0,1478.0 L953.0,1477.9 L954.0,1477.8 L955.0,1477.7 L956.0,1477.6 L957.0,1477.4 L958.0,1477.3 L959.0,1477.2 L960.0,1477.1 L961.0,1477.0 L962.0,1476.9 L963.0,1476.7 L964.0,1476.6 L965.0,1476.5 L966.0,1476.3 L967.0,1476.2 L968.0,1476.0 L969.0,1475.9 L970.0,1475.7 L971.0,1475.6 L972.0,1475.4 L973.0,1475.2 L974.0,1475.1 L975.0,1474.9 L976.0,1474.7 L977.0,1474.5 L978.0,1474.3 L979.0,1474.1 L980.0,1473.9 L981.0,1473.7 L982.0,1473.5 L983.0,1473.3 L984.0,1473.1 L985.0,1472.8 L986.0,1472.6 L987.0,1472.4 L988.0,1472.1 L989.0,1471.9 L990.0,1471.6 L991.0,1471.3 L992.0,1471.1 L993.0,1470.8 L994.0,1470.5 L995.0,1470.2 L996.0,1469.9 L997.0,1469.6 L998.0,1469.3 L999.0,1469.0 L1000.0,1468.6 L1001.0,1468.3 L1002.0,1468.0 L1003.0,1467.6 L1004.0,1467.3 L1005.0,1466.9 L1006.0,1466.5 L1007.0,1466.1 L1008.0,1465.7 L1009.0,1465.3 L1010.0,1464.9 L1011.0,1464.5 L1012.0,1464.1 L1013.0,1463.7 L1014.0,1463.2 L1015.0,1462.8 L1016.0,1462.3 L1017.0,1461.9 L1018.0,1461.4 L1019.0,1460.9 L1020.0,1460.4 L1021.0,1459.9 L1022.0,1459.4 L1023.0,1458.9 L1024.0,1458.4 L1025.0,1457.8 L1026.0,1457.3 L1027.0,1456.8 L1028.0,1456.2 L1029.0,1455.6 L1030.0,1455.0 L1031.0,1454.5 L1032.0,1453.9 L1033.0,1453.3 L1034.0,1452.6 L1035.0,1452.0 L1036.0,1451.4 L1037.0,1450.8 L1038.0,1450.1 L1039.0,1449.5 L1040.0,1448.8 L1041.0,1448.1 L1042.0,1447.4 L1043.0,1446.8 L1044.0,1446.1 L1045.0,1445.4 L1046.0,1444.6 L1047.0,1443.9 L1048.0,1443.2 L1049.0,1442.5 L1050.0,1441.7 L1051.0,1441.0 L1052.0,1440.2 L1053.0,1439.5 L1054.0,1438.7 L1055.0,1437.9 L1056.0,1437.1 L1057.0,1436.3 L1058.0,1435.6 L1059.0,1434.8 L1060.0,1434.0 L1061.0,1433.2 L1062.0,1432.3 L1063.0,1431.5 L1064.0,1430.7 L1065.0,1429.9 L1066.0,1429.1 L1067.0,1428.2 L1068.0,1427.4 L1069.0,1426.6 L1070.0,1425.7 L1071.0,1424.9 L1072.0,1424.1 L1073.0,1423.2 L1074.0,1422.4 L1075.0,1421.5 L1076.0,1420.7 L1077.0,1419.9 L1078.0,1419.0 L1079.0,1418.2 L1080.0,1417.3 L1081.0,1416.5 L1082.0,1415.7 L1083.0,1414.9 L1084.0,1414.0 L1085.0,1413.2 L1086.0,1412.4 L1087.0,1411.6 L1088.0,1410.8 L1089.0,1410.0 L1090.0,1409.2 L1091.0,1408.4 L1092.0,1407.6 L1093.0,1406.9 L1094.0,1406.1 L1095.0,1405.4 L1096.0,1404.6 L1097.0,1403.9 L1098.0,1403.2 L1099.0,1402.5 L1100.0,1401.8 L1101.0,1401.1 L1102.0,1400.4 L1103.0,1399.8 L1104.0,1399.1 L1105.0,1398.5 L1106.0,1397.9 L1107.0,1397.3 L1108.0,1396.7 L1109.0,1396.2 L1110.0,1395.6 L1111.0,1395.1 L1112.0,1394.6 L1113.0,1394.1 L1114.0,1393.7 L1115.0,1393.2 L1116.0,1392.8 L1117.0,1392.4 L1118.0,1392.0 L1119.0,1391.7 L1120.0,1391.3 L1121.0,1391.0 L1122.0,1390.7 L1123.0,1390.5 L1124.0,1390.2 L1125.0,1390.0 L1126.0,1389.8 L1127.0,1389.7 L1128.0,1389.5 L1129.0,1389.4 L1130.0,1389.3 L1131.0,1389.3 L1132.0,1389.2 L1133.0,1389.2 L1134.0,1389.2 L1135.0,1389.3 L1136.0,1389.3 L1137.0,1389.5 L1138.0,1389.6 L1139.0,1389.8 L1140.0,1390.0 L1141.0,1390.2 L1142.0,1390.5 L1143.0,1390.7 L1144.0,1391.1 L1145.0,1391.4 L1146.0,1391.8 L1147.0,1392.2 L1148.0,1392.6 L1149.0,1393.1 L1150.0,1393.6 L1151.0,1394.1 L1152.0,1394.6 L1153.0,1395.2 L1154.0,1395.7 L1155.0,1396.3 L1156.0,1397.0 L1157.0,1397.6 L1158.0,1398.3 L1159.0,1398.9 L1160.0,1399.6 L1161.0,1400.3 L1162.0,1401.1 L1163.0,1401.8 L1164.0,1402.6 L1165.0,1403.4 L1166.0,1404.1 L1167.0,1404.9 L1168.0,1405.7 L1169.0,1406.6 L1170.0,1407.4 L1171.0,1408.2 L1172.0,1409.1 L1173.0,1409.9 L1174.0,1410.8 L1175.0,1411.7 L1176.0,1412.6 L1177.0,1413.4 L1178.0,1414.3 L1179.0,1415.2 L1180.0,1416.1 L1181.0,1417.0 L1182.0,1417.9 L1183.0,1418.8 L1184.0,1419.7 L1185.0,1420.6 L1186.0,1421.5 L1187.0,1422.4 L1188.0,1423.3 L1189.0,1424.2 L1190.0,1425.1 L1191.0,1426.0 L1192.0,1426.9 L1193.0,1427.8 L1194.0,1428.6 L1195.0,1429.5 L1196.0,1430.4 L1197.0,1431.3 L1198.0,1432.1 L1199.0,1433.0 L1200.0,1433.8 L1201.0,1434.7 L1202.0,1435.5 L1203.0,1436.3 L1204.0,1437.2 L1205.0,1438.0 L1206.0,1438.8 L1207.0,1439.6 L1208.0,1440.4 L1209.0,1441.2 L1210.0,1442.0 L1211.0,1442.7 L1212.0,1443.5 L1213.0,1444.3 L1214.0,1445.0 L1215.0,1445.7 L1216.0,1446.5 L1217.0,1447.2 L1218.0,1447.9 L1219.0,1448.6 L1220.0,1449.3 L1221.0,1450.0 L1222.0,1450.6 L1223.0,1451.3 L1224.0,1451.9 L1225.0,1452.6 L1226.0,1453.2 L1227.0,1453.8 L1228.0,1454.4 L1229.0,1455.0 L1230.0,1455.6 L1231.0,1456.2 L1232.0,1456.8 L1233.0,1457.3 L1234.0,1457.9 L1235.0,1458.4 L1236.0,1459.0 L1237.0,1459.5 L1238.0,1460.0 L1239.0,1460.5 L1240.0,1461.0 L1241.0,1461.5 L1242.0,1461.9 L1243.0,1462.4 L1244.0,1462.9 L1245.0,1463.3 L1246.0,1463.7 L1247.0,1464.2 L1248.0,1464.6 L1249.0,1465.0 L1250.0,1465.4 L1251.0,1465.8 L1252.0,1466.2 L1253.0,1466.5 L1254.0,1466.9 L1255.0,1467.3 L1256.0,1467.6 L1257.0,1468.0 L1258.0,1468.3 L1259.0,1468.6 L1260.0,1468.9 L1261.0,1469.2 L1262.0,1469.5 L1263.0,1469.8 L1264.0,1470.1 L1265.0,1470.4 L1266.0,1470.7 L1267.0,1471.0 L1268.0,1471.2 L1269.0,1471.5 L1270.0,1471.7 L1271.0,1472.0 L1272.0,1472.2 L1273.0,1472.4 L1274.0,1472.6 L1275.0,1472.9 L1276.0,1473.1 L1277.0,1473.3 L1278.0,1473.5 L1279.0,1473.7 L1280.0,1473.9 L1281.0,1474.1 L1282.0,1474.2 L1283.0,1474.4 L1284.0,1474.6 L1285.0,1474.7 L1286.0,1474.9 L1287.0,1475.1 L1288.0,1475.2 L1289.0,1475.4 L1290.0,1475.5 L1291.0,1475.7 L1292.0,1475.8 L1293.0,1475.9 L1294.0,1476.1 L1295.0,1476.2 L1296.0,1476.3 L1297.0,1476.4 L1298.0,1476.5 L1299.0,1476.7 L1300.0,1476.8 L1301.0,1476.9 L1302.0,1477.0 L1303.0,1477.1 L1304.0,1477.2 L1305.0,1477.3 L1306.0,1477.4 L1307.0,1477.5 L1308.0,1477.6 L1309.0,1477.6 L1310.0,1477.7 L1311.0,1477.8 L1312.0,1477.9 L1313.0,1478.0 L1314.0,1478.0 L1315.0,1478.1 L1316.0,1478.2 L1317.0,1478.3 L1318.0,1478.3 L1319.0,1478.4 L1320.0,1478.5 L1321.0,1478.5 L1322.0,1478.6 L1323.0,1478.6 L1324.0,1478.7 L1325.0,1478.8 L1326.0,1478.8 L1327.0,1478.9 L1328.0,1478.9 L1329.0,1479.0 L1330.0,1479.0 L1331.0,1479.1 L1332.0,1479.1 L1333.0,1479.2 L1334.0,1479.2 L1335.0,1479.3 L1336.0,1479.3 L1337.0,1479.4 L1338.0,1479.4 L1339.0,1479.5 L1340.0,1479.5 L1341.0,1479.5 L1342.0,1479.6 L1343.0,1479.6 L1344.0,1479.7 L1345.0,1479.7 L1346.0,1479.7 L1347.0,1479.8 L1348.0,1479.8 L1349.0,1479.8 L1350.0,1479.9 L1351.0,1479.9 L1352.0,1479.9 L1353.0,1480.0 L1354.0,1480.0 L1355.0,1480.0 L1356.0,1480.1 L1357.0,1480.1 L1358.0,1480.1 L1359.0,1480.2 L1360.0,1480.2 L1361.0,1480.2 L1362.0,1480.2 L1363.0,1480.3 L1364.0,1480.3 L1365.0,1480.3 L1366.0,1480.4 L1367.0,1480.4 L1368.0,1480.4 L1369.0,1480.4 L1370.0,1480.5 L1371.0,1480.5 L1372.0,1480.5 L1373.0,1480.5 L1374.0,1480.6 L1375.0,1480.6 L1376.0,1480.6 L1377.0,1480.6 L1378.0,1480.6 L1379.0,1480.7 L1380.0,1480.7 L1381.0,1480.7 L1382.0,1480.7 L1383.0,1480.7 L1384.0,1480.8 L1385.0,1480.8 L1386.0,1480.8 L1387.0,1480.8 L1388.0,1480.9 L1389.0,1480.9 L1390.0,1480.9 L1391.0,1480.9 L1392.0,1480.9 L1393.0,1480.9 L1394.0,1481.0 L1395.0,1481.0 L1396.0,1481.0 L1397.0,1481.0 L1398.0,1481.0 L1399.0,1481.1 L1400.0,1481.1 L1401.0,1481.1 L1402.0,1481.1 L1403.0,1481.1 L1404.0,1481.1 L1405.0,1481.2 L1406.0,1481.2 L1407.0,1481.2 L1408.0,1481.2 L1409.0,1481.2 L1410.0,1481.2 L1411.0,1481.3 L1412.0,1481.3 L1413.0,1481.3 L1414.0,1481.3 L1415.0,1481.3 L1416.0,1481.3 L1417.0,1481.3 L1418.0,1481.4 L1419.0,1481.4 L1420.0,1481.4 L1421.0,1481.4 L1422.0,1481.4 L1423.0,1481.4 L1424.0,1481.4 L1425.0,1481.4 L1426.0,1481.5 L1427.0,1481.5 L1428.0,1481.5 L1429.0,1481.5 L1430.0,1481.5 L1431.0,1481.5 L1432.0,1481.5 L1433.0,1481.6 L1434.0,1481.6 L1435.0,1481.6 L1436.0,1481.6 L1437.0,1481.6 L1438.0,1481.6 L1439.0,1481.6 L1440.0,1481.6 L1441.0,1481.6 L1442.0,1481.7 L1443.0,1481.7 L1444.0,1481.7 L1445.0,1481.7 L1446.0,1481.7 L1447.0,1481.7 L1448.0,1481.7 L1449.0,1481.7 L1450.0,1481.7 L1451.0,1481.8 L1452.0,1481.8 L1453.0,1481.8 L1454.0,1481.8 L1455.0,1481.8 L1456.0,1481.8 L1457.0,1481.8 L1458.0,1481.8 L1459.0,1481.8 L1460.0,1481.8 L1461.0,1481.9 L1462.0,1481.9 L1463.0,1481.9 L1464.0,1481.9 L1465.0,1481.9 L1466.0,1481.9 L1467.0,1481.9 L1468.0,1481.9 L1469.0,1481.9 L1470.0,1481.9 L1471.0,1481.9 L1472.0,1482.0 L1473.0,1482.0 L1474.0,1482.0 L1475.0,1482.0 L1476.0,1482.0 L1477.0,1482.0 L1478.0,1482.0 L1479.0,1482.0 L1480.0,1482.0 L1481.0,1482.0 L1482.0,1482.0 L1483.0,1482.0 L1484.0,1482.1 L1485.0,1482.1 L1486.0,1482.1 L1487.0,1482.1 L1488.0,1482.1 L1489.0,1482.1 L1490.0,1482.1 L1491.0,1482.1 L1492.0,1482.1 L1493.0,1482.1 L1494.0,1482.1 L1495.0,1482.1 L1496.0,1482.1 L1497.0,1482.2 L1498.0,1482.2 L1499.0,1482.2 L1500.0,1482.2 L1501.0,1482.2 L1502.0,1482.2 L1503.0,1482.2 L1504.0,1482.2 L1505.0,1482.2 L1506.0,1482.2 L1507.0,1482.2 L1508.0,1482.2 L1509.0,1482.2 L1510.0,1482.2 L1511.0,1482.2 L1512.0,1482.3 L1513.0,1482.3 L1514.0,1482.3 L1515.0,1482.3 L1516.0,1482.3 L1517.0,1482.3 L1518.0,1482.3 L1519.0,1482.3 L1520.0,1482.3 L1521.0,1482.3 L1522.0,1482.3 L1523.0,1482.3 L1524.0,1482.3 L1525.0,1482.3 L1526.0,1482.3 L1527.0,1482.3 L1528.0,1482.4 L1529.0,1482.4 L1530.0,1482.4 L1531.0,1482.4 L1532.0,1482.4 L1533.0,1482.4 L1534.0,1482.4 L1535.0,1482.4 L1536.0,1482.4 L1537.0,1482.4 L1538.0,1482.4 L1539.0,1482.4 L1540.0,1482.4 L1541.0,1482.4 L1542.0,1482.4 L1543.0,1482.4 L1544.0,1482.4 L1545.0,1482.4 L1546.0,1482.4 L1547.0,1482.5 L1548.0,1482.5 L1549.0,1482.5 L1550.0,1482.5 L1551.0,1482.5 L1552.0,1482.5 L1553.0,1482.5 L1554.0,1482.5 L1555.0,1482.5 L1556.0,1482.5 L1557.0,1482.5 L1558.0,1482.5 L1559.0,1482.5 L1560.0,1482.5 L1561.0,1482.5 L1562.0,1482.5 L1563.0,1482.5 L1564.0,1482.5 L1565.0,1482.5 L1566.0,1482.5 L1567.0,1482.5 L1568.0,1482.5 L1569.0,1482.6 L1570.0,1482.6 L1571.0,1482.6 L1572.0,1482.6 L1573.0,1482.6 L1574.0,1482.6 L1575.0,1482.6 L1576.0,1482.6 L1577.0,1482.6 L1578.0,1482.6 L1579.0,1482.6 L1580.0,1482.6 L1581.0,1482.6 L1582.0,1482.6 L1583.0,1482.6 L1584.0,1482.6 L1585.0,1482.6 L1586.0,1482.6 L1587.0,1482.6 L1588.0,1482.6 L1589.0,1482.6 L1590.0,1482.6 L1591.0,1482.6 L1592.0,1482.6 L1593.0,1482.6 L1594.0,1482.6 L1595.0,1482.7 L1596.0,1482.7 L1597.0,1482.7 L1598.0,1482.7 L1599.0,1482.7 L1600.0,1482.7 L1601.0,1482.7 L1602.0,1482.7 L1603.0,1482.7 L1604.0,1482.7 L1605.0,1482.7 L1606.0,1482.7 L1607.0,1482.7 L1608.0,1482.7 L1609.0,1482.7 L1610.0,1482.7 L1611.0,1482.7 L1612.0,1482.7 L1613.0,1482.7 L1614.0,1482.7 L1615.0,1482.7 L1616.0,1482.7 L1617.0,1482.7 L1618.0,1482.7 L1619.0,1482.7 L1620.0,1482.7 L1621.0,1482.7 L1622.0,1482.7 L1623.0,1482.7 L1624.0,1482.7 L1625.0,1482.8 L1626.0,1482.8 L1627.0,1482.8 L1628.0,1482.8 L1629.0,1482.8 L1630.0,1482.8 L1631.0,1482.8 L1632.0,1482.8 L1633.0,1482.8 L1634.0,1482.8 L1635.0,1482.8 L1636.0,1482.8 L1637.0,1482.8 L1638.0,1482.8 L1639.0,1482.8 L1640.0,1482.8 L1641.0,1482.8 L1642.0,1482.8 L1643.0,1482.8 L1644.0,1482.8 L1645.0,1482.8 L1646.0,1482.8 L1647.0,1482.8 L1648.0,1482.8 L1649.0,1482.8 L1650.0,1482.8 L1651.0,1482.8 L1652.0,1482.8 L1653.0,1482.8 L1654.0,1482.8 L1655.0,1482.8 L1656.0,1482.8 L1657.0,1482.8 L1658.0,1482.8 L1659.0,1482.8 L1660.0,1482.8 L1661.0,1482.8 L1662.0,1482.9 L1663.0,1482.9 L1664.0,1482.9 L1665.0,1482.9 L1666.0,1482.9 L1667.0,1482.9 L1668.0,1482.9 L1669.0,1482.9 L1670.0,1482.9 L1671.0,1482.9 L1672.0,1482.9 L1673.0,1482.9 L1674.0,1482.9 L1675.0,1482.9 L1676.0,1482.9 L1677.0,1482.9 L1678.0,1482.9 L1679.0,1482.9 L1680.0,1482.9 L1681.0,1482.9 L1682.0,1482.9 L1683.0,1482.9 L1684.0,1482.9 L1685.0,1482.9 L1686.0,1482.9 L1687.0,1482.9 L1688.0,1482.9 L1689.0,1482.9 L1690.0,1482.9 L1691.0,1482.9 L1692.0,1482.9 L1693.0,1482.9 L1694.0,1482.9 L1695.0,1482.9 L1696.0,1482.9 L1697.0,1482.9 L1698.0,1482.9 L1699.0,1482.9 L1700.0,1482.9 L1701.0,1482.9 L1702.0,1482.9 L1703.0,1482.9 L1704.0,1482.9 L1705.0,1482.9 L1706.0,1482.9 L1707.0,1482.9 L1708.0,1482.9 L1709.0,1483.0 L1710.0,1483.0 L1711.0,1483.0 L1712.0,1483.0 L1713.0,1483.0 L1714.0,1483.0 L1715.0,1483.0 L1716.0,1483.0 L1717.0,1483.0 L1718.0,1483.0 L1719.0,1483.0 L1720.0,1483.0 L1721.0,1483.0 L1722.0,1483.0 L1723.0,1483.0 L1724.0,1483.0 L1725.0,1483.0 L1726.0,1483.0 L1727.0,1483.0 L1728.0,1483.0 L1729.0,1483.0 L1730.0,1483.0 L1731.0,1483.0 L1732.0,1483.0 L1733.0,1483.0 L1734.0,1483.0 L1735.0,1483.0 L1736.0,1483.0 L1737.0,1483.0 L1738.0,1483.0 L1739.0,1483.0 L1740.0,1483.0 L1741.0,1483.0 L1742.0,1483.0 L1743.0,1483.0 L1744.0,1483.0 L1745.0,1483.0 L1746.0,1483.0 L1747.0,1483.0 L1748.0,1483.0 L1749.0,1483.0 L1750.0,1483.0 L1751.0,1483.0 L1752.0,1483.0 L1753.0,1483.0 L1754.0,1483.0 L1755.0,1483.0 L1756.0,1483.0 L1757.0,1483.0 L1758.0,1483.0 L1759.0,1483.0 L1760.0,1483.0 L1761.0,1483.0 L1762.0,1483.0 L1763.0,1483.0 L1764.0,1483.0 L1765.0,1483.0 L1766.0,1483.0 L1767.0,1483.0 L1768.0,1483.0 L1769.0,1483.0 L1770.0,1483.0 L1771.0,1483.1 L1772.0,1483.1 L1773.0,1483.1 L1774.0,1483.1 L1775.0,1483.1 L1776.0,1483.1 L1777.0,1483.1 L1778.0,1483.1 L1779.0,1483.1 L1780.0,1483.1 L1781.0,1483.1 L1782.0,1483.1 L1783.0,1483.1 L1784.0,1483.1 L1785.0,1483.1 L1786.0,1483.1 L1787.0,1483.1 L1788.0,1483.1 L1789.0,1483.1 L1790.0,1483.1 L1791.0,1483.1 L1792.0,1483.1 L1793.0,1483.1 L1794.0,1483.1 L1795.0,1483.1 L1796.0,1483.1 L1797.0,1483.1 L1798.0,1483.1 L1799.0,1483.1 L1800.0,1483.1 L1801.0,1483.1 L1802.0,1483.1 L1803.0,1483.1 L1804.0,1483.1 L1805.0,1483.1 L1806.0,1483.1 L1807.0,1483.1 L1808.0,1483.1 L1809.0,1483.1 L1810.0,1483.1 L1811.0,1483.1 L1812.0,1483.1 L1813.0,1483.1 L1814.0,1483.1 L1815.0,1483.1 L1816.0,1483.1 L1817.0,1483.1 L1818.0,1483.1 L1819.0,1483.1 L1820.0,1483.1 L1821.0,1483.1 L1822.0,1483.1 L1823.0,1483.1 L1824.0,1483.1 L1825.0,1483.1 L1826.0,1483.1 L1827.0,1483.1 L1828.0,1483.1 L1829.0,1483.1 L1830.0,1483.1 L1831.0,1483.1 L1832.0,1483.1 L1833.0,1483.1 L1834.0,1483.1 L1835.0,1483.1 L1836.0,1483.1 L1837.0,1483.1 L1838.0,1483.1 L1839.0,1483.1 L1840.0,1483.1 L1841.0,1483.1 L1842.0,1483.1 L1843.0,1483.1 L1844.0,1483.1 L1845.0,1483.1 L1846.0,1483.1 L1847.0,1483.1 L1848.0,1483.1 L1849.0,1483.1 L1850.0,1483.1 L1851.0,1483.1 L1852.0,1483.1 L1853.0,1483.1 L1854.0,1483.1 L1855.0,1483.1 L1856.0,1483.1 L1857.0,1483.2 L1858.0,1483.2 L1859.0,1483.2 L1860.0,1483.2 L1861.0,1483.2 L1862.0,1483.2 L1863.0,1483.2 L1864.0,1483.2 L1865.0,1483.2 L1866.0,1483.2 L1867.0,1483.2 L1868.0,1483.2 L1869.0,1483.2 L1870.0,1483.2 L1871.0,1483.2 L1872.0,1483.2 L1873.0,1483.2 L1874.0,1483.2 L1875.0,1483.2 L1876.0,1483.2 L1877.0,1483.2 L1878.0,1483.2 L1879.0,1483.2 L1880.0,1483.2 L1881.0,1483.2 L1882.0,1483.2 L1883.0,1483.2 L1884.0,1483.2 L1885.0,1483.2 L1886.0,1483.2 L1887.0,1483.2 L1888.0,1483.2 L1889.0,1483.2 L1890.0,1483.2 L1891.0,1483.2 L1892.0,1483.2 L1893.0,1483.2 L1894.0,1483.2 L1895.0,1483.2 L1896.0,1483.2 L1897.0,1483.2 L1898.0,1483.2 L1899.0,1483.2 L1900.0,1483.2 L1901.0,1483.2 L1902.0,1483.2 L1903.0,1483.2 L1904.0,1483.2 L1905.0,1483.2 L1906.0,1483.2 L1907.0,1483.2 L1908.0,1483.2 L1909.0,1483.2 L1910.0,1483.2 L1911.0,1483.2 L1912.0,1483.2 L1913.0,1483.2 L1914.0,1483.2 L1915.0,1483.2 L1916.0,1483.2 L1917.0,1483.2 L1918.0,1483.2 L1919.0,1483.2 L1920.0,1483.2 L1921.0,1483.2 L1922.0,1483.2 L1923.0,1483.2 L1924.0,1483.2 L1925.0,1483.2 L1926.0,1483.2 L1927.0,1483.2 L1928.0,1483.2 L1929.0,1483.2 L1930.0,1483.2 L1931.0,1483.2 L1932.0,1483.2 L1933.0,1483.2 L1934.0,1483.2 L1935.0,1483.2 L1936.0,1483.2 L1937.0,1483.2 L1938.0,1483.2 L1939.0,1483.2 L1940.0,1483.2 L1941.0,1483.2 L1942.0,1483.2 L1943.0,1483.2 L1944.0,1483.2 L1945.0,1483.2 L1946.0,1483.2 L1947.0,1483.2 L1948.0,1483.2 L1949.0,1483.2 L1950.0,1483.2 L1951.0,1483.2 L1952.0,1483.2 L1953.0,1483.2 L1954.0,1483.2 L1955.0,1483.2 L1956.0,1483.2 L1957.0,1483.2 L1958.0,1483.2 L1959.0,1483.2 L1960.0,1483.2 L1961.0,1483.2 L1962.0,1483.2 L1963.0,1483.2 L1964.0,1483.2 L1965.0,1483.2 L1966.0,1483.2 L1967.0,1483.2 L1968.0,1483.2 L1969.0,1483.2 L1970.0,1483.2 L1971.0,1483.2 L1972.0,1483.2 L1973.0,1483.2 L1974.0,1483.2 L1975.0,1483.2 L1976.0,1483.2 L1977.0,1483.2 L1978.0,1483.2 L1979.0,1483.2 L1980.0,1483.2 L1981.0,1483.2 L1982.0,1483.2 L1983.0,1483.2 L1984.0,1483.2 L1985.0,1483.2 L1986.0,1483.2 L1987.0,1483.2 L1988.0,1483.2 L1989.0,1483.2 L1990.0,1483.3 L1991.0,1483.3 L1992.0,1483.3 L1993.0,1483.3 L1994.0,1483.3 L1995.0,1483.3 L1996.0,1483.3 L1997.0,1483.3 L1998.0,1483.3 L1999.0,1483.3 L2000.0,1483.3 L2001.0,1483.3 L2002.0,1483.3 L2003.0,1483.3 L2004.0,1483.3 L2005.0,1483.3 L2006.0,1483.3 L2007.0,1483.3 L2008.0,1483.3 L2009.0,1483.3 L2010.0,1483.3 L2011.0,1483.3 L2012.0,1483.3 L2013.0,1483.3 L2014.0,1483.3 L2015.0,1483.3 L2016.0,1483.3 L2017.0,1483.3 L2018.0,1483.3 L2019.0,1483.3 L2020.0,1483.3 L2021.0,1483.3 L2022.0,1483.3 L2023.0,1483.3 L2024.0,1483.3 L2025.0,1483.3 L2026.0,1483.3 L2027.0,1483.3 L2028.0,1483.3 L2029.0,1483.3 L2030.0,1483.3 L2031.0,1483.3 L2032.0,1483.3 L2033.0,1483.3 L2034.0,1483.3 L2035.0,1483.3 L2036.0,1483.3 L2037.0,1483.3 L2038.0,1483.3 L2039.0,1483.3 L2040.0,1483.3 L2041.0,1483.3 L2042.0,1483.3 L2043.0,1483.3 L2044.0,1483.3 L2045.0,1483.3 L2046.0,1483.3 L2047.0,1483.3 L2048.0,1483.3 L2049.0,1483.3 L2050.0,1483.3 L2051.0,1483.3 L2052.0,1483.3 L2053.0,1483.3 L2054.0,1483.3 L2055.0,1483.3 L2056.0,1483.3 L2057.0,1483.3 L2058.0,1483.3 L2059.0,1483.3 L2060.0,1483.3 L2061.0,1483.3 L2062.0,1483.3 L2063.0,1483.3 L2064.0,1483.3 L2065.0,1483.3 L2066.0,1483.3 L2067.0,1483.3 L2068.0,1483.3 L2069.0,1483.3 L2070.0,1483.3 L2071.0,1483.3 L2072.0,1483.3 L2073.0,1483.3 L2074.0,1483.3 L2075.0,1483.3 L2076.0,1483.3 L2077.0,1483.3 L2078.0,1483.3 L2079.0,1483.3 L2080.0,1483.3 L2081.0,1483.3 L2082.0,1483.3 L2083.0,1483.3 L2084.0,1483.3 L2085.0,1483.3 L2086.0,1483.3 L2087.0,1483.3 L2088.0,1483.3 L2089.0,1483.3 L2090.0,1483.3 L2091.0,1483.3 L2092.0,1483.3 L2093.0,1483.3 L2094.0,1483.3 L2095.0,1483.3 L2096.0,1483.3 L2097.0,1483.3 L2098.0,1483.3 L2099.0,1483.3 L2100.0,1483.3 L2101.0,1483.3 L2102.0,1483.3 L2103.0,1483.3 L2104.0,1483.3 L2105.0,1483.3 L2106.0,1483.3 L2107.0,1483.3 L2108.0,1483.3" fill="none" stroke="#cc9900" stroke-width="9" stroke-linejoin="round" />
<path d="M236.0,1483.5 L237.0,1483.5 L238.0,1483.5 L239.0,1483.5 L240.0,1483.5 L241.0,1483.5 L242.0,1483.5 L243.0,1483.5 L244.0,1483.5 L245.0,1483.5 L246.0,1483.5 L247.0,1483.5 L248.0,1483.5 L249.0,1483.5 L250.0,1483.5 L251.0,1483.5 L252.0,1483.5 L253.0,1483.5 L254.0,1483.5 L255.0,1483.5 L256.0,1483.5 L257.0,1483.5 L258.0,1483.5 L259.0,1483.5 L260.0,1483.5 L261.0,1483.5 L262.0,1483.5 L263.0,1483.5 L264.0,1483.5 L265.0,1483.5 L266.0,1483.5 L267.0,1483.5 L268.0,1483.5 L269.0,1483.5 L270.0,1483.5 L271.0,1483.5 L272.0,1483.5 L273.0,1483.5 L274.0,1483.5 L275.0,1483.5 L276.0,1483.5 L277.0,1483.5 L278.0,1483.5 L279.0,1483.5 L280.0,1483.5 L281.0,1483.5 L282.0,1483.5 L283.0,1483.5 L284.0,1483.5 L285.0,1483.5 L286.0,1483.5 L287.0,1483.5 L288.0,1483.5 L289.0,1483.5 L290.0,1483.5 L291.0,1483.5 L292.0,1483.5 L293.0,1483.5 L294.0,1483.5 L295.0,1483.5 L296.0,1483.5 L297.0,1483.5 L298.0,1483.5 L299.0,1483.5 L300.0,1483.5 L301.0,1483.5 L302.0,1483.5 L303.0,1483.5 L304.0,1483.5 L305.0,1483.5 L306.0,1483.5 L307.0,1483.5 L308.0,1483.5 L309.0,1483.5 L310.0,1483.5 L311.0,1483.5 L312.0,1483.5 L313.0,1483.5 L314.0,1483.5 L315.0,1483.5 L316.0,1483.5 L317.0,1483.5 L318.0,1483.5 L319.0,1483.5 L320.0,1483.5 L321.0,1483.5 L322.0,1483.5 L323.0,1483.5 L324.0,1483.5 L325.0,1483.5 L326.0,1483.5 L327.0,1483.5 L328.0,1483.5 L329.0,1483.5 L330.0,1483.5 L331.0,1483.5 L332.0,1483.5 L333.0,1483.5 L334.0,1483.5 L335.0,1483.5 L336.0,1483.5 L337.0,1483.5 L338.0,1483.5 L339.0,1483.5 L340.0,1483.5 L341.0,1483.5 L342.0,1483.5 L343.0,1483.5 L344.0,1483.5 L345.0,1483.5 L346.0,1483.5 L347.0,1483.5 L348.0,1483.5 L349.0,1483.5 L350.0,1483.5 L351.0,1483.5 L352.0,1483.5 L353.0,1483.5 L354.0,1483.5 L355.0,1483.5 L356.0,1483.5 L357.0,1483.5 L358.0,1483.5 L359.0,1483.5 L360.0,1483.5 L361.0,1483.5 L362.0,1483.5 L363.0,1483.5 L364.0,1483.5 L365.0,1483.5 L366.0,1483.5 L367.0,1483.5 L368.0,1483.5 L369.0,1483.5 L370.0,1483.5 L371.0,1483.5 L372.0,1483.5 L373.0,1483.5 L374.0,1483.5 L375.0,1483.5 L376.0,1483.5 L377.0,1483.5 L378.0,1483.5 L379.0,1483.5 L380.0,1483.5 L381.0,1483.5 L382.0,1483.5 L383.0,1483.5 L384.0,1483.5 L385.0,1483.5 L386.0,1483.5 L387.0,1483.5 L388.0,1483.5 L389.0,1483.5 L390.0,1483.5 L391.0,1483.5 L392.0,1483.5 L393.0,1483.5 L394.0,1483.5 L395.0,1483.5 L396.0,1483.5 L397.0,1483.5 L398.0,1483.5 L399.0,1483.5 L400.0,1483.5 L401.0,1483.5 L402.0,1483.5 L403.0,1483.5 L404.0,1483.5 L405.0,1483.5 L406.0,1483.5 L407.0,1483.5 L408.0,1483.5 L409.0,1483.5 L410.0,1483.5 L411.0,1483.5 L412.0,1483.5 L413.0,1483.5 L414.0,1483.5 L415.0,1483.5 L416.0,1483.5 L417.0,1483.5 L418.0,1483.5 L419.0,1483.5 L420.0,1483.5 L421.0,1483.5 L422.0,1483.5 L423.0,1483.5 L424.0,1483.5 L425.0,1483.5 L426.0,1483.5 L427.0,1483.5 L428.0,1483.5 L429.0,1483.5 L430.0,1483.5 L431.0,1483.5 L432.0,1483.5 L433.0,1483.5 L434.0,1483.5 L435.0,1483.5 L436.0,1483.5 L437.0,1483.5 L438.0,1483.5 L439.0,1483.5 L440.0,1483.5 L441.0,1483.5 L442.0,1483.5 L443.0,1483.5 L444.0,1483.5 L445.0,1483.5 L446.0,1483.5 L447.0,1483.5 L448.0,1483.5 L449.0,1483.5 L450.0,1483.5 L451.0,1483.5 L452.0,1483.5 L453.0,1483.5 L454.0,1483.5 L455.0,1483.5 L456.0,1483.5 L457.0,1483.5 L458.0,1483.5 L459.0,1483.5 L460.0,1483.5 L461.0,1483.5 L462.0,1483.5 L463.0,1483.5 L464.0,1483.5 L465.0,1483.5 L466.0,1483.5 L467.0,1483.5 L468.0,1483.5 L469.0,1483.5 L470.0,1483.5 L471.0,1483.5 L472.0,1483.5 L473.0,1483.5 L474.0,1483.5 L475.0,1483.5 L476.0,1483.5 L477.0,1483.5 L478.0,1483.5 L479.0,1483.5 L480.0,1483.5 L481.0,1483.5 L482.0,1483.5 L483.0,1483.5 L484.0,1483.5 L485.0,1483.5 L486.0,1483.5 L487.0,1483.5 L488.0,1483.5 L489.0,1483.5 L490.0,1483.5 L491.0,1483.5 L492.0,1483.5 L493.0,1483.5 L494.0,1483.5 L495.0,1483.5 L496.0,1483.5 L497.0,1483.5 L498.0,1483.5 L499.0,1483.5 L500.0,1483.5 L501.0,1483.5 L502.0,1483.5 L503.0,1483.5 L504.0,1483.5 L505.0,1483.5 L506.0,1483.5 L507.0,1483.5 L508.0,1483.5 L509.0,1483.5 L510.0,1483.5 L511.0,1483.5 L512.0,1483.5 L513.0,1483.5 L514.0,1483.5 L515.0,1483.5 L516.0,1483.5 L517.0,1483.5 L518.0,1483.5 L519.0,1483.5 L520.0,1483.5 L521.0,1483.5 L522.0,1483.5 L523.0,1483.5 L524.0,1483.5 L525.0,1483.5 L526.0,1483.5 L527.0,1483.5 L528.0,1483.5 L529.0,1483.5 L530.0,1483.5 L531.0,1483.5 L532.0,1483.5 L533.0,1483.5 L534.0,1483.5 L535.0,1483.5 L536.0,1483.5 L537.0,1483.5 L538.0,1483.5 L539.0,1483.5 L540.0,1483.5 L541.0,1483.5 L542.0,1483.5 L543.0,1483.5 L544.0,1483.5 L545.0,1483.5 L546.0,1483.5 L547.0,1483.5 L548.0,1483.5 L549.0,1483.5 L550.0,1483.5 L551.0,1483.5 L552.0,1483.5 L553.0,1483.5 L554.0,1483.5 L555.0,1483.5 L556.0,1483.5 L557.0,1483.5 L558.0,1483.5 L559.0,1483.5 L560.0,1483.5 L561.0,1483.5 L562.0,1483.5 L563.0,1483.5 L564.0,1483.5 L565.0,1483.5 L566.0,1483.5 L567.0,1483.5 L568.0,1483.5 L569.0,1483.5 L570.0,1483.5 L571.0,1483.5 L572.0,1483.5 L573.0,1483.5 L574.0,1483.5 L575.0,1483.5 L576.0,1483.5 L577.0,1483.5 L578.0,1483.5 L579.0,1483.5 L580.0,1483.5 L581.0,1483.5 L582.0,1483.5 L583.0,1483.5 L584.0,1483.5 L585.0,1483.5 L586.0,1483.5 L587.0,1483.5 L588.0,1483.5 L589.0,1483.5 L590.0,1483.5 L591.0,1483.5 L592.0,1483.5 L593.0,1483.5 L594.0,1483.5 L595.0,1483.5 L596.0,1483.5 L597.0,1483.5 L598.0,1483.5 L599.0,1483.5 L600.0,1483.5 L601.0,1483.5 L602.0,1483.5 L603.0,1483.5 L604.0,1483.5 L605.0,1483.5 L606.0,1483.5 L607.0,1483.5 L608.0,1483.5 L609.0,1483.5 L610.0,1483.5 L611.0,1483.5 L612.0,1483.5 L613.0,1483.5 L614.0,1483.5 L615.0,1483.5 L616.0,1483.5 L617.0,1483.5 L618.0,1483.5 L619.0,1483.5 L620.0,1483.5 L621.0,1483.5 L622.0,1483.5 L623.0,1483.5 L624.0,1483.5 L625.0,1483.5 L626.0,1483.5 L627.0,1483.5 L628.0,1483.5 L629.0,1483.5 L630.0,1483.5 L631.0,1483.5 L632.0,1483.5 L633.0,1483.5 L634.0,1483.5 L635.0,1483.5 L636.0,1483.5 L637.0,1483.5 L638.0,1483.5 L639.0,1483.5 L640.0,1483.5 L641.0,1483.5 L642.0,1483.5 L643.0,1483.5 L644.0,1483.5 L645.0,1483.5 L646.0,1483.5 L647.0,1483.5 L648.0,1483.5 L649.0,1483.5 L650.0,1483.5 L651.0,1483.5 L652.0,1483.5 L653.0,1483.5 L654.0,1483.5 L655.0,1483.5 L656.0,1483.5 L657.0,1483.5 L658.0,1483.5 L659.0,1483.5 L660.0,1483.5 L661.0,1483.5 L662.0,1483.5 L663.0,1483.5 L664.0,1483.5 L665.0,1483.5 L666.0,1483.5 L667.0,1483.5 L668.0,1483.5 L669.0,1483.5 L670.0,1483.5 L671.0,1483.5 L672.0,1483.5 L673.0,1483.5 L674.0,1483.5 L675.0,1483.5 L676.0,1483.5 L677.0,1483.5 L678.0,1483.5 L679.0,1483.5 L680.0,1483.5 L681.0,1483.5 L682.0,1483.5 L683.0,1483.5 L684.0,1483.5 L685.0,1483.5 L686.0,1483.5 L687.0,1483.5 L688.0,1483.5 L689.0,1483.5 L690.0,1483.5 L691.0,1483.5 L692.0,1483.5 L693.0,1483.5 L694.0,1483.5 L695.0,1483.5 L696.0,1483.5 L697.0,1483.5 L698.0,1483.5 L699.0,1483.5 L700.0,1483.5 L701.0,1483.5 L702.0,1483.5 L703.0,1483.5 L704.0,1483.5 L705.0,1483.5 L706.0,1483.5 L707.0,1483.5 L708.0,1483.5 L709.0,1483.5 L710.0,1483.5 L711.0,1483.5 L712.0,1483.5 L713.0,1483.5 L714.0,1483.5 L715.0,1483.5 L716.0,1483.5 L717.0,1483.5 L718.0,1483.5 L719.0,1483.5 L720.0,1483.5 L721.0,1483.5 L722.0,1483.5 L723.0,1483.5 L724.0,1483.5 L725.0,1483.5 L726.0,1483.5 L727.0,1483.5 L728.0,1483.5 L729.0,1483.5 L730.0,1483.5 L731.0,1483.5 L732.0,1483.5 L733.0,1483.5 L734.0,1483.5 L735.0,1483.5 L736.0,1483.5 L737.0,1483.5 L738.0,1483.5 L739.0,1483.5 L740.0,1483.5 L741.0,1483.5 L742.0,1483.5 L743.0,1483.5 L744.0,1483.5 L745.0,1483.5 L746.0,1483.5 L747.0,1483.5 L748.0,1483.5 L749.0,1483.5 L750.0,1483.5 L751.0,1483.5 L752.0,1483.5 L753.0,1483.5 L754.0,1483.5 L755.0,1483.5 L756.0,1483.5 L757.0,1483.5 L758.0,1483.5 L759.0,1483.5 L760.0,1483.5 L761.0,1483.5 L762.0,1483.5 L763.0,1483.5 L764.0,1483.5 L765.0,1483.5 L766.0,1483.5 L767.0,1483.5 L768.0,1483.5 L769.0,1483.5 L770.0,1483.5 L771.0,1483.5 L772.0,1483.5 L773.0,1483.5 L774.0,1483.5 L775.0,1483.5 L776.0,1483.5 L777.0,1483.5 L778.0,1483.5 L779.0,1483.5 L780.0,1483.5 L781.0,1483.5 L782.0,1483.5 L783.0,1483.5 L784.0,1483.5 L785.0,1483.5 L786.0,1483.5 L787.0,1483.5 L788.0,1483.5 L789.0,1483.5 L790.0,1483.5 L791.0,1483.5 L792.0,1483.5 L793.0,1483.5 L794.0,1483.5 L795.0,1483.5 L796.0,1483.5 L797.0,1483.5 L798.0,1483.5 L799.0,1483.5 L800.0,1483.5 L801.0,1483.5 L802.0,1483.5 L803.0,1483.5 L804.0,1483.5 L805.0,1483.5 L806.0,1483.5 L807.0,1483.5 L808.0,1483.5 L809.0,1483.5 L810.0,1483.5 L811.0,1483.5 L812.0,1483.5 L813.0,1483.5 L814.0,1483.5 L815.0,1483.5 L816.0,1483.5 L817.0,1483.5 L818.0,1483.5 L819.0,1483.5 L820.0,1483.5 L821.0,1483.5 L822.0,1483.5 L823.0,1483.5 L824.0,1483.5 L825.0,1483.5 L826.0,1483.5 L827.0,1483.5 L828.0,1483.5 L829.0,1483.5 L830.0,1483.5 L831.0,1483.5 L832.0,1483.5 L833.0,1483.5 L834.0,1483.5 L835.0,1483.5 L836.0,1483.5 L837.0,1483.5 L838.0,1483.5 L839.0,1483.5 L840.0,1483.5 L841.0,1483.5 L842.0,1483.5 L843.0,1483.5 L844.0,1483.5 L845.0,1483.5 L846.0,1483.5 L847.0,1483.5 L848.0,1483.5 L849.0,1483.5 L850.0,1483.5 L851.0,1483.5 L852.0,1483.5 L853.0,1483.5 L854.0,1483.5 L855.0,1483.5 L856.0,1483.5 L857.0,1483.5 L858.0,1483.5 L859.0,1483.5 L860.0,1483.5 L861.0,1483.5 L862.0,1483.5 L863.0,1483.5 L864.0,1483.5 L865.0,1483.5 L866.0,1483.5 L867.0,1483.5 L868.0,1483.5 L869.0,1483.5 L870.0,1483.5 L871.0,1483.5 L872.0,1483.5 L873.0,1483.5 L874.0,1483.5 L875.0,1483.5 L876.0,1483.5 L877.0,1483.5 L878.0,1483.5 L879.0,1483.5 L880.0,1483.5 L881.0,1483.5 L882.0,1483.5 L883.0,1483.5 L884.0,1483.5 L885.0,1483.5 L886.0,1483.5 L887.0,1483.5 L888.0,1483.5 L889.0,1483.5 L890.0,1483.5 L891.0,1483.5 L892.0,1483.5 L893.0,1483.5 L894.0,1483.5 L895.0,1483.5 L896.0,1483.5 L897.0,1483.5 L898.0,1483.5 L899.0,1483.5 L900.0,1483.5 L901.0,1483.5 L902.0,1483.5 L903.0,1483.5 L904.0,1483.5 L905.0,1483.5 L906.0,1483.5 L907.0,1483.5 L908.0,1483.5 L909.0,1483.5 L910.0,1483.5 L911.0,1483.5 L912.0,1483.5 L913.0,1483.5 L914.0,1483.5 L915.0,1483.5 L916.0,1483.5 L917.0,1483.5 L918.0,1483.5 L919.0,1483.5 L920.0,1483.5 L921.0,1483.5 L922.0,1483.5 L923.0,1483.5 L924.0,1483.5 L925.0,1483.5 L926.0,1483.5 L927.0,1483.5 L928.0,1483.5 L929.0,1483.5 L930.0,1483.5 L931.0,1483.5 L932.0,1483.5 L933.0,1483.5 L934.0,1483.5 L935.0,1483.5 L936.0,1483.5 L937.0,1483.5 L938.0,1483.5 L939.0,1483.5 L940.0,1483.5 L941.0,1483.5 L942.0,1483.5 L943.0,1483.5 L944.0,1483.5 L945.0,1483.5 L946.0,1483.5 L947.0,1483.5 L948.0,1483.5 L949.0,1483.5 L950.0,1483.5 L951.0,1483.5 L952.0,1483.5 L953.0,1483.5 L954.0,1483.5 L955.0,1483.5 L956.0,1483.5 L957.0,1483.5 L958.0,1483.5 L959.0,1483.5 L960.0,1483.5 L961.0,1483.5 L962.0,1483.5 L963.0,1483.5 L964.0,1483.5 L965.0,1483.5 L966.0,1483.5 L967.0,1483.5 L968.0,1483.5 L969.0,1483.5 L970.0,1483.5 L971.0,1483.5 L972.0,1483.5 L973.0,1483.5 L974.0,1483.5 L975.0,1483.5 L976.0,1483.5 L977.0,1483.5 L978.0,1483.5 L979.0,1483.5 L980.0,1483.5 L981.0,1483.5 L982.0,1483.5 L983.0,1483.5 L984.0,1483.5 L985.0,1483.5 L986.0,1483.5 L987.0,1483.5 L988.0,1483.5 L989.0,1483.5 L990.0,1483.5 L991.0,1483.5 L992.0,1483.5 L993.0,1483.5 L994.0,1483.5 L995.0,1483.5 L996.0,1483.5 L997.0,1483.5 L998.0,1483.5 L999.0,1483.5 L1000.0,1483.5 L1001.0,1483.5 L1002.0,1483.5 L1003.0,1483.5 L1004.0,1483.5 L1005.0,1483.5 L1006.0,1483.5 L1007.0,1483.5 L1008.0,1483.5 L1009.0,1483.5 L1010.0,1483.5 L1011.0,1483.5 L1012.0,1483.5 L1013.0,1483.5 L1014.0,1483.5 L1015.0,1483.5 L1016.0,1483.5 L1017.0,1483.5 L1018.0,1483.5 L1019.0,1483.5 L1020.0,1483.5 L1021.0,1483.5 L1022.0,1483.5 L1023.0,1483.5 L1024.0,1483.5 L1025.0,1483.5 L1026.0,1483.5 L1027.0,1483.5 L1028.0,1483.5 L1029.0,1483.5 L1030.0,1483.5 L1031.0,1483.5 L1032.0,1483.5 L1033.0,1483.5 L1034.0,1483.5 L1035.0,1483.5 L1036.0,1483.5 L1037.0,1483.5 L1038.0,1483.5 L1039.0,1483.5 L1040.0,1483.5 L1041.0,1483.5 L1042.0,1483.5 L1043.0,1483.5 L1044.0,1483.5 L1045.0,1483.5 L1046.0,1483.5 L1047.0,1483.5 L1048.0,1483.5 L1049.0,1483.5 L1050.0,1483.5 L1051.0,1483.5 L1052.0,1483.5 L1053.0,1483.5 L1054.0,1483.5 L1055.0,1483.5 L1056.0,1483.5 L1057.0,1483.5 L1058.0,1483.5 L1059.0,1483.5 L1060.0,1483.5 L1061.0,1483.5 L1062.0,1483.5 L1063.0,1483.5 L1064.0,1483.5 L1065.0,1483.5 L1066.0,1483.5 L1067.0,1483.5 L1068.0,1483.5 L1069.0,1483.5 L1070.0,1483.5 L1071.0,1483.5 L1072.0,1483.5 L1073.0,1483.5 L1074.0,1483.5 L1075.0,1483.5 L1076.0,1483.5 L1077.0,1483.5 L1078.0,1483.5 L1079.0,1483.5 L1080.0,1483.5 L1081.0,1483.5 L1082.0,1483.5 L1083.0,1483.5 L1084.0,1483.5 L1085.0,1483.5 L1086.0,1483.5 L1087.0,1483.5 L1088.0,1483.5 L1089.0,1483.5 L1090.0,1483.5 L1091.0,1483.5 L1092.0,1483.5 L1093.0,1483.5 L1094.0,1483.5 L1095.0,1483.5 L1096.0,1483.5 L1097.0,1483.5 L1098.0,1483.5 L1099.0,1483.5 L1100.0,1483.5 L1101.0,1483.5 L1102.0,1483.5 L1103.0,1483.5 L1104.0,1483.5 L1105.0,1483.5 L1106.0,1483.5 L1107.0,1483.5 L1108.0,1483.5 L1109.0,1483.5 L1110.0,1483.5 L1111.0,1483.5 L1112.0,1483.5 L1113.0,1483.5 L1114.0,1483.5 L1115.0,1483.5 L1116.0,1483.5 L1117.0,1483.5 L1118.0,1483.5 L1119.0,1483.5 L1120.0,1483.5 L1121.0,1483.5 L1122.0,1483.5 L1123.0,1483.5 L1124.0,1483.5 L1125.0,1483.5 L1126.0,1483.5 L1127.0,1483.5 L1128.0,1483.5 L1129.0,1483.5 L1130.0,1483.5 L1131.0,1483.5 L1132.0,1483.5 L1133.0,1483.5 L1134.0,1483.5 L1135.0,1483.5 L1136.0,1483.5 L1137.0,1483.5 L1138.0,1483.5 L1139.0,1483.5 L1140.0,1483.5 L1141.0,1483.5 L1142.0,1483.5 L1143.0,1483.5 L1144.0,1483.5 L1145.0,1483.5 L1146.0,1483.5 L1147.0,1483.5 L1148.0,1483.5 L1149.0,1483.5 L1150.0,1483.5 L1151.0,1483.5 L1152.0,1483.5 L1153.0,1483.5 L1154.0,1483.5 L1155.0,1483.5 L1156.0,1483.5 L1157.0,1483.5 L1158.0,1483.5 L1159.0,1483.5 L1160.0,1483.5 L1161.0,1483.5 L1162.0,1483.5 L1163.0,1483.5 L1164.0,1483.5 L1165.0,1483.5 L1166.0,1483.5 L1167.0,1483.5 L1168.0,1483.5 L1169.0,1483.5 L1170.0,1483.5 L1171.0,1483.5 L1172.0,1483.5 L1173.0,1483.5 L1174.0,1483.5 L1175.0,1483.5 L1176.0,1483.5 L1177.0,1483.5 L1178.0,1483.5 L1179.0,1483.5 L1180.0,1483.5 L1181.0,1483.5 L1182.0,1483.5 L1183.0,1483.5 L1184.0,1483.5 L1185.0,1483.5 L1186.0,1483.5 L1187.0,1483.5 L1188.0,1483.5 L1189.0,1483.5 L1190.0,1483.5 L1191.0,1483.5 L1192.0,1483.5 L1193.0,1483.5 L1194.0,1483.5 L1195.0,1483.5 L1196.0,1483.5 L1197.0,1483.5 L1198.0,1483.5 L1199.0,1483.5 L1200.0,1483.5 L1201.0,1483.5 L1202.0,1483.5 L1203.0,1483.5 L1204.0,1483.5 L1205.0,1483.5 L1206.0,1483.5 L1207.0,1483.5 L1208.0,1483.5 L1209.0,1483.5 L1210.0,1483.5 L1211.0,1483.5 L1212.0,1483.5 L1213.0,1483.5 L1214.0,1483.5 L1215.0,1483.5 L1216.0,1483.5 L1217.0,1483.5 L1218.0,1483.5 L1219.0,1483.5 L1220.0,1483.5 L1221.0,1483.5 L1222.0,1483.5 L1223.0,1483.5 L1224.0,1483.5 L1225.0,1483.5 L1226.0,1483.5 L1227.0,1483.5 L1228.0,1483.5 L1229.0,1483.5 L1230.0,1483.5 L1231.0,1483.5 L1232.0,1483.5 L1233.0,1483.5 L1234.0,1483.5 L1235.0,1483.5 L1236.0,1483.5 L1237.0,1483.5 L1238.0,1483.5 L1239.0,1483.5 L1240.0,1483.5 L1241.0,1483.5 L1242.0,1483.5 L1243.0,1483.5 L1244.0,1483.5 L1245.0,1483.5 L1246.0,1483.5 L1247.0,1483.5 L1248.0,1483.5 L1249.0,1483.5 L1250.0,1483.5 L1251.0,1483.5 L1252.0,1483.5 L1253.0,1483.5 L1254.0,1483.5 L1255.0,1483.5 L1256.0,1483.5 L1257.0,1483.5 L1258.0,1483.5 L1259.0,1483.5 L1260.0,1483.5 L1261.0,1483.5 L1262.0,1483.5 L1263.0,1483.5 L1264.0,1483.5 L1265.0,1483.5 L1266.0,1483.5 L1267.0,1483.5 L1268.0,1483.5 L1269.0,1483.5 L1270.0,1483.5 L1271.0,1483.5 L1272.0,1483.5 L1273.0,1483.5 L1274.0,1483.5 L1275.0,1483.5 L1276.0,1483.5 L1277.0,1483.5 L1278.0,1483.5 L1279.0,1483.5 L1280.0,1483.5 L1281.0,1483.5 L1282.0,1483.5 L1283.0,1483.5 L1284.0,1483.5 L1285.0,1483.5 L1286.0,1483.5 L1287.0,1483.5 L1288.0,1483.5 L1289.0,1483.5 L1290.0,1483.5 L1291.0,1483.5 L1292.0,1483.5 L1293.0,1483.5 L1294.0,1483.5 L1295.0,1483.5 L1296.0,1483.5 L1297.0,1483.5 L1298.0,1483.5 L1299.0,1483.5 L1300.0,1483.5 L1301.0,1483.5 L1302.0,1483.5 L1303.0,1483.5 L1304.0,1483.5 L1305.0,1483.5 L1306.0,1483.5 L1307.0,1483.5 L1308.0,1483.5 L1309.0,1483.5 L1310.0,1483.5 L1311.0,1483.5 L1312.0,1483.5 L1313.0,1483.5 L1314.0,1483.5 L1315.0,1483.5 L1316.0,1483.5 L1317.0,1483.5 L1318.0,1483.5 L1319.0,1483.5 L1320.0,1483.5 L1321.0,1483.5 L1322.0,1483.5 L1323.0,1483.5 L1324.0,1483.5 L1325.0,1483.5 L1326.0,1483.5 L1327.0,1483.5 L1328.0,1483.5 L1329.0,1483.5 L1330.0,1483.5 L1331.0,1483.5 L1332.0,1483.5 L1333.0,1483.5 L1334.0,1483.5 L1335.0,1483.5 L1336.0,1483.5 L1337.0,1483.5 L1338.0,1483.5 L1339.0,1483.5 L1340.0,1483.5 L1341.0,1483.5 L1342.0,1483.5 L1343.0,1483.5 L1344.0,1483.5 L1345.0,1483.5 L1346.0,1483.5 L1347.0,1483.5 L1348.0,1483.5 L1349.0,1483.5 L1350.0,1483.5 L1351.0,1483.5 L1352.0,1483.5 L1353.0,1483.5 L1354.0,1483.5 L1355.0,1483.5 L1356.0,1483.5 L1357.0,1483.5 L1358.0,1483.5 L1359.0,1483.5 L1360.0,1483.5 L1361.0,1483.5 L1362.0,1483.5 L1363.0,1483.5 L1364.0,1483.5 L1365.0,1483.5 L1366.0,1483.5 L1367.0,1483.5 L1368.0,1483.5 L1369.0,1483.5 L1370.0,1483.5 L1371.0,1483.5 L1372.0,1483.5 L1373.0,1483.5 L1374.0,1483.5 L1375.0,1483.5 L1376.0,1483.5 L1377.0,1483.5 L1378.0,1483.5 L1379.0,1483.5 L1380.0,1483.5 L1381.0,1483.5 L1382.0,1483.5 L1383.0,1483.5 L1384.0,1483.5 L1385.0,1483.5 L1386.0,1483.5 L1387.0,1483.5 L1388.0,1483.5 L1389.0,1483.5 L1390.0,1483.5 L1391.0,1483.5 L1392.0,1483.5 L1393.0,1483.5 L1394.0,1483.5 L1395.0,1483.5 L1396.0,1483.5 L1397.0,1483.5 L1398.0,1483.5 L1399.0,1483.5 L1400.0,1483.5 L1401.0,1483.5 L1402.0,1483.5 L1403.0,1483.5 L1404.0,1483.5 L1405.0,1483.5 L1406.0,1483.5 L1407.0,1483.5 L1408.0,1483.5 L1409.0,1483.5 L1410.0,1483.5 L1411.0,1483.5 L1412.0,1483.5 L1413.0,1483.5 L1414.0,1483.5 L1415.0,1483.5 L1416.0,1483.5 L1417.0,1483.5 L1418.0,1483.5 L1419.0,1483.5 L1420.0,1483.5 L1421.0,1483.5 L1422.0,1483.5 L1423.0,1483.5 L1424.0,1483.5 L1425.0,1483.5 L1426.0,1483.5 L1427.0,1483.5 L1428.0,1483.5 L1429.0,1483.5 L1430.0,1483.5 L1431.0,1483.5 L1432.0,1483.5 L1433.0,1483.5 L1434.0,1483.5 L1435.0,1483.5 L1436.0,1483.5 L1437.0,1483.5 L1438.0,1483.5 L1439.0,1483.5 L1440.0,1483.5 L1441.0,1483.5 L1442.0,1483.5 L1443.0,1483.5 L1444.0,1483.5 L1445.0,1483.5 L1446.0,1483.5 L1447.0,1483.5 L1448.0,1483.5 L1449.0,1483.5 L1450.0,1483.5 L1451.0,1483.5 L1452.0,1483.5 L1453.0,1483.5 L1454.0,1483.5 L1455.0,1483.5 L1456.0,1483.5 L1457.0,1483.5 L1458.0,1483.5 L1459.0,1483.5 L1460.0,1483.5 L1461.0,1483.5 L1462.0,1483.5 L1463.0,1483.5 L1464.0,1483.5 L1465.0,1483.5 L1466.0,1483.5 L1467.0,1483.5 L1468.0,1483.5 L1469.0,1483.5 L1470.0,1483.5 L1471.0,1483.5 L1472.0,1483.5 L1473.0,1483.5 L1474.0,1483.5 L1475.0,1483.5 L1476.0,1483.5 L1477.0,1483.5 L1478.0,1483.5 L1479.0,1483.5 L1480.0,1483.5 L1481.0,1483.5 L1482.0,1483.5 L1483.0,1483.5 L1484.0,1483.5 L1485.0,1483.5 L1486.0,1483.5 L1487.0,1483.5 L1488.0,1483.5 L1489.0,1483.5 L1490.0,1483.5 L1491.0,1483.5 L1492.0,1483.5 L1493.0,1483.5 L1494.0,1483.5 L1495.0,1483.5 L1496.0,1483.5 L1497.0,1483.5 L1498.0,1483.5 L1499.0,1483.5 L1500.0,1483.5 L1501.0,1483.5 L1502.0,1483.5 L1503.0,1483.5 L1504.0,1483.5 L1505.0,1483.5 L1506.0,1483.5 L1507.0,1483.5 L1508.0,1483.5 L1509.0,1483.5 L1510.0,1483.5 L1511.0,1483.5 L1512.0,1483.5 L1513.0,1483.5 L1514.0,1483.5 L1515.0,1483.5 L1516.0,1483.5 L1517.0,1483.5 L1518.0,1483.5 L1519.0,1483.5 L1520.0,1483.5 L1521.0,1483.5 L1522.0,1483.5 L1523.0,1483.5 L1524.0,1483.5 L1525.0,1483.5 L1526.0,1483.5 L1527.0,1483.5 L1528.0,1483.5 L1529.0,1483.5 L1530.0,1483.5 L1531.0,1483.5 L1532.0,1483.5 L1533.0,1483.5 L1534.0,1483.5 L1535.0,1483.5 L1536.0,1483.5 L1537.0,1483.5 L1538.0,1483.5 L1539.0,1483.5 L1540.0,1483.5 L1541.0,1483.5 L1542.0,1483.5 L1543.0,1483.5 L1544.0,1483.5 L1545.0,1483.5 L1546.0,1483.5 L1547.0,1483.5 L1548.0,1483.5 L1549.0,1483.5 L1550.0,1483.5 L1551.0,1483.5 L1552.0,1483.5 L1553.0,1483.5 L1554.0,1483.5 L1555.0,1483.5 L1556.0,1483.5 L1557.0,1483.5 L1558.0,1483.5 L1559.0,1483.5 L1560.0,1483.5 L1561.0,1483.5 L1562.0,1483.5 L1563.0,1483.5 L1564.0,1483.5 L1565.0,1483.5 L1566.0,1483.5 L1567.0,1483.5 L1568.0,1483.5 L1569.0,1483.5 L1570.0,1483.5 L1571.0,1483.5 L1572.0,1483.5 L1573.0,1483.5 L1574.0,1483.5 L1575.0,1483.5 L1576.0,1483.5 L1577.0,1483.5 L1578.0,1483.5 L1579.0,1483.5 L1580.0,1483.5 L1581.0,1483.5 L1582.0,1483.5 L1583.0,1483.5 L1584.0,1483.5 L1585.0,1483.5 L1586.0,1483.5 L1587.0,1483.5 L1588.0,1483.5 L1589.0,1483.5 L1590.0,1483.5 L1591.0,1483.5 L1592.0,1483.5 L1593.0,1483.5 L1594.0,1483.5 L1595.0,1483.5 L1596.0,1483.5 L1597.0,1483.5 L1598.0,1483.5 L1599.0,1483.5 L1600.0,1483.5 L1601.0,1483.5 L1602.0,1483.5 L1603.0,1483.5 L1604.0,1483.5 L1605.0,1483.5 L1606.0,1483.5 L1607.0,1483.5 L1608.0,1483.5 L1609.0,1483.5 L1610.0,1483.5 L1611.0,1483.5 L1612.0,1483.5 L1613.0,1483.5 L1614.0,1483.5 L1615.0,1483.5 L1616.0,1483.5 L1617.0,1483.5 L1618.0,1483.5 L1619.0,1483.5 L1620.0,1483.5 L1621.0,1483.5 L1622.0,1483.5 L1623.0,1483.5 L1624.0,1483.5 L1625.0,1483.5 L1626.0,1483.5 L1627.0,1483.5 L1628.0,1483.5 L1629.0,1483.5 L1630.0,1483.5 L1631.0,1483.5 L1632.0,1483.5 L1633.0,1483.5 L1634.0,1483.5 L1635.0,1483.5 L1636.0,1483.5 L1637.0,1483.5 L1638.0,1483.5 L1639.0,1483.5 L1640.0,1483.5 L1641.0,1483.5 L1642.0,1483.5 L1643.0,1483.5 L1644.0,1483.5 L1645.0,1483.5 L1646.0,1483.5 L1647.0,1483.5 L1648.0,1483.5 L1649.0,1483.5 L1650.0,1483.5 L1651.0,1483.5 L1652.0,1483.5 L1653.0,1483.5 L1654.0,1483.5 L1655.0,1483.5 L1656.0,1483.5 L1657.0,1483.5 L1658.0,1483.5 L1659.0,1483.5 L1660.0,1483.5 L1661.0,1483.5 L1662.0,1483.5 L1663.0,1483.5 L1664.0,1483.5 L1665.0,1483.5 L1666.0,1483.5 L1667.0,1483.5 L1668.0,1483.5 L1669.0,1483.5 L1670.0,1483.5 L1671.0,1483.5 L1672.0,1483.5 L1673.0,1483.5 L1674.0,1483.5 L1675.0,1483.5 L1676.0,1483.5 L1677.0,1483.5 L1678.0,1483.5 L1679.0,1483.5 L1680.0,1483.5 L1681.0,1483.5 L1682.0,1483.5 L1683.0,1483.5 L1684.0,1483.5 L1685.0,1483.5 L1686.0,1483.5 L1687.0,1483.5 L1688.0,1483.5 L1689.0,1483.5 L1690.0,1483.5 L1691.0,1483.5 L1692.0,1483.5 L1693.0,1483.5 L1694.0,1483.5 L1695.0,1483.5 L1696.0,1483.5 L1697.0,1483.5 L1698.0,1483.5 L1699.0,1483.5 L1700.0,1483.5 L1701.0,1483.5 L1702.0,1483.5 L1703.0,1483.5 L1704.0,1483.5 L1705.0,1483.5 L1706.0,1483.5 L1707.0,1483.5 L1708.0,1483.5 L1709.0,1483.5 L1710.0,1483.5 L1711.0,1483.5 L1712.0,1483.5 L1713.0,1483.5 L1714.0,1483.5 L1715.0,1483.5 L1716.0,1483.5 L1717.0,1483.5 L1718.0,1483.5 L1719.0,1483.5 L1720.0,1483.5 L1721.0,1483.5 L1722.0,1483.5 L1723.0,1483.5 L1724.0,1483.5 L1725.0,1483.5 L1726.0,1483.5 L1727.0,1483.5 L1728.0,1483.5 L1729.0,1483.5 L1730.0,1483.5 L1731.0,1483.5 L1732.0,1483.5 L1733.0,1483.5 L1734.0,1483.5 L1735.0,1483.5 L1736.0,1483.5 L1737.0,1483.5 L1738.0,1483.5 L1739.0,1483.5 L1740.0,1483.5 L1741.0,1483.5 L1742.0,1483.5 L1743.0,1483.5 L1744.0,1483.5 L1745.0,1483.5 L1746.0,1483.5 L1747.0,1483.5 L1748.0,1483.5 L1749.0,1483.5 L1750.0,1483.5 L1751.0,1483.5 L1752.0,1483.5 L1753.0,1483.5 L1754.0,1483.5 L1755.0,1483.5 L1756.0,1483.5 L1757.0,1483.5 L1758.0,1483.5 L1759.0,1483.5 L1760.0,1483.5 L1761.0,1483.5 L1762.0,1483.5 L1763.0,1483.5 L1764.0,1483.5 L1765.0,1483.5 L1766.0,1483.5 L1767.0,1483.5 L1768.0,1483.5 L1769.0,1483.5 L1770.0,1483.5 L1771.0,1483.5 L1772.0,1483.5 L1773.0,1483.5 L1774.0,1483.5 L1775.0,1483.5 L1776.0,1483.5 L1777.0,1483.5 L1778.0,1483.5 L1779.0,1483.5 L1780.0,1483.5 L1781.0,1483.5 L1782.0,1483.5 L1783.0,1483.5 L1784.0,1483.5 L1785.0,1483.5 L1786.0,1483.5 L1787.0,1483.5 L1788.0,1483.5 L1789.0,1483.5 L1790.0,1483.5 L1791.0,1483.5 L1792.0,1483.5 L1793.0,1483.5 L1794.0,1483.5 L1795.0,1483.5 L1796.0,1483.5 L1797.0,1483.5 L1798.0,1483.5 L1799.0,1483.5 L1800.0,1483.5 L1801.0,1483.5 L1802.0,1483.5 L1803.0,1483.5 L1804.0,1483.5 L1805.0,1483.5 L1806.0,1483.5 L1807.0,1483.5 L1808.0,1483.5 L1809.0,1483.5 L1810.0,1483.5 L1811.0,1483.5 L1812.0,1483.5 L1813.0,1483.5 L1814.0,1483.5 L1815.0,1483.5 L1816.0,1483.5 L1817.0,1483.5 L1818.0,1483.5 L1819.0,1483.5 L1820.0,1483.5 L1821.0,1483.5 L1822.0,1483.5 L1823.0,1483.5 L1824.0,1483.5 L1825.0,1483.5 L1826.0,1483.5 L1827.0,1483.5 L1828.0,1483.5 L1829.0,1483.5 L1830.0,1483.5 L1831.0,1483.5 L1832.0,1483.5 L1833.0,1483.5 L1834.0,1483.5 L1835.0,1483.5 L1836.0,1483.5 L1837.0,1483.5 L1838.0,1483.5 L1839.0,1483.5 L1840.0,1483.5 L1841.0,1483.5 L1842.0,1483.5 L1843.0,1483.5 L1844.0,1483.5 L1845.0,1483.5 L1846.0,1483.5 L1847.0,1483.5 L1848.0,1483.5 L1849.0,1483.5 L1850.0,1483.5 L1851.0,1483.5 L1852.0,1483.5 L1853.0,1483.5 L1854.0,1483.5 L1855.0,1483.5 L1856.0,1483.5 L1857.0,1483.5 L1858.0,1483.5 L1859.0,1483.5 L1860.0,1483.5 L1861.0,1483.5 L1862.0,1483.5 L1863.0,1483.5 L1864.0,1483.5 L1865.0,1483.5 L1866.0,1483.5 L1867.0,1483.5 L1868.0,1483.5 L1869.0,1483.5 L1870.0,1483.5 L1871.0,1483.5 L1872.0,1483.5 L1873.0,1483.5 L1874.0,1483.5 L1875.0,1483.5 L1876.0,1483.5 L1877.0,1483.5 L1878.0,1483.5 L1879.0,1483.5 L1880.0,1483.5 L1881.0,1483.5 L1882.0,1483.5 L1883.0,1483.5 L1884.0,1483.5 L1885.0,1483.5 L1886.0,1483.5 L1887.0,1483.5 L1888.0,1483.5 L1889.0,1483.5 L1890.0,1483.5 L1891.0,1483.5 L1892.0,1483.5 L1893.0,1483.5 L1894.0,1483.5 L1895.0,1483.5 L1896.0,1483.5 L1897.0,1483.5 L1898.0,1483.5 L1899.0,1483.5 L1900.0,1483.5 L1901.0,1483.5 L1902.0,1483.5 L1903.0,1483.5 L1904.0,1483.5 L1905.0,1483.5 L1906.0,1483.5 L1907.0,1483.5 L1908.0,1483.5 L1909.0,1483.5 L1910.0,1483.5 L1911.0,1483.5 L1912.0,1483.5 L1913.0,1483.5 L1914.0,1483.5 L1915.0,1483.5 L1916.0,1483.5 L1917.0,1483.5 L1918.0,1483.5 L1919.0,1483.5 L1920.0,1483.5 L1921.0,1483.5 L1922.0,1483.5 L1923.0,1483.5 L1924.0,1483.5 L1925.0,1483.5 L1926.0,1483.5 L1927.0,1483.5 L1928.0,1483.5 L1929.0,1483.5 L1930.0,1483.5 L1931.0,1483.5 L1932.0,1483.5 L1933.0,1483.5 L1934.0,1483.5 L1935.0,1483.5 L1936.0,1483.5 L1937.0,1483.5 L1938.0,1483.5 L1939.0,1483.5 L1940.0,1483.5 L1941.0,1483.5 L1942.0,1483.5 L1943.0,1483.5 L1944.0,1483.5 L1945.0,1483.5 L1946.0,1483.5 L1947.0,1483.5 L1948.0,1483.5 L1949.0,1483.5 L1950.0,1483.5 L1951.0,1483.5 L1952.0,1483.5 L1953.0,1483.5 L1954.0,1483.5 L1955.0,1483.5 L1956.0,1483.5 L1957.0,1483.5 L1958.0,1483.5 L1959.0,1483.5 L1960.0,1483.5 L1961.0,1483.5 L1962.0,1483.5 L1963.0,1483.5 L1964.0,1483.5 L1965.0,1483.5 L1966.0,1483.5 L1967.0,1483.5 L1968.0,1483.5 L1969.0,1483.5 L1970.0,1483.5 L1971.0,1483.5 L1972.0,1483.5 L1973.0,1483.5 L1974.0,1483.5 L1975.0,1483.5 L1976.0,1483.5 L1977.0,1483.5 L1978.0,1483.5 L1979.0,1483.5 L1980.0,1483.5 L1981.0,1483.5 L1982.0,1483.5 L1983.0,1483.5 L1984.0,1483.5 L1985.0,1483.5 L1986.0,1483.5 L1987.0,1483.5 L1988.0,1483.5 L1989.0,1483.5 L1990.0,1483.5 L1991.0,1483.5 L1992.0,1483.5 L1993.0,1483.5 L1994.0,1483.5 L1995.0,1483.5 L1996.0,1483.5 L1997.0,1483.5 L1998.0,1483.5 L1999.0,1483.5 L2000.0,1483.5 L2001.0,1483.5 L2002.0,1483.5 L2003.0,1483.5 L2004.0,1483.5 L2005.0,1483.5 L2006.0,1483.5 L2007.0,1483.5 L2008.0,1483.5 L2009.0,1483.5 L2010.0,1483.5 L2011.0,1483.5 L2012.0,1483.5 L2013.0,1483.5 L2014.0,1483.5 L2015.0,1483.5 L2016.0,1483.5 L2017.0,1483.5 L2018.0,1483.5 L2019.0,1483.5 L2020.0,1483.5 L2021.0,1483.5 L2022.0,1483.5 L2023.0,1483.5 L2024.0,1483.5 L2025.0,1483.5 L2026.0,1483.5 L2027.0,1483.5 L2028.0,1483.5 L2029.0,1483.5 L2030.0,1483.5 L2031.0,1483.5 L2032.0,1483.5 L2033.0,1483.5 L2034.0,1483.5 L2035.0,1483.5 L2036.0,1483.5 L2037.0,1483.5 L2038.0,1483.5 L2039.0,1483.5 L2040.0,1483.5 L2041.0,1483.5 L2042.0,1483.5 L2043.0,1483.5 L2044.0,1483.5 L2045.0,1483.5 L2046.0,1483.5 L2047.0,1483.5 L2048.0,1483.5 L2049.0,1483.5 L2050.0,1483.5 L2051.0,1483.5 L2052.0,1483.5 L2053.0,1483.5 L2054.0,1483.5 L2055.0,1483.5 L2056.0,1483.5 L2057.0,1483.5 L2058.0,1483.5 L2059.0,1483.5 L2060.0,1483.5 L2061.0,1483.5 L2062.0,1483.5 L2063.0,1483.5 L2064.0,1483.5 L2065.0,1483.5 L2066.0,1483.5 L2067.0,1483.5 L2068.0,1483.5 L2069.0,1483.5 L2070.0,1483.5 L2071.0,1483.5 L2072.0,1483.5 L2073.0,1483.5 L2074.0,1483.5 L2075.0,1483.5 L2076.0,1483.5 L2077.0,1483.5 L2078.0,1483.5 L2079.0,1483.5 L2080.0,1483.5 L2081.0,1483.5 L2082.0,1483.5 L2083.0,1483.5 L2084.0,1483.5 L2085.0,1483.5 L2086.0,1483.5 L2087.0,1483.5 L2088.0,1483.5 L2089.0,1483.5 L2090.0,1483.5 L2091.0,1483.5 L2092.0,1483.5 L2093.0,1483.5 L2094.0,1483.5 L2095.0,1483.5 L2096.0,1483.5 L2097.0,1483.5 L2098.0,1483.5 L2099.0,1483.5 L2100.0,1483.5 L2101.0,1483.5 L2102.0,1483.5 L2103.0,1483.5 L2104.0,1483.5 L2105.0,1483.5 L2106.0,1483.5 L2107.0,1483.5 L2108.0,1483.5" fill="none" stroke="#00cbcc" stroke-width="9" stroke-linejoin="round" />
</g>
<path d="M330,61l19,21m0,-21l-19,21" stroke="#000" stroke-width="3" fill="none"/><text transform="translate(435.8,97.1) scale(0.9840,1.0650)" font-size="68">Experimental</text><line x1="263" y1="161.3" x2="417" y2="161.3" stroke="#f14040" stroke-width="9"/><text transform="translate(435.8,187.2) scale(0.9840,1.0650)" font-size="68">Fitting</text><line x1="263.2" y1="264.4" x2="415.7" y2="264.4" stroke="#0000ff" stroke-opacity="0.75" stroke-width="9" stroke-linecap="round"/><text transform="translate(435.8,289.9) scale(0.9840,1.0650)" font-size="68">Co<tspan dy="-31.6" font-size="46">3+</tspan></text><line x1="263" y1="367.5" x2="417" y2="367.5" stroke="#37ad6b" stroke-width="9"/><text transform="translate(435.8,393.0) scale(0.9840,1.0650)" font-size="68">Co<tspan dy="-31.6" font-size="46">2+</tspan></text><line x1="263" y1="470.4" x2="417" y2="470.4" stroke="#b177de" stroke-width="9"/><text transform="translate(435.8,496.0) scale(0.9840,1.0650)" font-size="68">Co<tspan dy="-31.6" font-size="46">3+</tspan><tspan dy="31.6" dx="-2.6" font-size="68"> satellite</tspan></text><line x1="263" y1="573.5" x2="417" y2="573.5" stroke="#cc9900" stroke-width="9"/><text transform="translate(435.8,598.8) scale(0.9840,1.0650)" font-size="68">Co<tspan dy="-31.6" font-size="46">2+</tspan><tspan dy="31.6" dx="-2.6" font-size="68"> satellite</tspan></text><line x1="263" y1="663.4" x2="417" y2="663.4" stroke="#00cbcc" stroke-width="9"/><text transform="translate(435.8,689.3) scale(0.9840,1.0650)" font-size="68">Bkg</text>
<text transform="translate(237.0,1600) scale(1.01,1.12)" font-size="84" text-anchor="middle">805</text><text transform="translate(524.7,1600) scale(1.01,1.12)" font-size="84" text-anchor="middle">800</text><text transform="translate(812.4,1600) scale(1.01,1.12)" font-size="84" text-anchor="middle">795</text><text transform="translate(1100.1,1600) scale(1.01,1.12)" font-size="84" text-anchor="middle">790</text><text transform="translate(1387.8,1600) scale(1.01,1.12)" font-size="84" text-anchor="middle">785</text><text transform="translate(1675.5,1600) scale(1.01,1.12)" font-size="84" text-anchor="middle">780</text><text transform="translate(1963.2,1600) scale(1.01,1.12)" font-size="84" text-anchor="middle">775</text>
<text transform="translate(1173,1668.1) scale(1.021,1.10)" font-size="59" text-anchor="middle">Binding Energy (eV)</text>
<text transform="translate(108.9,723.3) rotate(-90) scale(1.0757,1.03)" font-size="110" text-anchor="middle">Intensity(a.u.)</text>
</svg></body></html>
